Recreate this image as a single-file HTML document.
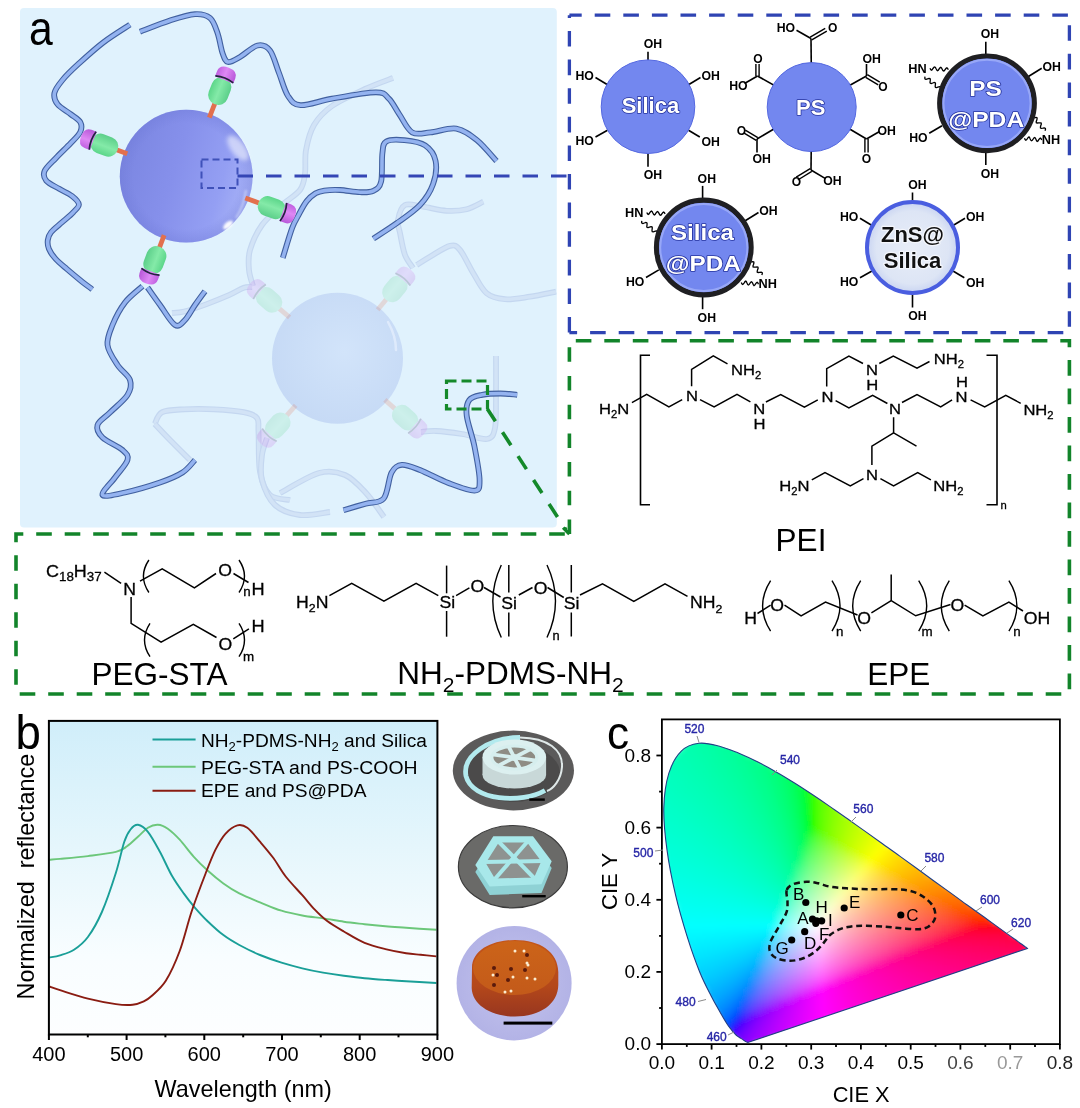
<!DOCTYPE html>
<html><head><meta charset="utf-8"><title>Figure</title>
<style>
html,body{margin:0;padding:0;background:#fff;}
body{width:1080px;height:1108px;overflow:hidden;}
svg{display:block;font-family:"Liberation Sans",sans-serif;filter:blur(0.5px);}
</style></head><body>
<svg width="1080" height="1108" viewBox="0 0 1080 1108">
<defs>
<linearGradient id="sph1" x1="0" y1="0.2" x2="1" y2="0.5">
 <stop offset="0" stop-color="#7a85e0"/>
 <stop offset="0.45" stop-color="#8690eb"/>
 <stop offset="0.8" stop-color="#949ff3"/>
 <stop offset="1" stop-color="#a6b1f6"/>
</linearGradient>
<radialGradient id="sph1r" cx="0.5" cy="0.5" r="0.5">
 <stop offset="0.8" stop-color="#6d78d6" stop-opacity="0"/>
 <stop offset="1" stop-color="#6d78d6" stop-opacity="0.35"/>
</radialGradient>
<filter id="hb" x="-50%" y="-50%" width="200%" height="200%"><feGaussianBlur stdDeviation="2.2"/></filter>
<filter id="hb1" x="-50%" y="-50%" width="200%" height="200%"><feGaussianBlur stdDeviation="0.8"/></filter>
<radialGradient id="sph2" cx="0.55" cy="0.45" r="0.6">
 <stop offset="0" stop-color="#d2e4fa"/>
 <stop offset="1" stop-color="#c5d9f5"/>
</radialGradient>
<linearGradient id="capG" x1="0" y1="0" x2="0" y2="1">
 <stop offset="0" stop-color="#5cd68a"/>
 <stop offset="0.45" stop-color="#84eaa8"/>
 <stop offset="1" stop-color="#5ccf8a"/>
</linearGradient>
<linearGradient id="capM" x1="0" y1="0" x2="0" y2="1">
 <stop offset="0" stop-color="#c060e0"/>
 <stop offset="0.45" stop-color="#de88f4"/>
 <stop offset="1" stop-color="#b858d8"/>
</linearGradient>
<linearGradient id="plotbg" x1="0" y1="0" x2="0" y2="1">
 <stop offset="0" stop-color="#d0eefa"/>
 <stop offset="0.4" stop-color="#e5f6fc"/>
 <stop offset="0.75" stop-color="#f8fdff"/>
 <stop offset="1" stop-color="#fdfeff"/>
</linearGradient>
</defs>
<rect x="20" y="8" width="536.8" height="519.6" rx="4" fill="#e0f2fd"/>
<path d="M393,78C388.3,79.8 375.2,84.3 365,89C354.8,93.7 340.5,100 332,106C323.5,112 318.3,117.7 314,125C309.7,132.3 307.5,141.8 306,150C304.5,158.2 306,167.3 305,174C304,180.7 303.8,184.8 300,190C296.2,195.2 288.3,199.2 282,205C275.7,210.8 267.3,217.5 262,225C256.7,232.5 252.2,242.5 250,250C247.8,257.5 248.5,264 249,270C249.5,276 252.3,283.3 253,286" fill="none" stroke="#c4d7f0" stroke-width="5.8" stroke-linejoin="round"/>
<path d="M393,78C388.3,79.8 375.2,84.3 365,89C354.8,93.7 340.5,100 332,106C323.5,112 318.3,117.7 314,125C309.7,132.3 307.5,141.8 306,150C304.5,158.2 306,167.3 305,174C304,180.7 303.8,184.8 300,190C296.2,195.2 288.3,199.2 282,205C275.7,210.8 267.3,217.5 262,225C256.7,232.5 252.2,242.5 250,250C247.8,257.5 248.5,264 249,270C249.5,276 252.3,283.3 253,286" fill="none" stroke="#d2e3f6" stroke-width="3.5" stroke-linejoin="round"/>
<path d="M252,287C250.6,287.1 247.5,286.4 243.7,287.8C239.8,289.2 235.1,292.5 228.9,295.2C222.7,297.9 214.1,301.4 206.7,304.1C199.3,306.8 190.2,310 184.4,311.5C178.6,313 174.1,312.8 172,313" fill="none" stroke="#c4d7f0" stroke-width="5.8" stroke-linejoin="round"/>
<path d="M252,287C250.6,287.1 247.5,286.4 243.7,287.8C239.8,289.2 235.1,292.5 228.9,295.2C222.7,297.9 214.1,301.4 206.7,304.1C199.3,306.8 190.2,310 184.4,311.5C178.6,313 174.1,312.8 172,313" fill="none" stroke="#d2e3f6" stroke-width="3.5" stroke-linejoin="round"/>
<path d="M413,268C411.7,265.8 407.2,260.8 405,255C402.8,249.2 401.2,238.8 400,233C398.8,227.2 397.2,224.7 398,220C398.8,215.3 400.8,207.2 405,205C409.2,202.8 416.1,205.7 423,206.7C429.9,207.7 439.4,210.4 446.7,210.8C454,211.2 460.6,210.7 466.7,209.2C472.8,207.7 480.5,202.9 483.3,201.7" fill="none" stroke="#c4d7f0" stroke-width="5.8" stroke-linejoin="round"/>
<path d="M413,268C411.7,265.8 407.2,260.8 405,255C402.8,249.2 401.2,238.8 400,233C398.8,227.2 397.2,224.7 398,220C398.8,215.3 400.8,207.2 405,205C409.2,202.8 416.1,205.7 423,206.7C429.9,207.7 439.4,210.4 446.7,210.8C454,211.2 460.6,210.7 466.7,209.2C472.8,207.7 480.5,202.9 483.3,201.7" fill="none" stroke="#d2e3f6" stroke-width="3.5" stroke-linejoin="round"/>
<path d="M416.7,265C418.9,263.6 424.4,259.9 430,256.7C435.6,253.5 445,246.9 450,245.8C455,244.7 456.1,245.4 460,250C463.9,254.6 468.9,266.1 473.3,273.3C477.8,280.5 481.4,289 486.7,293.3C492,297.6 497.8,298.6 505,299.2C512.2,299.8 521.5,297.9 530,296.7C538.5,295.4 551.7,292.5 556,291.7" fill="none" stroke="#c4d7f0" stroke-width="5.8" stroke-linejoin="round"/>
<path d="M416.7,265C418.9,263.6 424.4,259.9 430,256.7C435.6,253.5 445,246.9 450,245.8C455,244.7 456.1,245.4 460,250C463.9,254.6 468.9,266.1 473.3,273.3C477.8,280.5 481.4,289 486.7,293.3C492,297.6 497.8,298.6 505,299.2C512.2,299.8 521.5,297.9 530,296.7C538.5,295.4 551.7,292.5 556,291.7" fill="none" stroke="#d2e3f6" stroke-width="3.5" stroke-linejoin="round"/>
<path d="M154.8,424C156,422 157.3,414.6 162.2,412.2C167.1,409.8 175.8,409.8 184.4,409.3C193,408.8 204.1,408.8 214,409.3C223.9,409.8 236.5,410.8 243.7,412.2C250.9,413.6 254.5,414.7 257,418C259.5,421.3 258,423 258.5,432C259,441 258.1,461.5 260,472C261.9,482.5 265,490.3 270,495C275,499.7 286.7,499.2 290,500" fill="none" stroke="#c4d7f0" stroke-width="5.8" stroke-linejoin="round"/>
<path d="M154.8,424C156,422 157.3,414.6 162.2,412.2C167.1,409.8 175.8,409.8 184.4,409.3C193,408.8 204.1,408.8 214,409.3C223.9,409.8 236.5,410.8 243.7,412.2C250.9,413.6 254.5,414.7 257,418C259.5,421.3 258,423 258.5,432C259,441 258.1,461.5 260,472C261.9,482.5 265,490.3 270,495C275,499.7 286.7,499.2 290,500" fill="none" stroke="#d2e3f6" stroke-width="3.5" stroke-linejoin="round"/>
<path d="M154.8,424C157.3,426.7 164.1,434 170,440C175.9,446 186.7,456.7 190,460" fill="none" stroke="#c4d7f0" stroke-width="5.8" stroke-linejoin="round"/>
<path d="M154.8,424C157.3,426.7 164.1,434 170,440C175.9,446 186.7,456.7 190,460" fill="none" stroke="#d2e3f6" stroke-width="3.5" stroke-linejoin="round"/>
<path d="M280,493C286.5,489.7 308.2,476 319,473C329.8,470 337.2,471.7 345,475C352.8,478.3 359.5,486 366,493C372.5,500 381,513 384,517" fill="none" stroke="#c4d7f0" stroke-width="5.8" stroke-linejoin="round"/>
<path d="M280,493C286.5,489.7 308.2,476 319,473C329.8,470 337.2,471.7 345,475C352.8,478.3 359.5,486 366,493C372.5,500 381,513 384,517" fill="none" stroke="#d2e3f6" stroke-width="3.5" stroke-linejoin="round"/>
<path d="M421,432C423.5,431.8 429.2,430.7 436,431C442.8,431.3 453.5,432.7 462,434C470.5,435.3 481.5,440 487,439C492.5,438 493.5,435.3 495,428C496.5,420.7 495.8,407 496,395C496.2,383 496,362.5 496,356" fill="none" stroke="#c4d7f0" stroke-width="5.8" stroke-linejoin="round"/>
<path d="M421,432C423.5,431.8 429.2,430.7 436,431C442.8,431.3 453.5,432.7 462,434C470.5,435.3 481.5,440 487,439C492.5,438 493.5,435.3 495,428C496.5,420.7 495.8,407 496,395C496.2,383 496,362.5 496,356" fill="none" stroke="#d2e3f6" stroke-width="3.5" stroke-linejoin="round"/>
<path d="M267,438C266.2,440.8 262.8,448 262,455C261.2,462 259.8,471.7 262,480C264.2,488.3 268.7,499.2 275,505C281.3,510.8 290.8,513.8 300,515C309.2,516.2 325,512.5 330,512" fill="none" stroke="#c4d7f0" stroke-width="5.8" stroke-linejoin="round"/>
<path d="M267,438C266.2,440.8 262.8,448 262,455C261.2,462 259.8,471.7 262,480C264.2,488.3 268.7,499.2 275,505C281.3,510.8 290.8,513.8 300,515C309.2,516.2 325,512.5 330,512" fill="none" stroke="#d2e3f6" stroke-width="3.5" stroke-linejoin="round"/>
<circle cx="337.5" cy="358.3" r="65.5" fill="url(#sph2)"/>
<path d="M388,322 Q396,336 396,350" fill="none" stroke="#e4eefc" stroke-width="2.5" stroke-linecap="round" opacity="0.8"/>
<g transform="translate(337.5,358.3) rotate(220.5)" opacity="0.2">
<rect x="63" y="-2.4" width="17" height="4.8" fill="#e2704e"/>
<g transform="translate(3,0)">
<rect x="73" y="-10" width="28" height="20" rx="9.5" fill="url(#capG)"/>
<path d="M99,-9.8 H104.5 Q112,-9.8 112,0 Q112,9.8 104.5,9.8 H99 Z" fill="url(#capM)"/>
<path d="M99.5,-9.6 Q102.5,0 99.5,9.6" fill="none" stroke="#23233f" stroke-width="1.7"/>
</g></g>
<g transform="translate(337.5,358.3) rotate(-50.4)" opacity="0.2">
<rect x="63" y="-2.4" width="17" height="4.8" fill="#e2704e"/>
<g transform="translate(3,0)">
<rect x="73" y="-10" width="28" height="20" rx="9.5" fill="url(#capG)"/>
<path d="M99,-9.8 H104.5 Q112,-9.8 112,0 Q112,9.8 104.5,9.8 H99 Z" fill="url(#capM)"/>
<path d="M99.5,-9.6 Q102.5,0 99.5,9.6" fill="none" stroke="#23233f" stroke-width="1.7"/>
</g></g>
<g transform="translate(337.5,358.3) rotate(131.6)" opacity="0.2">
<rect x="63" y="-2.4" width="17" height="4.8" fill="#e2704e"/>
<g transform="translate(3,0)">
<rect x="73" y="-10" width="28" height="20" rx="9.5" fill="url(#capG)"/>
<path d="M99,-9.8 H104.5 Q112,-9.8 112,0 Q112,9.8 104.5,9.8 H99 Z" fill="url(#capM)"/>
<path d="M99.5,-9.6 Q102.5,0 99.5,9.6" fill="none" stroke="#23233f" stroke-width="1.7"/>
</g></g>
<g transform="translate(337.5,358.3) rotate(41.3)" opacity="0.2">
<rect x="63" y="-2.4" width="17" height="4.8" fill="#e2704e"/>
<g transform="translate(3,0)">
<rect x="73" y="-10" width="28" height="20" rx="9.5" fill="url(#capG)"/>
<path d="M99,-9.8 H104.5 Q112,-9.8 112,0 Q112,9.8 104.5,9.8 H99 Z" fill="url(#capM)"/>
<path d="M99.5,-9.6 Q102.5,0 99.5,9.6" fill="none" stroke="#23233f" stroke-width="1.7"/>
</g></g>
<path d="M129.9,24.7C125.4,27.7 111.6,36.1 103.1,42.6C94.6,49.1 85.5,57.5 78.7,63.7C71.9,69.9 66.5,75.1 62.5,80C58.5,84.9 55.2,89 54.4,93C53.6,97 54.9,100.8 57.6,104.3C60.3,107.8 66.8,111.1 70.6,114.1C74.4,117.1 78.7,119.2 80.3,122.2C81.9,125.2 81.9,128.4 80.3,131.9C78.7,135.4 74.6,139 70.6,143.3C66.5,147.6 60.3,153.3 56,157.9C51.7,162.5 46.2,167.1 44.6,170.9C43,174.7 43.8,177.6 46.2,180.6C48.6,183.6 54.9,186.2 59.2,188.8C63.5,191.4 68.7,193.4 72,196C75.3,198.6 78.7,201.7 78.9,204.4C79.1,207.1 76.1,209.2 73.3,212.2C70.5,215.2 65.9,218.9 62.2,222.2C58.5,225.5 53.5,229.2 51.1,232.2C48.7,235.2 48.2,237.2 47.8,240C47.4,242.8 47.6,245.8 48.9,248.9C50.2,252.1 52.6,255.6 55.6,258.9C58.6,262.2 62.6,265.4 66.7,268.9C70.8,272.4 75.8,276.6 80,280C84.2,283.4 90.2,287.8 92.2,289.4" fill="none" stroke="#41609f" stroke-width="5.8" stroke-linejoin="round"/>
<path d="M129.9,24.7C125.4,27.7 111.6,36.1 103.1,42.6C94.6,49.1 85.5,57.5 78.7,63.7C71.9,69.9 66.5,75.1 62.5,80C58.5,84.9 55.2,89 54.4,93C53.6,97 54.9,100.8 57.6,104.3C60.3,107.8 66.8,111.1 70.6,114.1C74.4,117.1 78.7,119.2 80.3,122.2C81.9,125.2 81.9,128.4 80.3,131.9C78.7,135.4 74.6,139 70.6,143.3C66.5,147.6 60.3,153.3 56,157.9C51.7,162.5 46.2,167.1 44.6,170.9C43,174.7 43.8,177.6 46.2,180.6C48.6,183.6 54.9,186.2 59.2,188.8C63.5,191.4 68.7,193.4 72,196C75.3,198.6 78.7,201.7 78.9,204.4C79.1,207.1 76.1,209.2 73.3,212.2C70.5,215.2 65.9,218.9 62.2,222.2C58.5,225.5 53.5,229.2 51.1,232.2C48.7,235.2 48.2,237.2 47.8,240C47.4,242.8 47.6,245.8 48.9,248.9C50.2,252.1 52.6,255.6 55.6,258.9C58.6,262.2 62.6,265.4 66.7,268.9C70.8,272.4 75.8,276.6 80,280C84.2,283.4 90.2,287.8 92.2,289.4" fill="none" stroke="#94b3f0" stroke-width="3.6" stroke-linejoin="round"/>
<path d="M140,31.8C145,29.9 160.8,23.4 170,20.5C179.2,17.6 188.3,14.7 195,14.2C201.7,13.8 206.2,14.9 210,18C213.8,21.1 215.4,27.2 217.5,33C219.6,38.8 220.8,48.2 222.5,53C224.2,57.8 225.1,61.3 228,62C230.9,62.7 235.1,59.8 240,57C244.9,54.2 252.5,46.6 257.5,45.5C262.5,44.4 266.4,45.9 270,50.5C273.6,55.1 276,65.4 279,73C282,80.6 284.4,90.6 288,96C291.6,101.4 293.4,104.8 300.7,105.2C308,105.7 319.4,100.9 331.9,98.7C344.4,96.5 366.4,92.3 375.9,92.3C385.4,92.3 385,95 388.9,98.7C392.8,102.4 395.4,108.7 399.3,114.3C403.2,119.9 407,129.4 412.2,132.4C417.4,135.4 423,133 430.4,132.4C437.8,131.8 448.5,127.3 456.3,128.6C464.1,129.9 470.3,134.8 477,140.2C483.7,145.6 493.2,157.5 496.5,161" fill="none" stroke="#41609f" stroke-width="5.8" stroke-linejoin="round"/>
<path d="M140,31.8C145,29.9 160.8,23.4 170,20.5C179.2,17.6 188.3,14.7 195,14.2C201.7,13.8 206.2,14.9 210,18C213.8,21.1 215.4,27.2 217.5,33C219.6,38.8 220.8,48.2 222.5,53C224.2,57.8 225.1,61.3 228,62C230.9,62.7 235.1,59.8 240,57C244.9,54.2 252.5,46.6 257.5,45.5C262.5,44.4 266.4,45.9 270,50.5C273.6,55.1 276,65.4 279,73C282,80.6 284.4,90.6 288,96C291.6,101.4 293.4,104.8 300.7,105.2C308,105.7 319.4,100.9 331.9,98.7C344.4,96.5 366.4,92.3 375.9,92.3C385.4,92.3 385,95 388.9,98.7C392.8,102.4 395.4,108.7 399.3,114.3C403.2,119.9 407,129.4 412.2,132.4C417.4,135.4 423,133 430.4,132.4C437.8,131.8 448.5,127.3 456.3,128.6C464.1,129.9 470.3,134.8 477,140.2C483.7,145.6 493.2,157.5 496.5,161" fill="none" stroke="#94b3f0" stroke-width="3.6" stroke-linejoin="round"/>
<path d="M282.8,257.8C284.4,252.8 289.5,235 292.2,227.8C294.9,220.6 296.5,218.9 298.9,214.4C301.3,209.9 303.9,204.6 306.7,201.1C309.5,197.6 312.7,195.1 315.6,193.3C318.6,191.6 320.3,191.2 324.4,190.6C328.5,190 334.1,189.7 340,190C345.9,190.3 354.4,192.1 360,192.2C365.6,192.3 369.8,192.6 373.3,190.8C376.8,189.1 379.6,188 381.1,181.7C382.6,175.4 381.5,159.9 382.4,153.2C383.3,146.5 382.6,143.7 386.3,141.5C390,139.3 397.9,139.5 404.4,140.2C410.9,140.8 420,141.9 425.2,145.4C430.4,148.9 434.3,154.5 435.6,161C436.9,167.5 435.6,177 433,184.3C430.4,191.6 426.1,198.5 420,205C413.9,211.5 404.5,217.6 396.7,223.2C388.9,228.8 377.2,236.1 373.3,238.7" fill="none" stroke="#41609f" stroke-width="5.8" stroke-linejoin="round"/>
<path d="M282.8,257.8C284.4,252.8 289.5,235 292.2,227.8C294.9,220.6 296.5,218.9 298.9,214.4C301.3,209.9 303.9,204.6 306.7,201.1C309.5,197.6 312.7,195.1 315.6,193.3C318.6,191.6 320.3,191.2 324.4,190.6C328.5,190 334.1,189.7 340,190C345.9,190.3 354.4,192.1 360,192.2C365.6,192.3 369.8,192.6 373.3,190.8C376.8,189.1 379.6,188 381.1,181.7C382.6,175.4 381.5,159.9 382.4,153.2C383.3,146.5 382.6,143.7 386.3,141.5C390,139.3 397.9,139.5 404.4,140.2C410.9,140.8 420,141.9 425.2,145.4C430.4,148.9 434.3,154.5 435.6,161C436.9,167.5 435.6,177 433,184.3C430.4,191.6 426.1,198.5 420,205C413.9,211.5 404.5,217.6 396.7,223.2C388.9,228.8 377.2,236.1 373.3,238.7" fill="none" stroke="#94b3f0" stroke-width="3.6" stroke-linejoin="round"/>
<path d="M142.5,286.2C139.6,289 130,296 125,302.5C120,309 115.4,317.9 112.5,325C109.6,332.1 106.7,338.3 107.5,345C108.3,351.7 113.8,359.2 117.5,365C121.2,370.8 128.3,375 130,380C131.7,385 130.8,389.6 127.5,395C124.2,400.4 115,407.5 110,412.5C105,417.5 98.8,420.8 97.5,425C96.2,429.2 98.3,433.3 102.5,437.5C106.7,441.7 118.3,446.2 122.5,450C126.7,453.8 128.8,455.4 127.5,460C126.2,464.6 119.2,471.7 115,477.5C110.8,483.3 100.8,492.5 102.5,495C104.2,497.5 115.4,494.6 125,492.5C134.6,490.4 150.4,485.8 160,482.5C169.6,479.2 176.7,476.2 182.5,472.5C188.3,468.8 192.9,462.1 195,460" fill="none" stroke="#41609f" stroke-width="5.8" stroke-linejoin="round"/>
<path d="M142.5,286.2C139.6,289 130,296 125,302.5C120,309 115.4,317.9 112.5,325C109.6,332.1 106.7,338.3 107.5,345C108.3,351.7 113.8,359.2 117.5,365C121.2,370.8 128.3,375 130,380C131.7,385 130.8,389.6 127.5,395C124.2,400.4 115,407.5 110,412.5C105,417.5 98.8,420.8 97.5,425C96.2,429.2 98.3,433.3 102.5,437.5C106.7,441.7 118.3,446.2 122.5,450C126.7,453.8 128.8,455.4 127.5,460C126.2,464.6 119.2,471.7 115,477.5C110.8,483.3 100.8,492.5 102.5,495C104.2,497.5 115.4,494.6 125,492.5C134.6,490.4 150.4,485.8 160,482.5C169.6,479.2 176.7,476.2 182.5,472.5C188.3,468.8 192.9,462.1 195,460" fill="none" stroke="#94b3f0" stroke-width="3.6" stroke-linejoin="round"/>
<path d="M147.5,287.5C149.6,290.4 155.4,298.8 160,305C164.6,311.2 170.8,322.5 175,325C179.2,327.5 181.7,323.3 185,320C188.3,316.7 191.7,309.8 195,305C198.3,300.2 203.3,293.5 205,291.2" fill="none" stroke="#41609f" stroke-width="5.8" stroke-linejoin="round"/>
<path d="M147.5,287.5C149.6,290.4 155.4,298.8 160,305C164.6,311.2 170.8,322.5 175,325C179.2,327.5 181.7,323.3 185,320C188.3,316.7 191.7,309.8 195,305C198.3,300.2 203.3,293.5 205,291.2" fill="none" stroke="#94b3f0" stroke-width="3.6" stroke-linejoin="round"/>
<path d="M343.5,510.2C347.2,509.1 358.9,505.6 365.6,503.7C372.3,501.8 379.4,503.7 383.7,498.5C388,493.3 388.5,478.2 391.5,472.6C394.5,467 397.1,465.2 401.9,464.8C406.6,464.4 412.2,467 420,470C427.8,473 439.4,479.6 448.5,483C457.6,486.4 469.3,491.1 474.5,490.7C479.7,490.3 479.6,487.7 479.6,480.4C479.6,473.1 476.6,457.5 474.5,446.7C472.4,435.9 467.6,423.4 466.7,415.6C465.8,407.8 466.7,403.5 469.3,400C471.9,396.5 477,395.9 482.2,394.8C487.4,393.7 494.6,393.5 500.4,393.5C506.2,393.5 514.4,394.6 517.2,394.8" fill="none" stroke="#41609f" stroke-width="5.8" stroke-linejoin="round"/>
<path d="M343.5,510.2C347.2,509.1 358.9,505.6 365.6,503.7C372.3,501.8 379.4,503.7 383.7,498.5C388,493.3 388.5,478.2 391.5,472.6C394.5,467 397.1,465.2 401.9,464.8C406.6,464.4 412.2,467 420,470C427.8,473 439.4,479.6 448.5,483C457.6,486.4 469.3,491.1 474.5,490.7C479.7,490.3 479.6,487.7 479.6,480.4C479.6,473.1 476.6,457.5 474.5,446.7C472.4,435.9 467.6,423.4 466.7,415.6C465.8,407.8 466.7,403.5 469.3,400C471.9,396.5 477,395.9 482.2,394.8C487.4,393.7 494.6,393.5 500.4,393.5C506.2,393.5 514.4,394.6 517.2,394.8" fill="none" stroke="#94b3f0" stroke-width="3.6" stroke-linejoin="round"/>
<circle cx="186.2" cy="176.2" r="66.4" fill="url(#sph1)"/>
<circle cx="186.2" cy="176.2" r="66.4" fill="url(#sph1r)"/>
<ellipse cx="238" cy="148" rx="7" ry="15" transform="rotate(-38 238 148)" fill="#f4f7ff" opacity="0.6" filter="url(#hb)"/>
<ellipse cx="228" cy="225" rx="6" ry="3" transform="rotate(-40 228 225)" fill="#ffffff" opacity="0.95" filter="url(#hb1)"/>
<path d="M246,190 Q244,206 236,218" fill="none" stroke="#d6ddfb" stroke-width="2" opacity="0.7" filter="url(#hb1)"/>
<g transform="translate(186.2,176.2) rotate(-68.5)">
<rect x="63" y="-2.4" width="18.5" height="4.8" fill="#e2704e"/>
<g transform="translate(4.5,0)">
<rect x="73" y="-10" width="28" height="20" rx="9.5" fill="url(#capG)"/>
<path d="M99,-9.8 H104.5 Q112,-9.8 112,0 Q112,9.8 104.5,9.8 H99 Z" fill="url(#capM)"/>
<path d="M99.5,-9.6 Q102.5,0 99.5,9.6" fill="none" stroke="#23233f" stroke-width="1.7"/>
</g></g>
<g transform="translate(186.2,176.2) rotate(200.8)">
<rect x="63" y="-2.4" width="14.5" height="4.8" fill="#e2704e"/>
<g transform="translate(0.5,0)">
<rect x="73" y="-10" width="28" height="20" rx="9.5" fill="url(#capG)"/>
<path d="M99,-9.8 H104.5 Q112,-9.8 112,0 Q112,9.8 104.5,9.8 H99 Z" fill="url(#capM)"/>
<path d="M99.5,-9.6 Q102.5,0 99.5,9.6" fill="none" stroke="#23233f" stroke-width="1.7"/>
</g></g>
<g transform="translate(186.2,176.2) rotate(20.2)">
<rect x="63" y="-2.4" width="18" height="4.8" fill="#e2704e"/>
<g transform="translate(4,0)">
<rect x="73" y="-10" width="28" height="20" rx="9.5" fill="url(#capG)"/>
<path d="M99,-9.8 H104.5 Q112,-9.8 112,0 Q112,9.8 104.5,9.8 H99 Z" fill="url(#capM)"/>
<path d="M99.5,-9.6 Q102.5,0 99.5,9.6" fill="none" stroke="#23233f" stroke-width="1.7"/>
</g></g>
<g transform="translate(186.2,176.2) rotate(110.5)">
<rect x="63" y="-2.4" width="16.5" height="4.8" fill="#e2704e"/>
<g transform="translate(2.5,0)">
<rect x="73" y="-10" width="28" height="20" rx="9.5" fill="url(#capG)"/>
<path d="M99,-9.8 H104.5 Q112,-9.8 112,0 Q112,9.8 104.5,9.8 H99 Z" fill="url(#capM)"/>
<path d="M99.5,-9.6 Q102.5,0 99.5,9.6" fill="none" stroke="#23233f" stroke-width="1.7"/>
</g></g>
<rect x="201.5" y="159.5" width="36" height="28.5" fill="none" stroke="#3f51b9" stroke-width="2" stroke-dasharray="7 4"/>
<line x1="237.5" y1="176" x2="569" y2="176" stroke="#3446b5" stroke-width="3.2" stroke-dasharray="15.5 13"/>
<rect x="446.5" y="381" width="41" height="28" fill="none" stroke="#14892a" stroke-width="3.2" stroke-dasharray="10 5"/>
<line x1="487.4" y1="409" x2="566" y2="530" stroke="#14892a" stroke-width="3.6" stroke-dasharray="15.5 13" stroke-dashoffset="0.8"/>
<text transform="translate(29.1,44.8) scale(0.88,1)" font-size="48.5">a</text>
<path d="M569.4,15.2 H1069.4" fill="none" stroke="#2f44b3" stroke-width="3.3" stroke-dasharray="15.6 13" stroke-dashoffset="3.3"/>
<path d="M1069.4,15.2 V332.6" fill="none" stroke="#2f44b3" stroke-width="3.3" stroke-dasharray="15.6 13" stroke-dashoffset="18.6"/>
<path d="M1069.4,332.6 H569.4" fill="none" stroke="#2f44b3" stroke-width="3.3" stroke-dasharray="15.6 13" stroke-dashoffset="22.5"/>
<path d="M569.4,332.6 V15.2" fill="none" stroke="#2f44b3" stroke-width="3.3" stroke-dasharray="15.6 13" stroke-dashoffset="0"/>
<path d="M569.7,340.7 H1069.4 V694 H16 V534 H569.7" fill="none" stroke="#12842a" stroke-width="3.6" stroke-dasharray="15.6 12.9" stroke-dashoffset="22.4"/>
<path d="M569.4,534 V340.7" fill="none" stroke="#12842a" stroke-width="3.6" stroke-dasharray="14.5 14.2"/>
<path d="M563.2,527.6 L569.4,534.2" fill="none" stroke="#12842a" stroke-width="3.4"/>
<defs>
<radialGradient id="znsG" cx="0.5" cy="0.5" r="0.5">
 <stop offset="0" stop-color="#e8edf8"/>
 <stop offset="0.8" stop-color="#dde5f5"/>
 <stop offset="1" stop-color="#c9d4f2"/>
</radialGradient>
</defs>
<line x1="648" y1="51.7" x2="648" y2="61.7" stroke="#000" stroke-width="1.6"/>
<text x="643.8" y="47.9" font-size="12" font-weight="bold" textLength="18.4" lengthAdjust="spacingAndGlyphs">OH</text>
<line x1="688.5" y1="84.7" x2="700.5" y2="77.5" stroke="#000" stroke-width="1.6"/>
<text x="701.5" y="79.7" font-size="12" font-weight="bold" textLength="18.4" lengthAdjust="spacingAndGlyphs">OH</text>
<line x1="688.5" y1="130.2" x2="699.8" y2="137" stroke="#000" stroke-width="1.6"/>
<text x="701.5" y="145.7" font-size="12" font-weight="bold" textLength="18.4" lengthAdjust="spacingAndGlyphs">OH</text>
<line x1="648" y1="151.7" x2="648" y2="166.7" stroke="#000" stroke-width="1.6"/>
<text x="643.8" y="178.7" font-size="12" font-weight="bold" textLength="18.4" lengthAdjust="spacingAndGlyphs">OH</text>
<line x1="607.5" y1="84.7" x2="595.5" y2="77.5" stroke="#000" stroke-width="1.6"/>
<text x="575.5" y="79.7" font-size="12" font-weight="bold" textLength="18.4" lengthAdjust="spacingAndGlyphs">HO</text>
<line x1="607.5" y1="130.2" x2="595.5" y2="137" stroke="#000" stroke-width="1.6"/>
<text x="575.5" y="145.2" font-size="12" font-weight="bold" textLength="18.4" lengthAdjust="spacingAndGlyphs">HO</text>
<circle cx="648" cy="106.7" r="46.8" fill="#7387ef" stroke="#5468e0" stroke-width="1"/>
<text x="650.4" y="113.3" font-size="22" font-weight="bold" text-anchor="middle" fill="#fff" stroke="#25339e" stroke-width="1.6" paint-order="stroke" stroke-linejoin="round">Silica</text>
<line x1="912.5" y1="192.5" x2="912.5" y2="202.5" stroke="#000" stroke-width="1.6"/>
<text x="908.3" y="188.7" font-size="12" font-weight="bold" textLength="18.4" lengthAdjust="spacingAndGlyphs">OH</text>
<line x1="953" y1="225.5" x2="965" y2="218.3" stroke="#000" stroke-width="1.6"/>
<text x="966" y="220.5" font-size="12" font-weight="bold" textLength="18.4" lengthAdjust="spacingAndGlyphs">OH</text>
<line x1="953" y1="271" x2="964.3" y2="277.8" stroke="#000" stroke-width="1.6"/>
<text x="966" y="286.5" font-size="12" font-weight="bold" textLength="18.4" lengthAdjust="spacingAndGlyphs">OH</text>
<line x1="912.5" y1="292.5" x2="912.5" y2="307.5" stroke="#000" stroke-width="1.6"/>
<text x="908.3" y="319.5" font-size="12" font-weight="bold" textLength="18.4" lengthAdjust="spacingAndGlyphs">OH</text>
<line x1="872" y1="225.5" x2="860" y2="218.3" stroke="#000" stroke-width="1.6"/>
<text x="840" y="220.5" font-size="12" font-weight="bold" textLength="18.4" lengthAdjust="spacingAndGlyphs">HO</text>
<line x1="872" y1="271" x2="860" y2="277.8" stroke="#000" stroke-width="1.6"/>
<text x="840" y="286" font-size="12" font-weight="bold" textLength="18.4" lengthAdjust="spacingAndGlyphs">HO</text>
<circle cx="912.5" cy="247.5" r="45.5" fill="url(#znsG)" stroke="#4a5ee0" stroke-width="4"/>
<text x="912.5" y="241.7" font-size="22" font-weight="bold" text-anchor="middle" fill="#111" stroke="#f4f6fc" stroke-width="2.5" paint-order="stroke" stroke-linejoin="round">ZnS@</text>
<text x="912.5" y="268.3" font-size="22" font-weight="bold" text-anchor="middle" fill="#111" stroke="#f4f6fc" stroke-width="2.5" paint-order="stroke" stroke-linejoin="round">Silica</text>
<line x1="985.8" y1="41.7" x2="985.8" y2="55.3" stroke="#000" stroke-width="1.6"/>
<text x="980.8" y="38.3" font-size="12" font-weight="bold" textLength="18.4" lengthAdjust="spacingAndGlyphs">OH</text>
<line x1="1028" y1="76.8" x2="1041.7" y2="68.3" stroke="#000" stroke-width="1.6"/>
<text x="1042.5" y="70.8" font-size="12" font-weight="bold" textLength="18.4" lengthAdjust="spacingAndGlyphs">OH</text>
<line x1="942" y1="125.7" x2="929.2" y2="133.3" stroke="#000" stroke-width="1.6"/>
<text x="909.2" y="141.7" font-size="12" font-weight="bold" textLength="18.4" lengthAdjust="spacingAndGlyphs">HO</text>
<line x1="985.8" y1="151.3" x2="985.8" y2="165" stroke="#000" stroke-width="1.6"/>
<text x="980.8" y="177.5" font-size="12" font-weight="bold" textLength="18.4" lengthAdjust="spacingAndGlyphs">OH</text>
<text x="908.3" y="72.5" font-size="12" font-weight="bold" textLength="18.4" lengthAdjust="spacingAndGlyphs">HN</text>
<path d="M930,68.3 L930.7,69.6 L931.4,70.2 L932.2,69.7 L933,68.5 L933.9,67.3 L934.7,66.9 L935.4,67.4 L936.1,68.8 L936.8,70.1 L937.5,70.7 L938.3,70.2 L939.1,69 L940,67.8 L940.8,67.3 L941.5,67.9 L942.2,69.2 L942.9,70.6 L943.6,71.1 L944.4,70.7 L945.2,69.5 L946.1,68.3 L946.9,67.8 L947.6,68.4 L948.3,69.7" fill="none" stroke="#000" stroke-width="1.3"/>
<path d="M925,76.7 L924.8,78.2 L925.2,79.1 L926.1,79.3 L927.6,78.8 L929,78.3 L930,78.5 L930.3,79.4 L930.2,80.9 L930,82.4 L930.3,83.3 L931.3,83.5 L932.8,83 L934.2,82.5 L935.2,82.7 L935.5,83.6 L935.3,85.1 L935.2,86.6 L935.5,87.5 L936.5,87.7 L937.9,87.2 L939.4,86.7 L940.3,86.9 L940.7,87.8 L940.5,89.3" fill="none" stroke="#000" stroke-width="1.3"/>
<text x="1041.7" y="144.2" font-size="12" font-weight="bold" textLength="18.4" lengthAdjust="spacingAndGlyphs">NH</text>
<path d="M1024.5,138.3 L1025.1,139.6 L1025.8,140.2 L1026.5,139.8 L1027.4,138.6 L1028.2,137.4 L1029,136.9 L1029.6,137.5 L1030.2,138.9 L1030.8,140.2 L1031.5,140.8 L1032.3,140.3 L1033.1,139.2 L1033.9,138 L1034.7,137.5 L1035.4,138.1 L1036,139.4 L1036.6,140.8 L1037.2,141.4 L1038,140.9 L1038.8,139.7 L1039.7,138.5 L1040.4,138.1 L1041.1,138.7 L1041.7,140" fill="none" stroke="#000" stroke-width="1.3"/>
<path d="M1032.5,115 L1032,116.4 L1032.1,117.4 L1033.1,117.8 L1034.6,117.6 L1036.1,117.5 L1037,117.8 L1037.1,118.8 L1036.7,120.3 L1036.2,121.7 L1036.3,122.7 L1037.2,123 L1038.8,122.9 L1040.3,122.8 L1041.2,123.1 L1041.3,124.1 L1040.8,125.5 L1040.4,127 L1040.5,128 L1041.4,128.3 L1042.9,128.2 L1044.4,128 L1045.4,128.4 L1045.5,129.4 L1045,130.8" fill="none" stroke="#000" stroke-width="1.3"/>
<circle cx="987" cy="103.3" r="47.3" fill="#7387ef" stroke="#1f1f22" stroke-width="5.2"/>
<circle cx="987" cy="103.3" r="43.6" fill="none" stroke="#97a7f7" stroke-width="2"/>
<text x="985.4" y="95.8" font-size="22" font-weight="bold" text-anchor="middle" fill="#fff" stroke="#25339e" stroke-width="1.6" paint-order="stroke" stroke-linejoin="round" textLength="32.5" lengthAdjust="spacingAndGlyphs">PS</text>
<text x="986.2" y="126.7" font-size="22" font-weight="bold" text-anchor="middle" fill="#fff" stroke="#25339e" stroke-width="1.6" paint-order="stroke" stroke-linejoin="round" textLength="76" lengthAdjust="spacingAndGlyphs">@PDA</text>
<line x1="702.6" y1="185.9" x2="702.6" y2="199.5" stroke="#000" stroke-width="1.6"/>
<text x="697.6" y="182.5" font-size="12" font-weight="bold" textLength="18.4" lengthAdjust="spacingAndGlyphs">OH</text>
<line x1="744.8" y1="221" x2="758.5" y2="212.5" stroke="#000" stroke-width="1.6"/>
<text x="759.3" y="215" font-size="12" font-weight="bold" textLength="18.4" lengthAdjust="spacingAndGlyphs">OH</text>
<line x1="658.8" y1="269.9" x2="646" y2="277.5" stroke="#000" stroke-width="1.6"/>
<text x="626" y="285.9" font-size="12" font-weight="bold" textLength="18.4" lengthAdjust="spacingAndGlyphs">HO</text>
<line x1="702.6" y1="295.5" x2="702.6" y2="309.2" stroke="#000" stroke-width="1.6"/>
<text x="697.6" y="321.7" font-size="12" font-weight="bold" textLength="18.4" lengthAdjust="spacingAndGlyphs">OH</text>
<text x="625.1" y="216.7" font-size="12" font-weight="bold" textLength="18.4" lengthAdjust="spacingAndGlyphs">HN</text>
<path d="M646.8,212.5 L647.5,213.8 L648.2,214.4 L649,213.9 L649.8,212.7 L650.7,211.5 L651.5,211.1 L652.2,211.6 L652.9,213 L653.6,214.3 L654.3,214.9 L655.1,214.4 L655.9,213.2 L656.8,212 L657.6,211.5 L658.3,212.1 L659,213.4 L659.7,214.8 L660.4,215.3 L661.2,214.9 L662,213.7 L662.9,212.5 L663.7,212 L664.4,212.6 L665.1,213.9" fill="none" stroke="#000" stroke-width="1.3"/>
<path d="M641.8,220.9 L641.6,222.4 L642,223.3 L642.9,223.5 L644.4,223 L645.8,222.5 L646.8,222.7 L647.1,223.6 L647,225.1 L646.8,226.6 L647.1,227.5 L648.1,227.7 L649.5,227.2 L651,226.7 L652,226.9 L652.3,227.8 L652.1,229.3 L652,230.8 L652.3,231.7 L653.3,231.9 L654.7,231.4 L656.2,230.9 L657.1,231.1 L657.5,232 L657.3,233.5" fill="none" stroke="#000" stroke-width="1.3"/>
<text x="758.5" y="288.4" font-size="12" font-weight="bold" textLength="18.4" lengthAdjust="spacingAndGlyphs">NH</text>
<path d="M741.3,282.5 L741.9,283.8 L742.6,284.4 L743.3,284 L744.2,282.8 L745,281.6 L745.8,281.1 L746.4,281.7 L747,283.1 L747.6,284.4 L748.3,285 L749.1,284.5 L749.9,283.4 L750.7,282.2 L751.5,281.7 L752.2,282.3 L752.8,283.6 L753.4,285 L754,285.6 L754.8,285.1 L755.6,283.9 L756.5,282.7 L757.2,282.3 L757.9,282.9 L758.5,284.2" fill="none" stroke="#000" stroke-width="1.3"/>
<path d="M749.3,259.2 L748.8,260.6 L748.9,261.6 L749.9,262 L751.4,261.8 L752.9,261.7 L753.8,262 L753.9,263 L753.5,264.5 L753,265.9 L753.1,266.9 L754,267.2 L755.5,267.1 L757.1,267 L758,267.3 L758.1,268.3 L757.6,269.7 L757.2,271.2 L757.3,272.2 L758.2,272.5 L759.7,272.4 L761.2,272.2 L762.2,272.6 L762.3,273.6 L761.8,275" fill="none" stroke="#000" stroke-width="1.3"/>
<circle cx="703.8" cy="247.5" r="47.3" fill="#7387ef" stroke="#1f1f22" stroke-width="5.2"/>
<circle cx="703.8" cy="247.5" r="43.6" fill="none" stroke="#97a7f7" stroke-width="2"/>
<text x="702.5" y="240" font-size="22" font-weight="bold" text-anchor="middle" fill="#fff" stroke="#25339e" stroke-width="1.6" paint-order="stroke" stroke-linejoin="round" textLength="63" lengthAdjust="spacingAndGlyphs">Silica</text>
<text x="703.3" y="270.8" font-size="22" font-weight="bold" text-anchor="middle" fill="#fff" stroke="#25339e" stroke-width="1.6" paint-order="stroke" stroke-linejoin="round" textLength="75" lengthAdjust="spacingAndGlyphs">@PDA</text>
<line x1="811" y1="38.5" x2="811.7" y2="106.5" stroke="#000" stroke-width="1.6"/>
<line x1="811.8" y1="39.9" x2="826.8" y2="31.2" stroke="#000" stroke-width="1.4"/>
<line x1="810.2" y1="37.1" x2="825.2" y2="28.4" stroke="#000" stroke-width="1.4"/>
<line x1="811" y1="38.5" x2="796.5" y2="30.2" stroke="#000" stroke-width="1.6"/>
<text x="828" y="32" font-size="12" font-weight="bold" textLength="9.4" lengthAdjust="spacingAndGlyphs">O</text>
<text x="776.7" y="31.7" font-size="12" font-weight="bold" textLength="18.4" lengthAdjust="spacingAndGlyphs">HO</text>
<line x1="866.5" y1="76" x2="811.7" y2="106.5" stroke="#000" stroke-width="1.6"/>
<line x1="865.7" y1="77.4" x2="878.2" y2="84.9" stroke="#000" stroke-width="1.4"/>
<line x1="867.3" y1="74.6" x2="879.8" y2="82.1" stroke="#000" stroke-width="1.4"/>
<line x1="866.5" y1="76" x2="866.5" y2="64" stroke="#000" stroke-width="1.6"/>
<text x="878.3" y="90.8" font-size="12" font-weight="bold" textLength="9.4" lengthAdjust="spacingAndGlyphs">O</text>
<text x="862.5" y="62.5" font-size="12" font-weight="bold" textLength="18.4" lengthAdjust="spacingAndGlyphs">OH</text>
<line x1="866.5" y1="139" x2="811.7" y2="106.5" stroke="#000" stroke-width="1.6"/>
<line x1="864.9" y1="139" x2="864.9" y2="152.5" stroke="#000" stroke-width="1.4"/>
<line x1="868.1" y1="139" x2="868.1" y2="152.5" stroke="#000" stroke-width="1.4"/>
<line x1="866.5" y1="139" x2="879.5" y2="131.5" stroke="#000" stroke-width="1.6"/>
<text x="861.7" y="162.5" font-size="12" font-weight="bold" textLength="9.4" lengthAdjust="spacingAndGlyphs">O</text>
<text x="877.5" y="135" font-size="12" font-weight="bold" textLength="18.4" lengthAdjust="spacingAndGlyphs">OH</text>
<line x1="811" y1="170" x2="811.7" y2="106.5" stroke="#000" stroke-width="1.6"/>
<line x1="810.2" y1="168.6" x2="796.2" y2="177.2" stroke="#000" stroke-width="1.4"/>
<line x1="811.8" y1="171.4" x2="797.8" y2="180" stroke="#000" stroke-width="1.4"/>
<line x1="811" y1="170" x2="825.5" y2="178.6" stroke="#000" stroke-width="1.6"/>
<text x="791.7" y="185.8" font-size="12" font-weight="bold" textLength="9.4" lengthAdjust="spacingAndGlyphs">O</text>
<text x="823.3" y="185" font-size="12" font-weight="bold" textLength="18.4" lengthAdjust="spacingAndGlyphs">OH</text>
<line x1="757" y1="139" x2="811.7" y2="106.5" stroke="#000" stroke-width="1.6"/>
<line x1="757.8" y1="137.6" x2="745.3" y2="130.1" stroke="#000" stroke-width="1.4"/>
<line x1="756.2" y1="140.4" x2="743.7" y2="132.9" stroke="#000" stroke-width="1.4"/>
<line x1="757" y1="139" x2="757" y2="152.5" stroke="#000" stroke-width="1.6"/>
<text x="736.7" y="135" font-size="12" font-weight="bold" textLength="9.4" lengthAdjust="spacingAndGlyphs">O</text>
<text x="752.5" y="162.5" font-size="12" font-weight="bold" textLength="18.4" lengthAdjust="spacingAndGlyphs">OH</text>
<line x1="757.5" y1="76" x2="811.7" y2="106.5" stroke="#000" stroke-width="1.6"/>
<line x1="759.1" y1="76" x2="759.1" y2="64" stroke="#000" stroke-width="1.4"/>
<line x1="755.9" y1="76" x2="755.9" y2="64" stroke="#000" stroke-width="1.4"/>
<line x1="757.5" y1="76" x2="744.5" y2="83.5" stroke="#000" stroke-width="1.6"/>
<text x="753.3" y="63.3" font-size="12" font-weight="bold" textLength="9.4" lengthAdjust="spacingAndGlyphs">O</text>
<text x="729.2" y="90" font-size="12" font-weight="bold" textLength="18.4" lengthAdjust="spacingAndGlyphs">HO</text>
<circle cx="811.7" cy="107.1" r="44.5" fill="#7387ef" stroke="#5468e0" stroke-width="1"/>
<text x="810.8" y="115" font-size="22" font-weight="bold" text-anchor="middle" fill="#fff" stroke="#25339e" stroke-width="1.6" paint-order="stroke" stroke-linejoin="round">PS</text>
<path d="M650,355.2 H640.5 V504.8 H650" fill="none" stroke="#000" stroke-width="1.6"/>
<path d="M986.5,355.2 H997 V504.8 H986.5" fill="none" stroke="#000" stroke-width="1.6"/>
<text transform="translate(1000.5,509) scale(1.07,1)" font-size="10.5" stroke="#000" stroke-width="0.3">n</text>
<text transform="translate(598.9,414.2) scale(1.07,1)" font-size="15.5" stroke="#000" stroke-width="0.3">H<tspan font-size="10.5" dy="4">2</tspan><tspan dy="-4">N</tspan></text>
<path d="M631.9,402.6 L646.7,394.4 L668.9,407 L682.2,399.6" fill="none" stroke="#000" stroke-width="1.5" stroke-linejoin="miter"/>
<text transform="translate(685.9,401.3) scale(1.07,1)" font-size="15.5" stroke="#000" stroke-width="0.3">N</text>
<path d="M691.6,386.3 L691.6,369.3 L713.3,355.9 L727.5,363.8" fill="none" stroke="#000" stroke-width="1.5" stroke-linejoin="miter"/>
<text transform="translate(731.1,375.2) scale(1.07,1)" font-size="15.5" stroke="#000" stroke-width="0.3">NH<tspan font-size="10.5" dy="4">2</tspan></text>
<path d="M700,399.6 L714.1,407 L737,394.4 L750.4,401.9" fill="none" stroke="#000" stroke-width="1.5" stroke-linejoin="miter"/>
<text transform="translate(753.3,413.9) scale(1.07,1)" font-size="15.5" stroke="#000" stroke-width="0.3">N</text>
<text transform="translate(753.6,428.6) scale(1.07,1)" font-size="15.5" stroke="#000" stroke-width="0.3">H</text>
<path d="M765.9,402 L780.7,394.6 L804.4,407.2 L817.8,399.8" fill="none" stroke="#000" stroke-width="1.5" stroke-linejoin="miter"/>
<text transform="translate(821.5,401.5) scale(1.07,1)" font-size="15.5" stroke="#000" stroke-width="0.3">N</text>
<path d="M826.7,386.5 L826.7,368.7 L848.9,356.1 L863,363.5" fill="none" stroke="#000" stroke-width="1.5" stroke-linejoin="miter"/>
<text transform="translate(865.9,374.8) scale(1.07,1)" font-size="15.5" stroke="#000" stroke-width="0.3">N</text>
<text transform="translate(866.2,389.6) scale(1.07,1)" font-size="15.5" stroke="#000" stroke-width="0.3">H</text>
<path d="M879.3,363.5 L893.3,356.1 L917,368.1 L929.5,361.5" fill="none" stroke="#000" stroke-width="1.5" stroke-linejoin="miter"/>
<text transform="translate(933.7,363.6) scale(1.07,1)" font-size="15.5" stroke="#000" stroke-width="0.3">NH<tspan font-size="10.5" dy="4">2</tspan></text>
<path d="M835.6,400.6 L848.9,408 L872.6,395.4 L887.4,403.5" fill="none" stroke="#000" stroke-width="1.5" stroke-linejoin="miter"/>
<text transform="translate(888.9,414) scale(1.07,1)" font-size="15.5" stroke="#000" stroke-width="0.3">N</text>
<path d="M902,402.5 L917,394.5 L940.7,406.9 L952.1,399.8" fill="none" stroke="#000" stroke-width="1.5" stroke-linejoin="miter"/>
<text transform="translate(955.9,386.8) scale(1.07,1)" font-size="15.5" stroke="#000" stroke-width="0.3">H</text>
<text transform="translate(955.6,401.8) scale(1.07,1)" font-size="15.5" stroke="#000" stroke-width="0.3">N</text>
<path d="M970.6,399.8 L984.7,406.9 L1005.8,395.4 L1020.7,403.3" fill="none" stroke="#000" stroke-width="1.5" stroke-linejoin="miter"/>
<text transform="translate(1023.4,414.6) scale(1.07,1)" font-size="15.5" stroke="#000" stroke-width="0.3">NH<tspan font-size="10.5" dy="4">2</tspan></text>
<path d="M893.6,417.2 L893.6,432.9 L916.5,446.1" fill="none" stroke="#000" stroke-width="1.5" stroke-linejoin="miter"/>
<path d="M893.6,432.9 L871.9,446.1 L871.9,465" fill="none" stroke="#000" stroke-width="1.5" stroke-linejoin="miter"/>
<text transform="translate(866,480) scale(1.07,1)" font-size="15.5" stroke="#000" stroke-width="0.3">N</text>
<path d="M863.5,478.6 L850.3,485.8 L825,472.6 L811.8,479.8" fill="none" stroke="#000" stroke-width="1.5" stroke-linejoin="miter"/>
<text transform="translate(779.3,490.8) scale(1.07,1)" font-size="15.5" stroke="#000" stroke-width="0.3">H<tspan font-size="10.5" dy="4">2</tspan><tspan dy="-4">N</tspan></text>
<path d="M880.4,478.6 L893.6,485.8 L917.7,472.6 L930.9,479.8" fill="none" stroke="#000" stroke-width="1.5" stroke-linejoin="miter"/>
<text transform="translate(933.3,491.2) scale(1.07,1)" font-size="15.5" stroke="#000" stroke-width="0.3">NH<tspan font-size="10.5" dy="4">2</tspan></text>
<text x="801" y="550.6" font-size="31.5" text-anchor="middle">PEI</text>
<text transform="translate(46,576.5) scale(1.07,1)" font-size="16.8" stroke="#000" stroke-width="0.3">C<tspan font-size="12.5" dy="4.4">18</tspan><tspan dy="-4.4">H</tspan><tspan font-size="12.5" dy="4.4">37</tspan></text>
<path d="M104.4,572.2 L121.1,583.3" fill="none" stroke="#000" stroke-width="1.5" stroke-linejoin="miter"/>
<text transform="translate(123.3,594.6) scale(1.07,1)" font-size="16.5" stroke="#000" stroke-width="0.3">N</text>
<path d="M140,581.1 L162.2,568.9 L194.4,587.8 L216,573.5" fill="none" stroke="#000" stroke-width="1.5" stroke-linejoin="miter"/>
<text transform="translate(218.3,576.3) scale(1.07,1)" font-size="16.5" stroke="#000" stroke-width="0.3">O</text>
<path d="M148.9,560 Q137.9,576.2 148.9,592.5" fill="none" stroke="#000" stroke-width="1.4"/>
<path d="M239,560 Q250,576.2 239,592.5" fill="none" stroke="#000" stroke-width="1.4"/>
<path d="M233.5,573.5 L248.5,582.5" fill="none" stroke="#000" stroke-width="1.5" stroke-linejoin="miter"/>
<text transform="translate(243.3,596) scale(1.07,1)" font-size="12.5" stroke="#000" stroke-width="0.3">n</text>
<text transform="translate(251.5,594.6) scale(1.07,1)" font-size="17" stroke="#000" stroke-width="0.3">H</text>
<path d="M131.1,597 L131.1,623.3 L161.1,642.2 L193.3,624.4 L216.5,637.5" fill="none" stroke="#000" stroke-width="1.5" stroke-linejoin="miter"/>
<text transform="translate(218.6,650.2) scale(1.07,1)" font-size="16.5" stroke="#000" stroke-width="0.3">O</text>
<path d="M150,623.3 Q139,640 150,656.7" fill="none" stroke="#000" stroke-width="1.4"/>
<path d="M239,623.3 Q250,640 239,656.7" fill="none" stroke="#000" stroke-width="1.4"/>
<path d="M233.3,638.9 L248.9,628.9" fill="none" stroke="#000" stroke-width="1.5" stroke-linejoin="miter"/>
<text transform="translate(243,660.5) scale(1.07,1)" font-size="12.5" stroke="#000" stroke-width="0.3">m</text>
<text transform="translate(251.5,631.8) scale(1.07,1)" font-size="17" stroke="#000" stroke-width="0.3">H</text>
<text x="159.5" y="684.6" font-size="31.5" text-anchor="middle">PEG-STA</text>
<text transform="translate(296.1,608) scale(1.07,1)" font-size="16.5" stroke="#000" stroke-width="0.3">H<tspan font-size="11.5" dy="4.3">2</tspan><tspan dy="-4.3">N</tspan></text>
<path d="M329.4,595.6 L351.7,583.3 L383.9,601.1 L416.1,583.3 L438.3,595.6" fill="none" stroke="#000" stroke-width="1.5" stroke-linejoin="miter"/>
<text transform="translate(439.4,608) scale(1.07,1)" font-size="16.5" stroke="#000" stroke-width="0.3">Si</text>
<path d="M446.6,565.6 L446.6,593.3" fill="none" stroke="#000" stroke-width="1.5" stroke-linejoin="miter"/>
<path d="M446.6,611 L446.6,636.7" fill="none" stroke="#000" stroke-width="1.5" stroke-linejoin="miter"/>
<path d="M456.1,595.6 L469.4,587.8" fill="none" stroke="#000" stroke-width="1.5" stroke-linejoin="miter"/>
<text transform="translate(470.6,592) scale(1.07,1)" font-size="16.5" stroke="#000" stroke-width="0.3">O</text>
<path d="M484,587.5 L500.5,597" fill="none" stroke="#000" stroke-width="1.5" stroke-linejoin="miter"/>
<path d="M501.3,565 Q484.3,601.2 501.3,637.5" fill="none" stroke="#000" stroke-width="1.4"/>
<text transform="translate(501.3,609) scale(1.07,1)" font-size="16.5" stroke="#000" stroke-width="0.3">Si</text>
<path d="M508.8,565 L508.8,592.5" fill="none" stroke="#000" stroke-width="1.5" stroke-linejoin="miter"/>
<path d="M508.8,612.5 L508.8,636.5" fill="none" stroke="#000" stroke-width="1.5" stroke-linejoin="miter"/>
<path d="M518.8,595 L532.5,587.5" fill="none" stroke="#000" stroke-width="1.5" stroke-linejoin="miter"/>
<text transform="translate(533.8,593.5) scale(1.07,1)" font-size="16.5" stroke="#000" stroke-width="0.3">O</text>
<path d="M547.5,587.5 L563.8,597.5" fill="none" stroke="#000" stroke-width="1.5" stroke-linejoin="miter"/>
<path d="M547,565 Q564,601.2 547,637.5" fill="none" stroke="#000" stroke-width="1.4"/>
<text transform="translate(552.5,640) scale(1.07,1)" font-size="12" stroke="#000" stroke-width="0.3">n</text>
<text transform="translate(563.8,609) scale(1.07,1)" font-size="16.5" stroke="#000" stroke-width="0.3">Si</text>
<path d="M571.3,565 L571.3,592.5" fill="none" stroke="#000" stroke-width="1.5" stroke-linejoin="miter"/>
<path d="M571.3,612.5 L571.3,636.5" fill="none" stroke="#000" stroke-width="1.5" stroke-linejoin="miter"/>
<path d="M580,595 L602.5,583.8 L633.8,601.3 L665,583.8 L687.5,596.3" fill="none" stroke="#000" stroke-width="1.5" stroke-linejoin="miter"/>
<text transform="translate(690,608.3) scale(1.07,1)" font-size="16.5" stroke="#000" stroke-width="0.3">NH<tspan font-size="11.5" dy="4.3">2</tspan></text>
<text x="510.5" y="684" font-size="31.5" text-anchor="middle">NH<tspan font-size="21" dy="8.2">2</tspan><tspan dy="-8.2">-PDMS-NH</tspan><tspan font-size="21" dy="8.2">2</tspan></text>
<text transform="translate(744.3,623.5) scale(1.07,1)" font-size="16.5" stroke="#000" stroke-width="0.3">H</text>
<path d="M757.5,613.5 L770.6,605.1" fill="none" stroke="#000" stroke-width="1.5" stroke-linejoin="miter"/>
<path d="M770.6,580.7 Q754.6,605.9 770.6,631.1" fill="none" stroke="#000" stroke-width="1.4"/>
<text transform="translate(770.3,611.4) scale(1.07,1)" font-size="16.5" stroke="#000" stroke-width="0.3">O</text>
<path d="M784.5,605.1 L801.1,615.8 L825.5,602.1 L857.5,615" fill="none" stroke="#000" stroke-width="1.5" stroke-linejoin="miter"/>
<path d="M832,580.7 Q848,605.9 832,631.1" fill="none" stroke="#000" stroke-width="1.4"/>
<text transform="translate(836,636) scale(1.07,1)" font-size="12.5" stroke="#000" stroke-width="0.3">n</text>
<path d="M860.7,580.7 Q844.7,605.9 860.7,631.1" fill="none" stroke="#000" stroke-width="1.4"/>
<text transform="translate(857.3,623.7) scale(1.07,1)" font-size="16.5" stroke="#000" stroke-width="0.3">O</text>
<path d="M871.4,612.8 L891.2,600.6 L915.7,615.8 L950.5,604.5" fill="none" stroke="#000" stroke-width="1.5" stroke-linejoin="miter"/>
<path d="M891.2,600.6 L891.2,574.6" fill="none" stroke="#000" stroke-width="1.5" stroke-linejoin="miter"/>
<path d="M918.7,580.7 Q934.7,605.9 918.7,631.1" fill="none" stroke="#000" stroke-width="1.4"/>
<text transform="translate(921.5,636) scale(1.07,1)" font-size="12.5" stroke="#000" stroke-width="0.3">m</text>
<path d="M949.3,580.7 Q933.3,605.9 949.3,631.1" fill="none" stroke="#000" stroke-width="1.4"/>
<text transform="translate(950.5,611.4) scale(1.07,1)" font-size="16.5" stroke="#000" stroke-width="0.3">O</text>
<path d="M964.6,605.1 L982.9,615.8 L1008.9,602.1 L1023,611" fill="none" stroke="#000" stroke-width="1.5" stroke-linejoin="miter"/>
<path d="M1008.9,580.7 Q1024.9,605.9 1008.9,631.1" fill="none" stroke="#000" stroke-width="1.4"/>
<text transform="translate(1013.3,636) scale(1.07,1)" font-size="12.5" stroke="#000" stroke-width="0.3">n</text>
<text transform="translate(1023.8,623.7) scale(1.07,1)" font-size="16.5" stroke="#000" stroke-width="0.3">OH</text>
<text x="898.8" y="684.8" font-size="31.5" text-anchor="middle">EPE</text>
<rect x="48.9" y="720.9" width="388.5" height="313.6" fill="url(#plotbg)"/>
<path d="M49.2,859.8C51,859.6 53.5,859.5 60,858.9C66.5,858.3 78.6,857.3 87.9,856.1C97.2,854.9 109.4,853.5 115.9,851.9C122.4,850.3 123.3,848.9 127,846.3C130.7,843.7 134.7,839.6 138.2,836.5C141.7,833.4 144.6,829.8 147.9,827.8C151.2,825.8 154.6,824.6 157.9,824.8C161.2,825 164.2,826.3 167.8,828.8C171.4,831.3 175.4,835.1 179.7,839.7C184,844.3 188.9,851.5 193.6,856.6C198.2,861.7 202.6,866 207.6,870.5C212.6,875 218.1,879.6 223.4,883.4C228.7,887.2 233.2,890.2 239.3,893.4C245.4,896.5 253,899.4 260,902.3C267,905.2 274.4,908.5 281.5,910.7C288.6,912.9 295.4,914.2 302.3,915.5C309.2,916.8 316.2,917.4 323.1,918.4C330,919.4 336.9,920.7 343.8,921.7C350.7,922.7 357.7,923.4 364.6,924.2C371.5,925 378.5,925.7 385.4,926.3C392.3,926.9 397.6,927.2 406.1,927.8C414.6,928.4 431.3,929.5 436.3,929.8" fill="none" stroke="#6cc77a" stroke-width="1.9" stroke-linejoin="round"/>
<path d="M49.2,957.5C51,957.1 55.9,956.6 60,955.3C64.1,954 69.3,952.8 74,949.7C78.7,946.7 83.2,943.3 87.9,937C92.6,930.7 97.2,922.7 101.9,912C106.6,901.3 112.2,884.5 115.9,872.8C119.6,861.1 121.8,849.2 124.2,842C126.6,834.8 128.2,832.4 130.5,829.5C132.8,826.6 135.1,824.4 138,824.8C140.9,825.2 144.2,827.3 147.9,831.8C151.6,836.3 155.9,844.4 159.9,851.7C163.9,859 167.8,868.5 171.8,875.5C175.8,882.5 179.9,888.1 183.7,893.4C187.5,898.7 190.6,902.7 194.6,907.3C198.6,911.9 202.8,916.6 207.6,921.2C212.4,925.8 218.1,931.1 223.4,935.1C228.7,939.1 233.2,941.7 239.3,945C245.4,948.3 253,952.1 260,955C267,957.9 274.4,960.4 281.5,962.6C288.6,964.8 295.4,966.6 302.3,968.3C309.2,970 316.2,971.4 323.1,972.6C330,973.8 336.9,974.8 343.8,975.7C350.7,976.6 357.7,977.5 364.6,978.2C371.5,978.9 378.5,979.4 385.4,979.9C392.3,980.4 397.6,980.8 406.1,981.3C414.6,981.8 431.3,982.7 436.3,983" fill="none" stroke="#1a9f98" stroke-width="1.9" stroke-linejoin="round"/>
<path d="M49.2,986.5C51,987.1 53.5,988.2 60,990.2C66.5,992.2 78.6,996.3 87.9,998.6C97.2,1000.9 108.5,1003.1 115.9,1004.1C123.4,1005.1 127.9,1005.2 132.6,1004.7C137.2,1004.2 140.6,1002.8 143.8,1001.3C147,999.8 148.2,999.1 151.9,995.7C155.6,992.3 161.2,988.2 165.8,980.8C170.4,973.3 175.4,962.6 179.7,951C184,939.4 187.4,924.2 191.7,911.3C196,898.4 201.6,883.8 205.6,873.5C209.6,863.2 212.2,856.3 215.5,849.7C218.8,843.1 221.8,837.8 225.4,833.8C229.1,829.8 233.8,826.4 237.4,825.4C241.1,824.4 243.5,825.1 247.3,827.8C251.1,830.5 255.7,836.7 260,841.7C264.3,846.7 268.9,852 273.2,857.8C277.5,863.6 280.8,870.3 285.7,876.5C290.6,882.7 297.4,889.7 302.3,895.2C307.2,900.7 310.7,905.4 314.8,909.7C318.9,914 322.4,917.5 327.2,921.1C332,924.7 337.6,927.9 343.8,931.5C350,935.1 357.7,940 364.6,942.9C371.5,945.8 378.5,947.4 385.4,949.1C392.3,950.8 400.2,952.3 406.1,953.3C412,954.2 415.7,954.3 420.7,954.8C425.7,955.3 433.7,956.1 436.3,956.4" fill="none" stroke="#8a1c12" stroke-width="1.9" stroke-linejoin="round"/>
<rect x="48.9" y="720.9" width="388.5" height="313.6" fill="none" stroke="#000" stroke-width="2"/>
<line x1="48.9" y1="1034.5" x2="48.9" y2="1040" stroke="#000" stroke-width="2"/>
<text x="48.9" y="1061.2" font-size="20" text-anchor="middle">400</text>
<line x1="87.8" y1="1034.5" x2="87.8" y2="1037.3" stroke="#000" stroke-width="2"/>
<line x1="126.6" y1="1034.5" x2="126.6" y2="1040" stroke="#000" stroke-width="2"/>
<text x="126.6" y="1061.2" font-size="20" text-anchor="middle">500</text>
<line x1="165.4" y1="1034.5" x2="165.4" y2="1037.3" stroke="#000" stroke-width="2"/>
<line x1="204.3" y1="1034.5" x2="204.3" y2="1040" stroke="#000" stroke-width="2"/>
<text x="204.3" y="1061.2" font-size="20" text-anchor="middle">600</text>
<line x1="243.2" y1="1034.5" x2="243.2" y2="1037.3" stroke="#000" stroke-width="2"/>
<line x1="282" y1="1034.5" x2="282" y2="1040" stroke="#000" stroke-width="2"/>
<text x="282" y="1061.2" font-size="20" text-anchor="middle">700</text>
<line x1="320.8" y1="1034.5" x2="320.8" y2="1037.3" stroke="#000" stroke-width="2"/>
<line x1="359.7" y1="1034.5" x2="359.7" y2="1040" stroke="#000" stroke-width="2"/>
<text x="359.7" y="1061.2" font-size="20" text-anchor="middle">800</text>
<line x1="398.5" y1="1034.5" x2="398.5" y2="1037.3" stroke="#000" stroke-width="2"/>
<line x1="437.4" y1="1034.5" x2="437.4" y2="1040" stroke="#000" stroke-width="2"/>
<text x="437.4" y="1061.2" font-size="20" text-anchor="middle">900</text>
<text x="243.2" y="1097.2" font-size="23.4" text-anchor="middle">Wavelength (nm)</text>
<text transform="translate(33.8,999.5) rotate(-90)" font-size="23.4">Normalized</text>
<text transform="translate(33.8,868.2) rotate(-90)" font-size="23.4">reflectance</text>
<text transform="translate(15.4,748.9) scale(0.95,1)" font-size="48">b</text>
<line x1="152.5" y1="739.4" x2="195.6" y2="739.4" stroke="#1a9f98" stroke-width="2"/>
<line x1="152.5" y1="766.7" x2="195.6" y2="766.7" stroke="#6cc77a" stroke-width="2"/>
<line x1="152.5" y1="790.8" x2="195.6" y2="790.8" stroke="#8a1c12" stroke-width="2"/>
<text x="201" y="746.5" font-size="18.8" textLength="226" lengthAdjust="spacingAndGlyphs">NH<tspan font-size="12.8" dy="4.9">2</tspan><tspan dy="-4.9">-PDMS-NH</tspan><tspan font-size="12.8" dy="4.9">2</tspan><tspan dy="-4.9"> and Silica</tspan></text>
<text x="201" y="773.6" font-size="18.8" textLength="216.5" lengthAdjust="spacingAndGlyphs">PEG-STA and PS-COOH</text>
<text x="201" y="797" font-size="18.8" textLength="165.5" lengthAdjust="spacingAndGlyphs">EPE and PS@PDA</text>
<defs>
<radialGradient id="ph3" cx="0.5" cy="0.5" r="0.5">
 <stop offset="0" stop-color="#c4c4ee"/>
 <stop offset="1" stop-color="#b3b3e6"/>
</radialGradient>
<linearGradient id="orTop" x1="0" y1="0" x2="0" y2="1">
 <stop offset="0" stop-color="#cc6419"/>
 <stop offset="1" stop-color="#c35a1a"/>
</linearGradient>
<linearGradient id="orSide" x1="0" y1="0" x2="0" y2="1">
 <stop offset="0" stop-color="#c4561a"/>
 <stop offset="0.6" stop-color="#b4481a"/>
 <stop offset="1" stop-color="#983620"/>
</linearGradient>
</defs>
<ellipse cx="513.4" cy="770.5" rx="60.6" ry="39.9" fill="#5b5a5a"/>
<ellipse cx="513" cy="773" rx="47" ry="29" fill="#4b4a4a"/>
<path d="M520,737.5 C548,738 563,750 562,767 C561,780 553,789 547,791" fill="none" stroke="#dfe8e8" stroke-width="2"/>
<path d="M545,790.5 C522,804 472,801 466,776 C462,755 490,737.5 520,737.5" fill="none" stroke="#b2eaee" stroke-width="4.8"/>
<ellipse cx="514.3" cy="775" rx="31.8" ry="13.5" fill="#c8d8d8"/>
<rect x="482.5" y="757" width="63.6" height="18" fill="#c8d8d8"/>
<ellipse cx="514.3" cy="757" rx="31.8" ry="17.5" fill="#dcf0f0"/>
<ellipse cx="514.3" cy="757.5" rx="22.5" ry="11.5" fill="#8e8c84"/>
<line x1="536.5" y1="760.6" x2="492.1" y2="754.4" stroke="#d6eeee" stroke-width="3.8"/>
<line x1="520.3" y1="769.1" x2="508.3" y2="745.9" stroke="#d6eeee" stroke-width="3.8"/>
<line x1="498" y1="766" x2="530.6" y2="749" stroke="#d6eeee" stroke-width="3.8"/>
<ellipse cx="514.3" cy="757.5" rx="22.5" ry="11.5" fill="none" stroke="#d6eeee" stroke-width="3.2"/>
<circle cx="514.3" cy="757.5" r="3.5" fill="#d6eeee"/>
<rect x="529.3" y="798.4" width="15.5" height="2.4" fill="#000"/>
<ellipse cx="512.9" cy="866.7" rx="54.5" ry="41.2" fill="#6a6a68" stroke="#3c3c3c" stroke-width="1.2"/>
<polygon points="475.3,872 493.3,843 533,843 551.7,868 541.5,893 489.7,895" fill="#8fd2d5"/>
<polygon points="475.3,865 493.3,836.2 533,836.2 551.7,861.3 541.5,884.2 489.7,886.6" fill="#a8e8ea"/>
<polygon points="484,863 498,841 528,841 543,861 535,879 494,880" fill="#8e9290"/>
<line x1="498" y1="841" x2="535" y2="879" stroke="#a8e8ea" stroke-width="4"/>
<line x1="528" y1="841" x2="494" y2="880" stroke="#a8e8ea" stroke-width="4"/>
<line x1="484" y1="862" x2="543" y2="861" stroke="#a8e8ea" stroke-width="4"/>
<polygon points="484,863 498,841 528,841 543,861 535,879 494,880" fill="none" stroke="#a8e8ea" stroke-width="3"/>
<rect x="522.2" y="895" width="23.5" height="2.4" fill="#000"/>
<ellipse cx="514.1" cy="983.2" rx="57.5" ry="57.2" fill="url(#ph3)"/>
<path d="M472,968 C472,950 492,940 515,940 C540,940 558,952 558.3,972 L558.3,985 C558,1004 540,1016.5 515,1016.5 C490,1016.5 472,1004 471.7,988 Z" fill="url(#orSide)"/>
<ellipse cx="514.5" cy="968" rx="41.5" ry="27" fill="url(#orTop)"/>
<circle cx="494" cy="968" r="2" fill="#5a1a0c"/>
<circle cx="497" cy="975" r="2" fill="#5a1a0c"/>
<circle cx="511" cy="969" r="2" fill="#5a1a0c"/>
<circle cx="508" cy="980" r="2" fill="#5a1a0c"/>
<circle cx="525" cy="970" r="2" fill="#5a1a0c"/>
<circle cx="494" cy="985" r="2" fill="#5a1a0c"/>
<circle cx="527" cy="955" r="2" fill="#5a1a0c"/>
<circle cx="515" cy="951" r="1.5" fill="#fbecd0"/>
<circle cx="524" cy="951" r="1.5" fill="#fbecd0"/>
<circle cx="527" cy="963" r="1.5" fill="#fbecd0"/>
<circle cx="528" cy="965" r="1.5" fill="#fbecd0"/>
<circle cx="513" cy="977" r="1.5" fill="#fbecd0"/>
<circle cx="505" cy="992" r="1.5" fill="#fbecd0"/>
<circle cx="511" cy="991" r="1.5" fill="#fbecd0"/>
<circle cx="527" cy="978" r="1.5" fill="#fbecd0"/>
<circle cx="535" cy="979" r="1.5" fill="#fbecd0"/>
<circle cx="493" cy="975" r="1.5" fill="#fbecd0"/>
<rect x="503.6" y="1021.6" width="48.7" height="3" fill="#000"/>
<defs><clipPath id="hs"><path d="M748.5,1042.3C748.4,1042.3 748.2,1042.4 748.1,1042.4C748,1042.4 747.9,1042.4 747.8,1042.4C747.6,1042.4 747.5,1042.4 747.2,1042.3C746.9,1042.1 746.5,1042 745.9,1041.6C745.3,1041.3 744.7,1040.8 743.7,1040.2C742.7,1039.5 740.9,1038.4 739.8,1037.7C738.7,1037 737.9,1036.6 737,1035.9C736.1,1035.2 735.5,1034.4 734.5,1033.4C733.6,1032.4 732.6,1031.4 731.3,1029.7C730,1028 728.4,1026.1 726.6,1023.2C724.8,1020.4 723,1017.3 720.4,1012.8C717.9,1008.3 714.8,1003.1 711.3,996.2C707.8,989.4 703.5,981.5 699.6,971.7C695.6,961.9 691.5,950.4 687.5,937.7C683.5,924.9 679,909.8 675.6,895.2C672.2,880.6 668.9,864.4 667,849.9C665,835.3 663.5,820.6 663.8,807.9C664.1,795.1 665.9,782.9 668.8,773.4C671.7,764 676.2,756.2 681.3,751.1C686.3,746.1 692.6,744.1 698.9,743.3C705.1,742.4 712,744.3 718.7,746C725.4,747.7 732.3,750.7 738.9,753.3C745.4,756 751.7,759 757.9,762.1C764.1,765.2 770.1,768.5 776.1,772C782.2,775.4 788.2,779.1 794.1,782.8C800.1,786.5 806,790.4 811.9,794.3C817.9,798.3 823.8,802.3 829.7,806.4C835.6,810.5 841.6,814.6 847.5,818.8C853.4,823 859.3,827.2 865.2,831.4C871.1,835.6 877,839.8 882.8,844C888.7,848.1 894.4,852.3 900.1,856.4C905.8,860.5 911.4,864.6 916.9,868.5C922.3,872.5 927.7,876.4 932.9,880.2C938.1,883.9 943.2,887.6 948.1,891.1C952.9,894.5 957.5,897.9 961.8,901.1C966.1,904.2 970.1,907 973.8,909.7C977.6,912.4 981.2,915 984.4,917.3C987.6,919.6 989.5,921 993.1,923.6C996.7,926.2 1002.4,930.3 1005.9,932.9C1009.4,935.4 1011.8,937.1 1014.1,938.8C1016.4,940.4 1018.1,941.7 1019.6,942.8C1021.1,943.8 1022.2,944.6 1023.1,945.2C1024,945.9 1024.5,946.2 1025.1,946.7C1025.7,947.1 1026.4,947.6 1026.8,947.9C1027.2,948.2 1027.3,948.3 1027.4,948.4 Z"/></clipPath><filter id="blr" x="-5%" y="-5%" width="110%" height="110%"><feGaussianBlur stdDeviation="3"/></filter></defs>
<g clip-path="url(#hs)"><g filter="url(#blr)"><rect x="687.8" y="737.1" width="6.5" height="6.5" fill="#00ffab"/><rect x="693.8" y="737.1" width="6.5" height="6.5" fill="#00ffa8"/><rect x="699.8" y="737.1" width="6.5" height="6.5" fill="#00ffa6"/><rect x="705.8" y="737.1" width="6.5" height="6.5" fill="#00ffa3"/><rect x="711.8" y="737.1" width="6.5" height="6.5" fill="#00ffa0"/><rect x="681.8" y="743.1" width="6.5" height="6.5" fill="#00ffaf"/><rect x="687.8" y="743.1" width="6.5" height="6.5" fill="#00ffad"/><rect x="693.8" y="743.1" width="6.5" height="6.5" fill="#00ffaa"/><rect x="699.8" y="743.1" width="6.5" height="6.5" fill="#00ffa8"/><rect x="705.8" y="743.1" width="6.5" height="6.5" fill="#00ffa5"/><rect x="711.8" y="743.1" width="6.5" height="6.5" fill="#00ffa2"/><rect x="717.8" y="743.1" width="6.5" height="6.5" fill="#00ff9f"/><rect x="723.8" y="743.1" width="6.5" height="6.5" fill="#00ff9b"/><rect x="729.8" y="743.1" width="6.5" height="6.5" fill="#00ff97"/><rect x="675.8" y="749.1" width="6.5" height="6.5" fill="#00ffb3"/><rect x="681.8" y="749.1" width="6.5" height="6.5" fill="#00ffb1"/><rect x="687.8" y="749.1" width="6.5" height="6.5" fill="#00ffae"/><rect x="693.8" y="749.1" width="6.5" height="6.5" fill="#00ffac"/><rect x="699.8" y="749.1" width="6.5" height="6.5" fill="#00ffa9"/><rect x="705.8" y="749.1" width="6.5" height="6.5" fill="#00ffa7"/><rect x="711.8" y="749.1" width="6.5" height="6.5" fill="#00ffa4"/><rect x="717.8" y="749.1" width="6.5" height="6.5" fill="#00ffa0"/><rect x="723.8" y="749.1" width="6.5" height="6.5" fill="#00ff9d"/><rect x="729.8" y="749.1" width="6.5" height="6.5" fill="#00ff99"/><rect x="735.8" y="749.1" width="6.5" height="6.5" fill="#00ff95"/><rect x="741.8" y="749.1" width="6.5" height="6.5" fill="#00ff91"/><rect x="669.8" y="755.1" width="6.5" height="6.5" fill="#00ffb6"/><rect x="675.8" y="755.1" width="6.5" height="6.5" fill="#00ffb4"/><rect x="681.8" y="755.1" width="6.5" height="6.5" fill="#00ffb2"/><rect x="687.8" y="755.1" width="6.5" height="6.5" fill="#00ffb0"/><rect x="693.8" y="755.1" width="6.5" height="6.5" fill="#00ffae"/><rect x="699.8" y="755.1" width="6.5" height="6.5" fill="#00ffab"/><rect x="705.8" y="755.1" width="6.5" height="6.5" fill="#00ffa8"/><rect x="711.8" y="755.1" width="6.5" height="6.5" fill="#00ffa5"/><rect x="717.8" y="755.1" width="6.5" height="6.5" fill="#00ffa2"/><rect x="723.8" y="755.1" width="6.5" height="6.5" fill="#00ff9f"/><rect x="729.8" y="755.1" width="6.5" height="6.5" fill="#00ff9b"/><rect x="735.8" y="755.1" width="6.5" height="6.5" fill="#00ff97"/><rect x="741.8" y="755.1" width="6.5" height="6.5" fill="#00ff93"/><rect x="747.8" y="755.1" width="6.5" height="6.5" fill="#00ff8e"/><rect x="753.8" y="755.1" width="6.5" height="6.5" fill="#00ff89"/><rect x="663.8" y="761.1" width="6.5" height="6.5" fill="#00ffba"/><rect x="669.8" y="761.1" width="6.5" height="6.5" fill="#00ffb8"/><rect x="675.8" y="761.1" width="6.5" height="6.5" fill="#00ffb6"/><rect x="681.8" y="761.1" width="6.5" height="6.5" fill="#00ffb4"/><rect x="687.8" y="761.1" width="6.5" height="6.5" fill="#00ffb2"/><rect x="693.8" y="761.1" width="6.5" height="6.5" fill="#00ffaf"/><rect x="699.8" y="761.1" width="6.5" height="6.5" fill="#00ffad"/><rect x="705.8" y="761.1" width="6.5" height="6.5" fill="#00ffaa"/><rect x="711.8" y="761.1" width="6.5" height="6.5" fill="#00ffa7"/><rect x="717.8" y="761.1" width="6.5" height="6.5" fill="#00ffa4"/><rect x="723.8" y="761.1" width="6.5" height="6.5" fill="#00ffa1"/><rect x="729.8" y="761.1" width="6.5" height="6.5" fill="#00ff9d"/><rect x="735.8" y="761.1" width="6.5" height="6.5" fill="#00ff99"/><rect x="741.8" y="761.1" width="6.5" height="6.5" fill="#00ff95"/><rect x="747.8" y="761.1" width="6.5" height="6.5" fill="#00ff90"/><rect x="753.8" y="761.1" width="6.5" height="6.5" fill="#00ff8b"/><rect x="759.8" y="761.1" width="6.5" height="6.5" fill="#00ff85"/><rect x="765.8" y="761.1" width="6.5" height="6.5" fill="#00ff7e"/><rect x="663.8" y="767.1" width="6.5" height="6.5" fill="#00ffbc"/><rect x="669.8" y="767.1" width="6.5" height="6.5" fill="#00ffba"/><rect x="675.8" y="767.1" width="6.5" height="6.5" fill="#00ffb8"/><rect x="681.8" y="767.1" width="6.5" height="6.5" fill="#00ffb6"/><rect x="687.8" y="767.1" width="6.5" height="6.5" fill="#00ffb4"/><rect x="693.8" y="767.1" width="6.5" height="6.5" fill="#00ffb1"/><rect x="699.8" y="767.1" width="6.5" height="6.5" fill="#00ffaf"/><rect x="705.8" y="767.1" width="6.5" height="6.5" fill="#00ffac"/><rect x="711.8" y="767.1" width="6.5" height="6.5" fill="#00ffa9"/><rect x="717.8" y="767.1" width="6.5" height="6.5" fill="#00ffa6"/><rect x="723.8" y="767.1" width="6.5" height="6.5" fill="#00ffa3"/><rect x="729.8" y="767.1" width="6.5" height="6.5" fill="#00ff9f"/><rect x="735.8" y="767.1" width="6.5" height="6.5" fill="#00ff9b"/><rect x="741.8" y="767.1" width="6.5" height="6.5" fill="#00ff97"/><rect x="747.8" y="767.1" width="6.5" height="6.5" fill="#00ff92"/><rect x="753.8" y="767.1" width="6.5" height="6.5" fill="#00ff8d"/><rect x="759.8" y="767.1" width="6.5" height="6.5" fill="#00ff87"/><rect x="765.8" y="767.1" width="6.5" height="6.5" fill="#00ff80"/><rect x="771.8" y="767.1" width="6.5" height="6.5" fill="#00ff78"/><rect x="777.8" y="767.1" width="6.5" height="6.5" fill="#00ff6f"/><rect x="663.8" y="773.1" width="6.5" height="6.5" fill="#00ffbd"/><rect x="669.8" y="773.1" width="6.5" height="6.5" fill="#00ffbc"/><rect x="675.8" y="773.1" width="6.5" height="6.5" fill="#00ffba"/><rect x="681.8" y="773.1" width="6.5" height="6.5" fill="#00ffb8"/><rect x="687.8" y="773.1" width="6.5" height="6.5" fill="#00ffb5"/><rect x="693.8" y="773.1" width="6.5" height="6.5" fill="#00ffb3"/><rect x="699.8" y="773.1" width="6.5" height="6.5" fill="#00ffb1"/><rect x="705.8" y="773.1" width="6.5" height="6.5" fill="#00ffae"/><rect x="711.8" y="773.1" width="6.5" height="6.5" fill="#00ffab"/><rect x="717.8" y="773.1" width="6.5" height="6.5" fill="#00ffa8"/><rect x="723.8" y="773.1" width="6.5" height="6.5" fill="#00ffa5"/><rect x="729.8" y="773.1" width="6.5" height="6.5" fill="#00ffa1"/><rect x="735.8" y="773.1" width="6.5" height="6.5" fill="#00ff9d"/><rect x="741.8" y="773.1" width="6.5" height="6.5" fill="#00ff99"/><rect x="747.8" y="773.1" width="6.5" height="6.5" fill="#00ff94"/><rect x="753.8" y="773.1" width="6.5" height="6.5" fill="#00ff8f"/><rect x="759.8" y="773.1" width="6.5" height="6.5" fill="#00ff89"/><rect x="765.8" y="773.1" width="6.5" height="6.5" fill="#00ff82"/><rect x="771.8" y="773.1" width="6.5" height="6.5" fill="#00ff7b"/><rect x="777.8" y="773.1" width="6.5" height="6.5" fill="#00ff72"/><rect x="783.8" y="773.1" width="6.5" height="6.5" fill="#00ff67"/><rect x="789.8" y="773.1" width="6.5" height="6.5" fill="#00ff59"/><rect x="657.8" y="779.1" width="6.5" height="6.5" fill="#00ffc1"/><rect x="663.8" y="779.1" width="6.5" height="6.5" fill="#00ffbf"/><rect x="669.8" y="779.1" width="6.5" height="6.5" fill="#00ffbd"/><rect x="675.8" y="779.1" width="6.5" height="6.5" fill="#00ffbc"/><rect x="681.8" y="779.1" width="6.5" height="6.5" fill="#00ffba"/><rect x="687.8" y="779.1" width="6.5" height="6.5" fill="#00ffb7"/><rect x="693.8" y="779.1" width="6.5" height="6.5" fill="#00ffb5"/><rect x="699.8" y="779.1" width="6.5" height="6.5" fill="#00ffb3"/><rect x="705.8" y="779.1" width="6.5" height="6.5" fill="#00ffb0"/><rect x="711.8" y="779.1" width="6.5" height="6.5" fill="#00ffad"/><rect x="717.8" y="779.1" width="6.5" height="6.5" fill="#00ffaa"/><rect x="723.8" y="779.1" width="6.5" height="6.5" fill="#00ffa7"/><rect x="729.8" y="779.1" width="6.5" height="6.5" fill="#00ffa3"/><rect x="735.8" y="779.1" width="6.5" height="6.5" fill="#00ffa0"/><rect x="741.8" y="779.1" width="6.5" height="6.5" fill="#00ff9b"/><rect x="747.8" y="779.1" width="6.5" height="6.5" fill="#00ff97"/><rect x="753.8" y="779.1" width="6.5" height="6.5" fill="#00ff91"/><rect x="759.8" y="779.1" width="6.5" height="6.5" fill="#00ff8b"/><rect x="765.8" y="779.1" width="6.5" height="6.5" fill="#00ff85"/><rect x="771.8" y="779.1" width="6.5" height="6.5" fill="#00ff7d"/><rect x="777.8" y="779.1" width="6.5" height="6.5" fill="#00ff74"/><rect x="783.8" y="779.1" width="6.5" height="6.5" fill="#00ff69"/><rect x="789.8" y="779.1" width="6.5" height="6.5" fill="#00ff5c"/><rect x="795.8" y="779.1" width="6.5" height="6.5" fill="#00ff4a"/><rect x="657.8" y="785.1" width="6.5" height="6.5" fill="#00ffc3"/><rect x="663.8" y="785.1" width="6.5" height="6.5" fill="#00ffc1"/><rect x="669.8" y="785.1" width="6.5" height="6.5" fill="#00ffbf"/><rect x="675.8" y="785.1" width="6.5" height="6.5" fill="#00ffbd"/><rect x="681.8" y="785.1" width="6.5" height="6.5" fill="#00ffbb"/><rect x="687.8" y="785.1" width="6.5" height="6.5" fill="#00ffb9"/><rect x="693.8" y="785.1" width="6.5" height="6.5" fill="#00ffb7"/><rect x="699.8" y="785.1" width="6.5" height="6.5" fill="#00ffb5"/><rect x="705.8" y="785.1" width="6.5" height="6.5" fill="#00ffb2"/><rect x="711.8" y="785.1" width="6.5" height="6.5" fill="#00ffaf"/><rect x="717.8" y="785.1" width="6.5" height="6.5" fill="#00ffac"/><rect x="723.8" y="785.1" width="6.5" height="6.5" fill="#00ffa9"/><rect x="729.8" y="785.1" width="6.5" height="6.5" fill="#00ffa6"/><rect x="735.8" y="785.1" width="6.5" height="6.5" fill="#00ffa2"/><rect x="741.8" y="785.1" width="6.5" height="6.5" fill="#00ff9e"/><rect x="747.8" y="785.1" width="6.5" height="6.5" fill="#00ff99"/><rect x="753.8" y="785.1" width="6.5" height="6.5" fill="#00ff94"/><rect x="759.8" y="785.1" width="6.5" height="6.5" fill="#00ff8e"/><rect x="765.8" y="785.1" width="6.5" height="6.5" fill="#00ff87"/><rect x="771.8" y="785.1" width="6.5" height="6.5" fill="#00ff80"/><rect x="777.8" y="785.1" width="6.5" height="6.5" fill="#00ff77"/><rect x="783.8" y="785.1" width="6.5" height="6.5" fill="#00ff6c"/><rect x="789.8" y="785.1" width="6.5" height="6.5" fill="#00ff5f"/><rect x="795.8" y="785.1" width="6.5" height="6.5" fill="#00ff4d"/><rect x="801.8" y="785.1" width="6.5" height="6.5" fill="#00ff30"/><rect x="807.8" y="785.1" width="6.5" height="6.5" fill="#24ff00"/><rect x="657.8" y="791.1" width="6.5" height="6.5" fill="#00ffc5"/><rect x="663.8" y="791.1" width="6.5" height="6.5" fill="#00ffc3"/><rect x="669.8" y="791.1" width="6.5" height="6.5" fill="#00ffc1"/><rect x="675.8" y="791.1" width="6.5" height="6.5" fill="#00ffbf"/><rect x="681.8" y="791.1" width="6.5" height="6.5" fill="#00ffbd"/><rect x="687.8" y="791.1" width="6.5" height="6.5" fill="#00ffbb"/><rect x="693.8" y="791.1" width="6.5" height="6.5" fill="#00ffb9"/><rect x="699.8" y="791.1" width="6.5" height="6.5" fill="#00ffb7"/><rect x="705.8" y="791.1" width="6.5" height="6.5" fill="#00ffb4"/><rect x="711.8" y="791.1" width="6.5" height="6.5" fill="#00ffb2"/><rect x="717.8" y="791.1" width="6.5" height="6.5" fill="#00ffaf"/><rect x="723.8" y="791.1" width="6.5" height="6.5" fill="#00ffab"/><rect x="729.8" y="791.1" width="6.5" height="6.5" fill="#00ffa8"/><rect x="735.8" y="791.1" width="6.5" height="6.5" fill="#00ffa4"/><rect x="741.8" y="791.1" width="6.5" height="6.5" fill="#00ffa0"/><rect x="747.8" y="791.1" width="6.5" height="6.5" fill="#00ff9b"/><rect x="753.8" y="791.1" width="6.5" height="6.5" fill="#00ff96"/><rect x="759.8" y="791.1" width="6.5" height="6.5" fill="#00ff90"/><rect x="765.8" y="791.1" width="6.5" height="6.5" fill="#00ff8a"/><rect x="771.8" y="791.1" width="6.5" height="6.5" fill="#00ff82"/><rect x="777.8" y="791.1" width="6.5" height="6.5" fill="#00ff79"/><rect x="783.8" y="791.1" width="6.5" height="6.5" fill="#00ff6f"/><rect x="789.8" y="791.1" width="6.5" height="6.5" fill="#00ff61"/><rect x="795.8" y="791.1" width="6.5" height="6.5" fill="#00ff50"/><rect x="801.8" y="791.1" width="6.5" height="6.5" fill="#00ff34"/><rect x="807.8" y="791.1" width="6.5" height="6.5" fill="#21ff00"/><rect x="813.8" y="791.1" width="6.5" height="6.5" fill="#49ff00"/><rect x="657.8" y="797.1" width="6.5" height="6.5" fill="#00ffc6"/><rect x="663.8" y="797.1" width="6.5" height="6.5" fill="#00ffc5"/><rect x="669.8" y="797.1" width="6.5" height="6.5" fill="#00ffc3"/><rect x="675.8" y="797.1" width="6.5" height="6.5" fill="#00ffc1"/><rect x="681.8" y="797.1" width="6.5" height="6.5" fill="#00ffc0"/><rect x="687.8" y="797.1" width="6.5" height="6.5" fill="#00ffbd"/><rect x="693.8" y="797.1" width="6.5" height="6.5" fill="#00ffbb"/><rect x="699.8" y="797.1" width="6.5" height="6.5" fill="#00ffb9"/><rect x="705.8" y="797.1" width="6.5" height="6.5" fill="#00ffb7"/><rect x="711.8" y="797.1" width="6.5" height="6.5" fill="#00ffb4"/><rect x="717.8" y="797.1" width="6.5" height="6.5" fill="#00ffb1"/><rect x="723.8" y="797.1" width="6.5" height="6.5" fill="#00ffae"/><rect x="729.8" y="797.1" width="6.5" height="6.5" fill="#00ffaa"/><rect x="735.8" y="797.1" width="6.5" height="6.5" fill="#00ffa7"/><rect x="741.8" y="797.1" width="6.5" height="6.5" fill="#00ffa2"/><rect x="747.8" y="797.1" width="6.5" height="6.5" fill="#00ff9e"/><rect x="753.8" y="797.1" width="6.5" height="6.5" fill="#00ff99"/><rect x="759.8" y="797.1" width="6.5" height="6.5" fill="#00ff93"/><rect x="765.8" y="797.1" width="6.5" height="6.5" fill="#00ff8c"/><rect x="771.8" y="797.1" width="6.5" height="6.5" fill="#00ff85"/><rect x="777.8" y="797.1" width="6.5" height="6.5" fill="#00ff7c"/><rect x="783.8" y="797.1" width="6.5" height="6.5" fill="#00ff71"/><rect x="789.8" y="797.1" width="6.5" height="6.5" fill="#00ff64"/><rect x="795.8" y="797.1" width="6.5" height="6.5" fill="#00ff53"/><rect x="801.8" y="797.1" width="6.5" height="6.5" fill="#00ff37"/><rect x="807.8" y="797.1" width="6.5" height="6.5" fill="#1eff00"/><rect x="813.8" y="797.1" width="6.5" height="6.5" fill="#49ff00"/><rect x="819.8" y="797.1" width="6.5" height="6.5" fill="#61ff00"/><rect x="825.8" y="797.1" width="6.5" height="6.5" fill="#73ff00"/><rect x="657.8" y="803.1" width="6.5" height="6.5" fill="#00ffc8"/><rect x="663.8" y="803.1" width="6.5" height="6.5" fill="#00ffc7"/><rect x="669.8" y="803.1" width="6.5" height="6.5" fill="#00ffc5"/><rect x="675.8" y="803.1" width="6.5" height="6.5" fill="#00ffc3"/><rect x="681.8" y="803.1" width="6.5" height="6.5" fill="#00ffc2"/><rect x="687.8" y="803.1" width="6.5" height="6.5" fill="#00ffc0"/><rect x="693.8" y="803.1" width="6.5" height="6.5" fill="#00ffbe"/><rect x="699.8" y="803.1" width="6.5" height="6.5" fill="#00ffbb"/><rect x="705.8" y="803.1" width="6.5" height="6.5" fill="#00ffb9"/><rect x="711.8" y="803.1" width="6.5" height="6.5" fill="#00ffb6"/><rect x="717.8" y="803.1" width="6.5" height="6.5" fill="#00ffb3"/><rect x="723.8" y="803.1" width="6.5" height="6.5" fill="#00ffb0"/><rect x="729.8" y="803.1" width="6.5" height="6.5" fill="#00ffad"/><rect x="735.8" y="803.1" width="6.5" height="6.5" fill="#00ffa9"/><rect x="741.8" y="803.1" width="6.5" height="6.5" fill="#00ffa5"/><rect x="747.8" y="803.1" width="6.5" height="6.5" fill="#00ffa1"/><rect x="753.8" y="803.1" width="6.5" height="6.5" fill="#00ff9b"/><rect x="759.8" y="803.1" width="6.5" height="6.5" fill="#00ff96"/><rect x="765.8" y="803.1" width="6.5" height="6.5" fill="#00ff8f"/><rect x="771.8" y="803.1" width="6.5" height="6.5" fill="#00ff88"/><rect x="777.8" y="803.1" width="6.5" height="6.5" fill="#00ff7f"/><rect x="783.8" y="803.1" width="6.5" height="6.5" fill="#00ff74"/><rect x="789.8" y="803.1" width="6.5" height="6.5" fill="#00ff67"/><rect x="795.8" y="803.1" width="6.5" height="6.5" fill="#00ff56"/><rect x="801.8" y="803.1" width="6.5" height="6.5" fill="#00ff3b"/><rect x="807.8" y="803.1" width="6.5" height="6.5" fill="#19ff00"/><rect x="813.8" y="803.1" width="6.5" height="6.5" fill="#48ff00"/><rect x="819.8" y="803.1" width="6.5" height="6.5" fill="#62ff00"/><rect x="825.8" y="803.1" width="6.5" height="6.5" fill="#75ff00"/><rect x="831.8" y="803.1" width="6.5" height="6.5" fill="#85ff00"/><rect x="657.8" y="809.1" width="6.5" height="6.5" fill="#00ffca"/><rect x="663.8" y="809.1" width="6.5" height="6.5" fill="#00ffc9"/><rect x="669.8" y="809.1" width="6.5" height="6.5" fill="#00ffc7"/><rect x="675.8" y="809.1" width="6.5" height="6.5" fill="#00ffc6"/><rect x="681.8" y="809.1" width="6.5" height="6.5" fill="#00ffc4"/><rect x="687.8" y="809.1" width="6.5" height="6.5" fill="#00ffc2"/><rect x="693.8" y="809.1" width="6.5" height="6.5" fill="#00ffc0"/><rect x="699.8" y="809.1" width="6.5" height="6.5" fill="#00ffbe"/><rect x="705.8" y="809.1" width="6.5" height="6.5" fill="#00ffbb"/><rect x="711.8" y="809.1" width="6.5" height="6.5" fill="#00ffb9"/><rect x="717.8" y="809.1" width="6.5" height="6.5" fill="#00ffb6"/><rect x="723.8" y="809.1" width="6.5" height="6.5" fill="#00ffb3"/><rect x="729.8" y="809.1" width="6.5" height="6.5" fill="#00ffaf"/><rect x="735.8" y="809.1" width="6.5" height="6.5" fill="#00ffac"/><rect x="741.8" y="809.1" width="6.5" height="6.5" fill="#00ffa8"/><rect x="747.8" y="809.1" width="6.5" height="6.5" fill="#00ffa3"/><rect x="753.8" y="809.1" width="6.5" height="6.5" fill="#00ff9e"/><rect x="759.8" y="809.1" width="6.5" height="6.5" fill="#00ff99"/><rect x="765.8" y="809.1" width="6.5" height="6.5" fill="#00ff92"/><rect x="771.8" y="809.1" width="6.5" height="6.5" fill="#00ff8b"/><rect x="777.8" y="809.1" width="6.5" height="6.5" fill="#00ff82"/><rect x="783.8" y="809.1" width="6.5" height="6.5" fill="#00ff77"/><rect x="789.8" y="809.1" width="6.5" height="6.5" fill="#00ff6a"/><rect x="795.8" y="809.1" width="6.5" height="6.5" fill="#00ff59"/><rect x="801.8" y="809.1" width="6.5" height="6.5" fill="#00ff3f"/><rect x="807.8" y="809.1" width="6.5" height="6.5" fill="#13ff00"/><rect x="813.8" y="809.1" width="6.5" height="6.5" fill="#48ff00"/><rect x="819.8" y="809.1" width="6.5" height="6.5" fill="#63ff00"/><rect x="825.8" y="809.1" width="6.5" height="6.5" fill="#77ff00"/><rect x="831.8" y="809.1" width="6.5" height="6.5" fill="#87ff00"/><rect x="837.8" y="809.1" width="6.5" height="6.5" fill="#95ff00"/><rect x="657.8" y="815.1" width="6.5" height="6.5" fill="#00ffcc"/><rect x="663.8" y="815.1" width="6.5" height="6.5" fill="#00ffcb"/><rect x="669.8" y="815.1" width="6.5" height="6.5" fill="#00ffc9"/><rect x="675.8" y="815.1" width="6.5" height="6.5" fill="#00ffc8"/><rect x="681.8" y="815.1" width="6.5" height="6.5" fill="#00ffc6"/><rect x="687.8" y="815.1" width="6.5" height="6.5" fill="#00ffc4"/><rect x="693.8" y="815.1" width="6.5" height="6.5" fill="#00ffc2"/><rect x="699.8" y="815.1" width="6.5" height="6.5" fill="#00ffc0"/><rect x="705.8" y="815.1" width="6.5" height="6.5" fill="#00ffbe"/><rect x="711.8" y="815.1" width="6.5" height="6.5" fill="#00ffbb"/><rect x="717.8" y="815.1" width="6.5" height="6.5" fill="#00ffb8"/><rect x="723.8" y="815.1" width="6.5" height="6.5" fill="#00ffb5"/><rect x="729.8" y="815.1" width="6.5" height="6.5" fill="#00ffb2"/><rect x="735.8" y="815.1" width="6.5" height="6.5" fill="#00ffae"/><rect x="741.8" y="815.1" width="6.5" height="6.5" fill="#00ffaa"/><rect x="747.8" y="815.1" width="6.5" height="6.5" fill="#00ffa6"/><rect x="753.8" y="815.1" width="6.5" height="6.5" fill="#00ffa1"/><rect x="759.8" y="815.1" width="6.5" height="6.5" fill="#00ff9c"/><rect x="765.8" y="815.1" width="6.5" height="6.5" fill="#00ff95"/><rect x="771.8" y="815.1" width="6.5" height="6.5" fill="#00ff8e"/><rect x="777.8" y="815.1" width="6.5" height="6.5" fill="#00ff85"/><rect x="783.8" y="815.1" width="6.5" height="6.5" fill="#00ff7b"/><rect x="789.8" y="815.1" width="6.5" height="6.5" fill="#00ff6e"/><rect x="795.8" y="815.1" width="6.5" height="6.5" fill="#00ff5c"/><rect x="801.8" y="815.1" width="6.5" height="6.5" fill="#00ff43"/><rect x="807.8" y="815.1" width="6.5" height="6.5" fill="#09ff00"/><rect x="813.8" y="815.1" width="6.5" height="6.5" fill="#48ff00"/><rect x="819.8" y="815.1" width="6.5" height="6.5" fill="#64ff00"/><rect x="825.8" y="815.1" width="6.5" height="6.5" fill="#78ff00"/><rect x="831.8" y="815.1" width="6.5" height="6.5" fill="#89ff00"/><rect x="837.8" y="815.1" width="6.5" height="6.5" fill="#98ff00"/><rect x="843.8" y="815.1" width="6.5" height="6.5" fill="#a5ff00"/><rect x="849.8" y="815.1" width="6.5" height="6.5" fill="#b1ff00"/><rect x="657.8" y="821.1" width="6.5" height="6.5" fill="#00ffcf"/><rect x="663.8" y="821.1" width="6.5" height="6.5" fill="#00ffcd"/><rect x="669.8" y="821.1" width="6.5" height="6.5" fill="#00ffcc"/><rect x="675.8" y="821.1" width="6.5" height="6.5" fill="#00ffca"/><rect x="681.8" y="821.1" width="6.5" height="6.5" fill="#00ffc8"/><rect x="687.8" y="821.1" width="6.5" height="6.5" fill="#00ffc6"/><rect x="693.8" y="821.1" width="6.5" height="6.5" fill="#00ffc4"/><rect x="699.8" y="821.1" width="6.5" height="6.5" fill="#00ffc2"/><rect x="705.8" y="821.1" width="6.5" height="6.5" fill="#00ffc0"/><rect x="711.8" y="821.1" width="6.5" height="6.5" fill="#00ffbe"/><rect x="717.8" y="821.1" width="6.5" height="6.5" fill="#00ffbb"/><rect x="723.8" y="821.1" width="6.5" height="6.5" fill="#00ffb8"/><rect x="729.8" y="821.1" width="6.5" height="6.5" fill="#00ffb5"/><rect x="735.8" y="821.1" width="6.5" height="6.5" fill="#00ffb1"/><rect x="741.8" y="821.1" width="6.5" height="6.5" fill="#00ffad"/><rect x="747.8" y="821.1" width="6.5" height="6.5" fill="#00ffa9"/><rect x="753.8" y="821.1" width="6.5" height="6.5" fill="#00ffa4"/><rect x="759.8" y="821.1" width="6.5" height="6.5" fill="#00ff9f"/><rect x="765.8" y="821.1" width="6.5" height="6.5" fill="#00ff98"/><rect x="771.8" y="821.1" width="6.5" height="6.5" fill="#00ff91"/><rect x="777.8" y="821.1" width="6.5" height="6.5" fill="#00ff88"/><rect x="783.8" y="821.1" width="6.5" height="6.5" fill="#00ff7e"/><rect x="789.8" y="821.1" width="6.5" height="6.5" fill="#00ff71"/><rect x="795.8" y="821.1" width="6.5" height="6.5" fill="#00ff60"/><rect x="801.8" y="821.1" width="6.5" height="6.5" fill="#00ff47"/><rect x="807.8" y="821.1" width="6.5" height="6.5" fill="#00ff04"/><rect x="813.8" y="821.1" width="6.5" height="6.5" fill="#48ff00"/><rect x="819.8" y="821.1" width="6.5" height="6.5" fill="#65ff00"/><rect x="825.8" y="821.1" width="6.5" height="6.5" fill="#7aff00"/><rect x="831.8" y="821.1" width="6.5" height="6.5" fill="#8cff00"/><rect x="837.8" y="821.1" width="6.5" height="6.5" fill="#9bff00"/><rect x="843.8" y="821.1" width="6.5" height="6.5" fill="#a8ff00"/><rect x="849.8" y="821.1" width="6.5" height="6.5" fill="#b5ff00"/><rect x="855.8" y="821.1" width="6.5" height="6.5" fill="#c0ff00"/><rect x="657.8" y="827.1" width="6.5" height="6.5" fill="#00ffd1"/><rect x="663.8" y="827.1" width="6.5" height="6.5" fill="#00ffcf"/><rect x="669.8" y="827.1" width="6.5" height="6.5" fill="#00ffce"/><rect x="675.8" y="827.1" width="6.5" height="6.5" fill="#00ffcc"/><rect x="681.8" y="827.1" width="6.5" height="6.5" fill="#00ffcb"/><rect x="687.8" y="827.1" width="6.5" height="6.5" fill="#00ffc9"/><rect x="693.8" y="827.1" width="6.5" height="6.5" fill="#00ffc7"/><rect x="699.8" y="827.1" width="6.5" height="6.5" fill="#00ffc5"/><rect x="705.8" y="827.1" width="6.5" height="6.5" fill="#00ffc3"/><rect x="711.8" y="827.1" width="6.5" height="6.5" fill="#00ffc0"/><rect x="717.8" y="827.1" width="6.5" height="6.5" fill="#00ffbe"/><rect x="723.8" y="827.1" width="6.5" height="6.5" fill="#00ffbb"/><rect x="729.8" y="827.1" width="6.5" height="6.5" fill="#00ffb8"/><rect x="735.8" y="827.1" width="6.5" height="6.5" fill="#00ffb4"/><rect x="741.8" y="827.1" width="6.5" height="6.5" fill="#00ffb0"/><rect x="747.8" y="827.1" width="6.5" height="6.5" fill="#00ffac"/><rect x="753.8" y="827.1" width="6.5" height="6.5" fill="#00ffa7"/><rect x="759.8" y="827.1" width="6.5" height="6.5" fill="#00ffa2"/><rect x="765.8" y="827.1" width="6.5" height="6.5" fill="#00ff9c"/><rect x="771.8" y="827.1" width="6.5" height="6.5" fill="#00ff94"/><rect x="777.8" y="827.1" width="6.5" height="6.5" fill="#00ff8c"/><rect x="783.8" y="827.1" width="6.5" height="6.5" fill="#00ff82"/><rect x="789.8" y="827.1" width="6.5" height="6.5" fill="#00ff75"/><rect x="795.8" y="827.1" width="6.5" height="6.5" fill="#00ff64"/><rect x="801.8" y="827.1" width="6.5" height="6.5" fill="#00ff4b"/><rect x="807.8" y="827.1" width="6.5" height="6.5" fill="#11ff1b"/><rect x="813.8" y="827.1" width="6.5" height="6.5" fill="#48ff00"/><rect x="819.8" y="827.1" width="6.5" height="6.5" fill="#66ff00"/><rect x="825.8" y="827.1" width="6.5" height="6.5" fill="#7dff00"/><rect x="831.8" y="827.1" width="6.5" height="6.5" fill="#8fff00"/><rect x="837.8" y="827.1" width="6.5" height="6.5" fill="#9eff00"/><rect x="843.8" y="827.1" width="6.5" height="6.5" fill="#acff00"/><rect x="849.8" y="827.1" width="6.5" height="6.5" fill="#b9ff00"/><rect x="855.8" y="827.1" width="6.5" height="6.5" fill="#c4ff00"/><rect x="861.8" y="827.1" width="6.5" height="6.5" fill="#cfff00"/><rect x="867.8" y="827.1" width="6.5" height="6.5" fill="#d9ff00"/><rect x="657.8" y="833.1" width="6.5" height="6.5" fill="#00ffd3"/><rect x="663.8" y="833.1" width="6.5" height="6.5" fill="#00ffd2"/><rect x="669.8" y="833.1" width="6.5" height="6.5" fill="#00ffd0"/><rect x="675.8" y="833.1" width="6.5" height="6.5" fill="#00ffcf"/><rect x="681.8" y="833.1" width="6.5" height="6.5" fill="#00ffcd"/><rect x="687.8" y="833.1" width="6.5" height="6.5" fill="#00ffcb"/><rect x="693.8" y="833.1" width="6.5" height="6.5" fill="#00ffca"/><rect x="699.8" y="833.1" width="6.5" height="6.5" fill="#00ffc8"/><rect x="705.8" y="833.1" width="6.5" height="6.5" fill="#00ffc5"/><rect x="711.8" y="833.1" width="6.5" height="6.5" fill="#00ffc3"/><rect x="717.8" y="833.1" width="6.5" height="6.5" fill="#00ffc0"/><rect x="723.8" y="833.1" width="6.5" height="6.5" fill="#00ffbe"/><rect x="729.8" y="833.1" width="6.5" height="6.5" fill="#00ffbb"/><rect x="735.8" y="833.1" width="6.5" height="6.5" fill="#00ffb7"/><rect x="741.8" y="833.1" width="6.5" height="6.5" fill="#00ffb4"/><rect x="747.8" y="833.1" width="6.5" height="6.5" fill="#00ffaf"/><rect x="753.8" y="833.1" width="6.5" height="6.5" fill="#00ffab"/><rect x="759.8" y="833.1" width="6.5" height="6.5" fill="#00ffa5"/><rect x="765.8" y="833.1" width="6.5" height="6.5" fill="#00ff9f"/><rect x="771.8" y="833.1" width="6.5" height="6.5" fill="#00ff98"/><rect x="777.8" y="833.1" width="6.5" height="6.5" fill="#00ff90"/><rect x="783.8" y="833.1" width="6.5" height="6.5" fill="#00ff85"/><rect x="789.8" y="833.1" width="6.5" height="6.5" fill="#00ff79"/><rect x="795.8" y="833.1" width="6.5" height="6.5" fill="#00ff68"/><rect x="801.8" y="833.1" width="6.5" height="6.5" fill="#00ff4f"/><rect x="807.8" y="833.1" width="6.5" height="6.5" fill="#2eff37"/><rect x="813.8" y="833.1" width="6.5" height="6.5" fill="#52ff2a"/><rect x="819.8" y="833.1" width="6.5" height="6.5" fill="#6aff16"/><rect x="825.8" y="833.1" width="6.5" height="6.5" fill="#7fff00"/><rect x="831.8" y="833.1" width="6.5" height="6.5" fill="#92ff00"/><rect x="837.8" y="833.1" width="6.5" height="6.5" fill="#a2ff00"/><rect x="843.8" y="833.1" width="6.5" height="6.5" fill="#b0ff00"/><rect x="849.8" y="833.1" width="6.5" height="6.5" fill="#bdff00"/><rect x="855.8" y="833.1" width="6.5" height="6.5" fill="#c9ff00"/><rect x="861.8" y="833.1" width="6.5" height="6.5" fill="#d4ff00"/><rect x="867.8" y="833.1" width="6.5" height="6.5" fill="#dfff00"/><rect x="873.8" y="833.1" width="6.5" height="6.5" fill="#e8ff00"/><rect x="657.8" y="839.1" width="6.5" height="6.5" fill="#00ffd5"/><rect x="663.8" y="839.1" width="6.5" height="6.5" fill="#00ffd4"/><rect x="669.8" y="839.1" width="6.5" height="6.5" fill="#00ffd3"/><rect x="675.8" y="839.1" width="6.5" height="6.5" fill="#00ffd1"/><rect x="681.8" y="839.1" width="6.5" height="6.5" fill="#00ffd0"/><rect x="687.8" y="839.1" width="6.5" height="6.5" fill="#00ffce"/><rect x="693.8" y="839.1" width="6.5" height="6.5" fill="#00ffcc"/><rect x="699.8" y="839.1" width="6.5" height="6.5" fill="#00ffca"/><rect x="705.8" y="839.1" width="6.5" height="6.5" fill="#00ffc8"/><rect x="711.8" y="839.1" width="6.5" height="6.5" fill="#00ffc6"/><rect x="717.8" y="839.1" width="6.5" height="6.5" fill="#00ffc3"/><rect x="723.8" y="839.1" width="6.5" height="6.5" fill="#00ffc1"/><rect x="729.8" y="839.1" width="6.5" height="6.5" fill="#00ffbe"/><rect x="735.8" y="839.1" width="6.5" height="6.5" fill="#00ffba"/><rect x="741.8" y="839.1" width="6.5" height="6.5" fill="#00ffb7"/><rect x="747.8" y="839.1" width="6.5" height="6.5" fill="#00ffb3"/><rect x="753.8" y="839.1" width="6.5" height="6.5" fill="#00ffae"/><rect x="759.8" y="839.1" width="6.5" height="6.5" fill="#00ffa9"/><rect x="765.8" y="839.1" width="6.5" height="6.5" fill="#00ffa3"/><rect x="771.8" y="839.1" width="6.5" height="6.5" fill="#00ff9c"/><rect x="777.8" y="839.1" width="6.5" height="6.5" fill="#00ff94"/><rect x="783.8" y="839.1" width="6.5" height="6.5" fill="#00ff89"/><rect x="789.8" y="839.1" width="6.5" height="6.5" fill="#00ff7d"/><rect x="795.8" y="839.1" width="6.5" height="6.5" fill="#00ff6c"/><rect x="801.8" y="839.1" width="6.5" height="6.5" fill="#00ff54"/><rect x="807.8" y="839.1" width="6.5" height="6.5" fill="#40ff49"/><rect x="813.8" y="839.1" width="6.5" height="6.5" fill="#5eff40"/><rect x="819.8" y="839.1" width="6.5" height="6.5" fill="#74ff36"/><rect x="825.8" y="839.1" width="6.5" height="6.5" fill="#86ff27"/><rect x="831.8" y="839.1" width="6.5" height="6.5" fill="#96ff0d"/><rect x="837.8" y="839.1" width="6.5" height="6.5" fill="#a6ff00"/><rect x="843.8" y="839.1" width="6.5" height="6.5" fill="#b5ff00"/><rect x="849.8" y="839.1" width="6.5" height="6.5" fill="#c3ff00"/><rect x="855.8" y="839.1" width="6.5" height="6.5" fill="#cfff00"/><rect x="861.8" y="839.1" width="6.5" height="6.5" fill="#daff00"/><rect x="867.8" y="839.1" width="6.5" height="6.5" fill="#e5ff00"/><rect x="873.8" y="839.1" width="6.5" height="6.5" fill="#efff00"/><rect x="879.8" y="839.1" width="6.5" height="6.5" fill="#f9ff00"/><rect x="657.8" y="845.1" width="6.5" height="6.5" fill="#00ffd8"/><rect x="663.8" y="845.1" width="6.5" height="6.5" fill="#00ffd6"/><rect x="669.8" y="845.1" width="6.5" height="6.5" fill="#00ffd5"/><rect x="675.8" y="845.1" width="6.5" height="6.5" fill="#00ffd4"/><rect x="681.8" y="845.1" width="6.5" height="6.5" fill="#00ffd2"/><rect x="687.8" y="845.1" width="6.5" height="6.5" fill="#00ffd1"/><rect x="693.8" y="845.1" width="6.5" height="6.5" fill="#00ffcf"/><rect x="699.8" y="845.1" width="6.5" height="6.5" fill="#00ffcd"/><rect x="705.8" y="845.1" width="6.5" height="6.5" fill="#00ffcb"/><rect x="711.8" y="845.1" width="6.5" height="6.5" fill="#00ffc9"/><rect x="717.8" y="845.1" width="6.5" height="6.5" fill="#00ffc6"/><rect x="723.8" y="845.1" width="6.5" height="6.5" fill="#00ffc4"/><rect x="729.8" y="845.1" width="6.5" height="6.5" fill="#00ffc1"/><rect x="735.8" y="845.1" width="6.5" height="6.5" fill="#00ffbe"/><rect x="741.8" y="845.1" width="6.5" height="6.5" fill="#00ffba"/><rect x="747.8" y="845.1" width="6.5" height="6.5" fill="#00ffb6"/><rect x="753.8" y="845.1" width="6.5" height="6.5" fill="#00ffb2"/><rect x="759.8" y="845.1" width="6.5" height="6.5" fill="#00ffad"/><rect x="765.8" y="845.1" width="6.5" height="6.5" fill="#00ffa7"/><rect x="771.8" y="845.1" width="6.5" height="6.5" fill="#00ffa0"/><rect x="777.8" y="845.1" width="6.5" height="6.5" fill="#00ff98"/><rect x="783.8" y="845.1" width="6.5" height="6.5" fill="#00ff8e"/><rect x="789.8" y="845.1" width="6.5" height="6.5" fill="#00ff81"/><rect x="795.8" y="845.1" width="6.5" height="6.5" fill="#00ff71"/><rect x="801.8" y="845.1" width="6.5" height="6.5" fill="#21ff5e"/><rect x="807.8" y="845.1" width="6.5" height="6.5" fill="#4eff58"/><rect x="813.8" y="845.1" width="6.5" height="6.5" fill="#69ff51"/><rect x="819.8" y="845.1" width="6.5" height="6.5" fill="#7dff49"/><rect x="825.8" y="845.1" width="6.5" height="6.5" fill="#8fff40"/><rect x="831.8" y="845.1" width="6.5" height="6.5" fill="#9fff34"/><rect x="837.8" y="845.1" width="6.5" height="6.5" fill="#adff24"/><rect x="843.8" y="845.1" width="6.5" height="6.5" fill="#baff00"/><rect x="849.8" y="845.1" width="6.5" height="6.5" fill="#c8ff00"/><rect x="855.8" y="845.1" width="6.5" height="6.5" fill="#d5ff00"/><rect x="861.8" y="845.1" width="6.5" height="6.5" fill="#e1ff00"/><rect x="867.8" y="845.1" width="6.5" height="6.5" fill="#ecff00"/><rect x="873.8" y="845.1" width="6.5" height="6.5" fill="#f6ff00"/><rect x="879.8" y="845.1" width="6.5" height="6.5" fill="#fffe00"/><rect x="885.8" y="845.1" width="6.5" height="6.5" fill="#fff500"/><rect x="891.8" y="845.1" width="6.5" height="6.5" fill="#ffed00"/><rect x="663.8" y="851.1" width="6.5" height="6.5" fill="#00ffd9"/><rect x="669.8" y="851.1" width="6.5" height="6.5" fill="#00ffd8"/><rect x="675.8" y="851.1" width="6.5" height="6.5" fill="#00ffd6"/><rect x="681.8" y="851.1" width="6.5" height="6.5" fill="#00ffd5"/><rect x="687.8" y="851.1" width="6.5" height="6.5" fill="#00ffd3"/><rect x="693.8" y="851.1" width="6.5" height="6.5" fill="#00ffd2"/><rect x="699.8" y="851.1" width="6.5" height="6.5" fill="#00ffd0"/><rect x="705.8" y="851.1" width="6.5" height="6.5" fill="#00ffce"/><rect x="711.8" y="851.1" width="6.5" height="6.5" fill="#00ffcc"/><rect x="717.8" y="851.1" width="6.5" height="6.5" fill="#00ffca"/><rect x="723.8" y="851.1" width="6.5" height="6.5" fill="#00ffc7"/><rect x="729.8" y="851.1" width="6.5" height="6.5" fill="#00ffc4"/><rect x="735.8" y="851.1" width="6.5" height="6.5" fill="#00ffc1"/><rect x="741.8" y="851.1" width="6.5" height="6.5" fill="#00ffbe"/><rect x="747.8" y="851.1" width="6.5" height="6.5" fill="#00ffba"/><rect x="753.8" y="851.1" width="6.5" height="6.5" fill="#00ffb6"/><rect x="759.8" y="851.1" width="6.5" height="6.5" fill="#00ffb1"/><rect x="765.8" y="851.1" width="6.5" height="6.5" fill="#00ffab"/><rect x="771.8" y="851.1" width="6.5" height="6.5" fill="#00ffa4"/><rect x="777.8" y="851.1" width="6.5" height="6.5" fill="#00ff9c"/><rect x="783.8" y="851.1" width="6.5" height="6.5" fill="#00ff92"/><rect x="789.8" y="851.1" width="6.5" height="6.5" fill="#00ff86"/><rect x="795.8" y="851.1" width="6.5" height="6.5" fill="#00ff75"/><rect x="801.8" y="851.1" width="6.5" height="6.5" fill="#38ff6b"/><rect x="807.8" y="851.1" width="6.5" height="6.5" fill="#5bff66"/><rect x="813.8" y="851.1" width="6.5" height="6.5" fill="#73ff60"/><rect x="819.8" y="851.1" width="6.5" height="6.5" fill="#87ff5a"/><rect x="825.8" y="851.1" width="6.5" height="6.5" fill="#98ff52"/><rect x="831.8" y="851.1" width="6.5" height="6.5" fill="#a7ff4a"/><rect x="837.8" y="851.1" width="6.5" height="6.5" fill="#b5ff40"/><rect x="843.8" y="851.1" width="6.5" height="6.5" fill="#c3ff33"/><rect x="849.8" y="851.1" width="6.5" height="6.5" fill="#d0ff1f"/><rect x="855.8" y="851.1" width="6.5" height="6.5" fill="#dcff00"/><rect x="861.8" y="851.1" width="6.5" height="6.5" fill="#e8ff00"/><rect x="867.8" y="851.1" width="6.5" height="6.5" fill="#f4ff00"/><rect x="873.8" y="851.1" width="6.5" height="6.5" fill="#ffff00"/><rect x="879.8" y="851.1" width="6.5" height="6.5" fill="#fff500"/><rect x="885.8" y="851.1" width="6.5" height="6.5" fill="#ffed00"/><rect x="891.8" y="851.1" width="6.5" height="6.5" fill="#ffe500"/><rect x="897.8" y="851.1" width="6.5" height="6.5" fill="#ffde00"/><rect x="663.8" y="857.1" width="6.5" height="6.5" fill="#00ffdc"/><rect x="669.8" y="857.1" width="6.5" height="6.5" fill="#00ffda"/><rect x="675.8" y="857.1" width="6.5" height="6.5" fill="#00ffd9"/><rect x="681.8" y="857.1" width="6.5" height="6.5" fill="#00ffd8"/><rect x="687.8" y="857.1" width="6.5" height="6.5" fill="#00ffd6"/><rect x="693.8" y="857.1" width="6.5" height="6.5" fill="#00ffd5"/><rect x="699.8" y="857.1" width="6.5" height="6.5" fill="#00ffd3"/><rect x="705.8" y="857.1" width="6.5" height="6.5" fill="#00ffd1"/><rect x="711.8" y="857.1" width="6.5" height="6.5" fill="#00ffcf"/><rect x="717.8" y="857.1" width="6.5" height="6.5" fill="#00ffcd"/><rect x="723.8" y="857.1" width="6.5" height="6.5" fill="#00ffcb"/><rect x="729.8" y="857.1" width="6.5" height="6.5" fill="#00ffc8"/><rect x="735.8" y="857.1" width="6.5" height="6.5" fill="#00ffc5"/><rect x="741.8" y="857.1" width="6.5" height="6.5" fill="#00ffc2"/><rect x="747.8" y="857.1" width="6.5" height="6.5" fill="#00ffbe"/><rect x="753.8" y="857.1" width="6.5" height="6.5" fill="#00ffba"/><rect x="759.8" y="857.1" width="6.5" height="6.5" fill="#00ffb5"/><rect x="765.8" y="857.1" width="6.5" height="6.5" fill="#00ffaf"/><rect x="771.8" y="857.1" width="6.5" height="6.5" fill="#00ffa9"/><rect x="777.8" y="857.1" width="6.5" height="6.5" fill="#00ffa1"/><rect x="783.8" y="857.1" width="6.5" height="6.5" fill="#00ff97"/><rect x="789.8" y="857.1" width="6.5" height="6.5" fill="#00ff8b"/><rect x="795.8" y="857.1" width="6.5" height="6.5" fill="#03ff7b"/><rect x="801.8" y="857.1" width="6.5" height="6.5" fill="#49ff77"/><rect x="807.8" y="857.1" width="6.5" height="6.5" fill="#67ff72"/><rect x="813.8" y="857.1" width="6.5" height="6.5" fill="#7dff6d"/><rect x="819.8" y="857.1" width="6.5" height="6.5" fill="#90ff68"/><rect x="825.8" y="857.1" width="6.5" height="6.5" fill="#a1ff62"/><rect x="831.8" y="857.1" width="6.5" height="6.5" fill="#b0ff5b"/><rect x="837.8" y="857.1" width="6.5" height="6.5" fill="#beff54"/><rect x="843.8" y="857.1" width="6.5" height="6.5" fill="#ccff4a"/><rect x="849.8" y="857.1" width="6.5" height="6.5" fill="#d8ff3f"/><rect x="855.8" y="857.1" width="6.5" height="6.5" fill="#e5ff31"/><rect x="861.8" y="857.1" width="6.5" height="6.5" fill="#f1ff19"/><rect x="867.8" y="857.1" width="6.5" height="6.5" fill="#fdff00"/><rect x="873.8" y="857.1" width="6.5" height="6.5" fill="#fff600"/><rect x="879.8" y="857.1" width="6.5" height="6.5" fill="#ffed00"/><rect x="885.8" y="857.1" width="6.5" height="6.5" fill="#ffe400"/><rect x="891.8" y="857.1" width="6.5" height="6.5" fill="#ffdc00"/><rect x="897.8" y="857.1" width="6.5" height="6.5" fill="#ffd600"/><rect x="903.8" y="857.1" width="6.5" height="6.5" fill="#ffcf00"/><rect x="909.8" y="857.1" width="6.5" height="6.5" fill="#ffca00"/><rect x="663.8" y="863.1" width="6.5" height="6.5" fill="#00ffde"/><rect x="669.8" y="863.1" width="6.5" height="6.5" fill="#00ffdd"/><rect x="675.8" y="863.1" width="6.5" height="6.5" fill="#00ffdc"/><rect x="681.8" y="863.1" width="6.5" height="6.5" fill="#00ffdb"/><rect x="687.8" y="863.1" width="6.5" height="6.5" fill="#00ffd9"/><rect x="693.8" y="863.1" width="6.5" height="6.5" fill="#00ffd8"/><rect x="699.8" y="863.1" width="6.5" height="6.5" fill="#00ffd6"/><rect x="705.8" y="863.1" width="6.5" height="6.5" fill="#00ffd4"/><rect x="711.8" y="863.1" width="6.5" height="6.5" fill="#00ffd3"/><rect x="717.8" y="863.1" width="6.5" height="6.5" fill="#00ffd0"/><rect x="723.8" y="863.1" width="6.5" height="6.5" fill="#00ffce"/><rect x="729.8" y="863.1" width="6.5" height="6.5" fill="#00ffcc"/><rect x="735.8" y="863.1" width="6.5" height="6.5" fill="#00ffc9"/><rect x="741.8" y="863.1" width="6.5" height="6.5" fill="#00ffc6"/><rect x="747.8" y="863.1" width="6.5" height="6.5" fill="#00ffc2"/><rect x="753.8" y="863.1" width="6.5" height="6.5" fill="#00ffbe"/><rect x="759.8" y="863.1" width="6.5" height="6.5" fill="#00ffb9"/><rect x="765.8" y="863.1" width="6.5" height="6.5" fill="#00ffb4"/><rect x="771.8" y="863.1" width="6.5" height="6.5" fill="#00ffae"/><rect x="777.8" y="863.1" width="6.5" height="6.5" fill="#00ffa6"/><rect x="783.8" y="863.1" width="6.5" height="6.5" fill="#00ff9c"/><rect x="789.8" y="863.1" width="6.5" height="6.5" fill="#00ff90"/><rect x="795.8" y="863.1" width="6.5" height="6.5" fill="#2eff86"/><rect x="801.8" y="863.1" width="6.5" height="6.5" fill="#57ff82"/><rect x="807.8" y="863.1" width="6.5" height="6.5" fill="#72ff7e"/><rect x="813.8" y="863.1" width="6.5" height="6.5" fill="#87ff7a"/><rect x="819.8" y="863.1" width="6.5" height="6.5" fill="#99ff75"/><rect x="825.8" y="863.1" width="6.5" height="6.5" fill="#aaff70"/><rect x="831.8" y="863.1" width="6.5" height="6.5" fill="#b9ff6b"/><rect x="837.8" y="863.1" width="6.5" height="6.5" fill="#c7ff64"/><rect x="843.8" y="863.1" width="6.5" height="6.5" fill="#d5ff5d"/><rect x="849.8" y="863.1" width="6.5" height="6.5" fill="#e2ff55"/><rect x="855.8" y="863.1" width="6.5" height="6.5" fill="#eeff4b"/><rect x="861.8" y="863.1" width="6.5" height="6.5" fill="#fbff3f"/><rect x="867.8" y="863.1" width="6.5" height="6.5" fill="#fff72c"/><rect x="873.8" y="863.1" width="6.5" height="6.5" fill="#ffed0c"/><rect x="879.8" y="863.1" width="6.5" height="6.5" fill="#ffe300"/><rect x="885.8" y="863.1" width="6.5" height="6.5" fill="#ffdb00"/><rect x="891.8" y="863.1" width="6.5" height="6.5" fill="#ffd400"/><rect x="897.8" y="863.1" width="6.5" height="6.5" fill="#ffcd00"/><rect x="903.8" y="863.1" width="6.5" height="6.5" fill="#ffc700"/><rect x="909.8" y="863.1" width="6.5" height="6.5" fill="#ffc200"/><rect x="915.8" y="863.1" width="6.5" height="6.5" fill="#ffbd00"/><rect x="663.8" y="869.1" width="6.5" height="6.5" fill="#00ffe1"/><rect x="669.8" y="869.1" width="6.5" height="6.5" fill="#00ffe0"/><rect x="675.8" y="869.1" width="6.5" height="6.5" fill="#00ffdf"/><rect x="681.8" y="869.1" width="6.5" height="6.5" fill="#00ffde"/><rect x="687.8" y="869.1" width="6.5" height="6.5" fill="#00ffdc"/><rect x="693.8" y="869.1" width="6.5" height="6.5" fill="#00ffdb"/><rect x="699.8" y="869.1" width="6.5" height="6.5" fill="#00ffda"/><rect x="705.8" y="869.1" width="6.5" height="6.5" fill="#00ffd8"/><rect x="711.8" y="869.1" width="6.5" height="6.5" fill="#00ffd6"/><rect x="717.8" y="869.1" width="6.5" height="6.5" fill="#00ffd4"/><rect x="723.8" y="869.1" width="6.5" height="6.5" fill="#00ffd2"/><rect x="729.8" y="869.1" width="6.5" height="6.5" fill="#00ffd0"/><rect x="735.8" y="869.1" width="6.5" height="6.5" fill="#00ffcd"/><rect x="741.8" y="869.1" width="6.5" height="6.5" fill="#00ffca"/><rect x="747.8" y="869.1" width="6.5" height="6.5" fill="#00ffc6"/><rect x="753.8" y="869.1" width="6.5" height="6.5" fill="#00ffc3"/><rect x="759.8" y="869.1" width="6.5" height="6.5" fill="#00ffbe"/><rect x="765.8" y="869.1" width="6.5" height="6.5" fill="#00ffb9"/><rect x="771.8" y="869.1" width="6.5" height="6.5" fill="#00ffb3"/><rect x="777.8" y="869.1" width="6.5" height="6.5" fill="#00ffab"/><rect x="783.8" y="869.1" width="6.5" height="6.5" fill="#00ffa2"/><rect x="789.8" y="869.1" width="6.5" height="6.5" fill="#00ff96"/><rect x="795.8" y="869.1" width="6.5" height="6.5" fill="#42ff91"/><rect x="801.8" y="869.1" width="6.5" height="6.5" fill="#64ff8e"/><rect x="807.8" y="869.1" width="6.5" height="6.5" fill="#7dff8a"/><rect x="813.8" y="869.1" width="6.5" height="6.5" fill="#91ff86"/><rect x="819.8" y="869.1" width="6.5" height="6.5" fill="#a3ff82"/><rect x="825.8" y="869.1" width="6.5" height="6.5" fill="#b3ff7e"/><rect x="831.8" y="869.1" width="6.5" height="6.5" fill="#c2ff79"/><rect x="837.8" y="869.1" width="6.5" height="6.5" fill="#d1ff74"/><rect x="843.8" y="869.1" width="6.5" height="6.5" fill="#deff6e"/><rect x="849.8" y="869.1" width="6.5" height="6.5" fill="#ecff67"/><rect x="855.8" y="869.1" width="6.5" height="6.5" fill="#f8ff5f"/><rect x="861.8" y="869.1" width="6.5" height="6.5" fill="#fff954"/><rect x="867.8" y="869.1" width="6.5" height="6.5" fill="#ffee46"/><rect x="873.8" y="869.1" width="6.5" height="6.5" fill="#ffe336"/><rect x="879.8" y="869.1" width="6.5" height="6.5" fill="#ffda23"/><rect x="885.8" y="869.1" width="6.5" height="6.5" fill="#ffd100"/><rect x="891.8" y="869.1" width="6.5" height="6.5" fill="#ffca00"/><rect x="897.8" y="869.1" width="6.5" height="6.5" fill="#ffc400"/><rect x="903.8" y="869.1" width="6.5" height="6.5" fill="#ffbe00"/><rect x="909.8" y="869.1" width="6.5" height="6.5" fill="#ffb900"/><rect x="915.8" y="869.1" width="6.5" height="6.5" fill="#ffb400"/><rect x="921.8" y="869.1" width="6.5" height="6.5" fill="#ffb000"/><rect x="663.8" y="875.1" width="6.5" height="6.5" fill="#00ffe4"/><rect x="669.8" y="875.1" width="6.5" height="6.5" fill="#00ffe3"/><rect x="675.8" y="875.1" width="6.5" height="6.5" fill="#00ffe2"/><rect x="681.8" y="875.1" width="6.5" height="6.5" fill="#00ffe1"/><rect x="687.8" y="875.1" width="6.5" height="6.5" fill="#00ffe0"/><rect x="693.8" y="875.1" width="6.5" height="6.5" fill="#00ffde"/><rect x="699.8" y="875.1" width="6.5" height="6.5" fill="#00ffdd"/><rect x="705.8" y="875.1" width="6.5" height="6.5" fill="#00ffdb"/><rect x="711.8" y="875.1" width="6.5" height="6.5" fill="#00ffda"/><rect x="717.8" y="875.1" width="6.5" height="6.5" fill="#00ffd8"/><rect x="723.8" y="875.1" width="6.5" height="6.5" fill="#00ffd6"/><rect x="729.8" y="875.1" width="6.5" height="6.5" fill="#00ffd4"/><rect x="735.8" y="875.1" width="6.5" height="6.5" fill="#00ffd1"/><rect x="741.8" y="875.1" width="6.5" height="6.5" fill="#00ffce"/><rect x="747.8" y="875.1" width="6.5" height="6.5" fill="#00ffcb"/><rect x="753.8" y="875.1" width="6.5" height="6.5" fill="#00ffc7"/><rect x="759.8" y="875.1" width="6.5" height="6.5" fill="#00ffc3"/><rect x="765.8" y="875.1" width="6.5" height="6.5" fill="#00ffbe"/><rect x="771.8" y="875.1" width="6.5" height="6.5" fill="#00ffb8"/><rect x="777.8" y="875.1" width="6.5" height="6.5" fill="#00ffb1"/><rect x="783.8" y="875.1" width="6.5" height="6.5" fill="#00ffa8"/><rect x="789.8" y="875.1" width="6.5" height="6.5" fill="#1cff9e"/><rect x="795.8" y="875.1" width="6.5" height="6.5" fill="#53ff9c"/><rect x="801.8" y="875.1" width="6.5" height="6.5" fill="#71ff99"/><rect x="807.8" y="875.1" width="6.5" height="6.5" fill="#88ff96"/><rect x="813.8" y="875.1" width="6.5" height="6.5" fill="#9bff92"/><rect x="819.8" y="875.1" width="6.5" height="6.5" fill="#adff8f"/><rect x="825.8" y="875.1" width="6.5" height="6.5" fill="#bdff8b"/><rect x="831.8" y="875.1" width="6.5" height="6.5" fill="#ccff87"/><rect x="837.8" y="875.1" width="6.5" height="6.5" fill="#dbff82"/><rect x="843.8" y="875.1" width="6.5" height="6.5" fill="#e8ff7d"/><rect x="849.8" y="875.1" width="6.5" height="6.5" fill="#f6ff77"/><rect x="855.8" y="875.1" width="6.5" height="6.5" fill="#fffb6f"/><rect x="861.8" y="875.1" width="6.5" height="6.5" fill="#ffef63"/><rect x="867.8" y="875.1" width="6.5" height="6.5" fill="#ffe457"/><rect x="873.8" y="875.1" width="6.5" height="6.5" fill="#ffda4a"/><rect x="879.8" y="875.1" width="6.5" height="6.5" fill="#ffd13d"/><rect x="885.8" y="875.1" width="6.5" height="6.5" fill="#ffc92e"/><rect x="891.8" y="875.1" width="6.5" height="6.5" fill="#ffc11a"/><rect x="897.8" y="875.1" width="6.5" height="6.5" fill="#ffba00"/><rect x="903.8" y="875.1" width="6.5" height="6.5" fill="#ffb500"/><rect x="909.8" y="875.1" width="6.5" height="6.5" fill="#ffaf00"/><rect x="915.8" y="875.1" width="6.5" height="6.5" fill="#ffab00"/><rect x="921.8" y="875.1" width="6.5" height="6.5" fill="#ffa700"/><rect x="927.8" y="875.1" width="6.5" height="6.5" fill="#ffa300"/><rect x="933.8" y="875.1" width="6.5" height="6.5" fill="#ff9f00"/><rect x="669.8" y="881.1" width="6.5" height="6.5" fill="#00ffe6"/><rect x="675.8" y="881.1" width="6.5" height="6.5" fill="#00ffe5"/><rect x="681.8" y="881.1" width="6.5" height="6.5" fill="#00ffe4"/><rect x="687.8" y="881.1" width="6.5" height="6.5" fill="#00ffe3"/><rect x="693.8" y="881.1" width="6.5" height="6.5" fill="#00ffe2"/><rect x="699.8" y="881.1" width="6.5" height="6.5" fill="#00ffe1"/><rect x="705.8" y="881.1" width="6.5" height="6.5" fill="#00ffdf"/><rect x="711.8" y="881.1" width="6.5" height="6.5" fill="#00ffde"/><rect x="717.8" y="881.1" width="6.5" height="6.5" fill="#00ffdc"/><rect x="723.8" y="881.1" width="6.5" height="6.5" fill="#00ffda"/><rect x="729.8" y="881.1" width="6.5" height="6.5" fill="#00ffd8"/><rect x="735.8" y="881.1" width="6.5" height="6.5" fill="#00ffd6"/><rect x="741.8" y="881.1" width="6.5" height="6.5" fill="#00ffd3"/><rect x="747.8" y="881.1" width="6.5" height="6.5" fill="#00ffd0"/><rect x="753.8" y="881.1" width="6.5" height="6.5" fill="#00ffcd"/><rect x="759.8" y="881.1" width="6.5" height="6.5" fill="#00ffc9"/><rect x="765.8" y="881.1" width="6.5" height="6.5" fill="#00ffc4"/><rect x="771.8" y="881.1" width="6.5" height="6.5" fill="#00ffbe"/><rect x="777.8" y="881.1" width="6.5" height="6.5" fill="#00ffb8"/><rect x="783.8" y="881.1" width="6.5" height="6.5" fill="#00ffaf"/><rect x="789.8" y="881.1" width="6.5" height="6.5" fill="#3affa9"/><rect x="795.8" y="881.1" width="6.5" height="6.5" fill="#62ffa7"/><rect x="801.8" y="881.1" width="6.5" height="6.5" fill="#7dffa4"/><rect x="807.8" y="881.1" width="6.5" height="6.5" fill="#92ffa1"/><rect x="813.8" y="881.1" width="6.5" height="6.5" fill="#a6ff9e"/><rect x="819.8" y="881.1" width="6.5" height="6.5" fill="#b7ff9b"/><rect x="825.8" y="881.1" width="6.5" height="6.5" fill="#c7ff98"/><rect x="831.8" y="881.1" width="6.5" height="6.5" fill="#d6ff94"/><rect x="837.8" y="881.1" width="6.5" height="6.5" fill="#e5ff90"/><rect x="843.8" y="881.1" width="6.5" height="6.5" fill="#f3ff8c"/><rect x="849.8" y="881.1" width="6.5" height="6.5" fill="#fffd86"/><rect x="855.8" y="881.1" width="6.5" height="6.5" fill="#fff07a"/><rect x="861.8" y="881.1" width="6.5" height="6.5" fill="#ffe56f"/><rect x="867.8" y="881.1" width="6.5" height="6.5" fill="#ffdb64"/><rect x="873.8" y="881.1" width="6.5" height="6.5" fill="#ffd159"/><rect x="879.8" y="881.1" width="6.5" height="6.5" fill="#ffc84e"/><rect x="885.8" y="881.1" width="6.5" height="6.5" fill="#ffc042"/><rect x="891.8" y="881.1" width="6.5" height="6.5" fill="#ffb936"/><rect x="897.8" y="881.1" width="6.5" height="6.5" fill="#ffb127"/><rect x="903.8" y="881.1" width="6.5" height="6.5" fill="#ffab11"/><rect x="909.8" y="881.1" width="6.5" height="6.5" fill="#ffa500"/><rect x="915.8" y="881.1" width="6.5" height="6.5" fill="#ffa100"/><rect x="921.8" y="881.1" width="6.5" height="6.5" fill="#ff9d00"/><rect x="927.8" y="881.1" width="6.5" height="6.5" fill="#ff9900"/><rect x="933.8" y="881.1" width="6.5" height="6.5" fill="#ff9600"/><rect x="939.8" y="881.1" width="6.5" height="6.5" fill="#ff9200"/><rect x="669.8" y="887.1" width="6.5" height="6.5" fill="#00ffe9"/><rect x="675.8" y="887.1" width="6.5" height="6.5" fill="#00ffe8"/><rect x="681.8" y="887.1" width="6.5" height="6.5" fill="#00ffe7"/><rect x="687.8" y="887.1" width="6.5" height="6.5" fill="#00ffe6"/><rect x="693.8" y="887.1" width="6.5" height="6.5" fill="#00ffe5"/><rect x="699.8" y="887.1" width="6.5" height="6.5" fill="#00ffe4"/><rect x="705.8" y="887.1" width="6.5" height="6.5" fill="#00ffe3"/><rect x="711.8" y="887.1" width="6.5" height="6.5" fill="#00ffe2"/><rect x="717.8" y="887.1" width="6.5" height="6.5" fill="#00ffe0"/><rect x="723.8" y="887.1" width="6.5" height="6.5" fill="#00ffdf"/><rect x="729.8" y="887.1" width="6.5" height="6.5" fill="#00ffdd"/><rect x="735.8" y="887.1" width="6.5" height="6.5" fill="#00ffdb"/><rect x="741.8" y="887.1" width="6.5" height="6.5" fill="#00ffd8"/><rect x="747.8" y="887.1" width="6.5" height="6.5" fill="#00ffd5"/><rect x="753.8" y="887.1" width="6.5" height="6.5" fill="#00ffd2"/><rect x="759.8" y="887.1" width="6.5" height="6.5" fill="#00ffcf"/><rect x="765.8" y="887.1" width="6.5" height="6.5" fill="#00ffca"/><rect x="771.8" y="887.1" width="6.5" height="6.5" fill="#00ffc5"/><rect x="777.8" y="887.1" width="6.5" height="6.5" fill="#00ffbf"/><rect x="783.8" y="887.1" width="6.5" height="6.5" fill="#00ffb7"/><rect x="789.8" y="887.1" width="6.5" height="6.5" fill="#4dffb4"/><rect x="795.8" y="887.1" width="6.5" height="6.5" fill="#6fffb2"/><rect x="801.8" y="887.1" width="6.5" height="6.5" fill="#88ffb0"/><rect x="807.8" y="887.1" width="6.5" height="6.5" fill="#9dffad"/><rect x="813.8" y="887.1" width="6.5" height="6.5" fill="#b0ffab"/><rect x="819.8" y="887.1" width="6.5" height="6.5" fill="#c2ffa8"/><rect x="825.8" y="887.1" width="6.5" height="6.5" fill="#d2ffa5"/><rect x="831.8" y="887.1" width="6.5" height="6.5" fill="#e1ffa2"/><rect x="837.8" y="887.1" width="6.5" height="6.5" fill="#f0ff9e"/><rect x="843.8" y="887.1" width="6.5" height="6.5" fill="#ffff9b"/><rect x="849.8" y="887.1" width="6.5" height="6.5" fill="#fff28f"/><rect x="855.8" y="887.1" width="6.5" height="6.5" fill="#ffe683"/><rect x="861.8" y="887.1" width="6.5" height="6.5" fill="#ffdb78"/><rect x="867.8" y="887.1" width="6.5" height="6.5" fill="#ffd16e"/><rect x="873.8" y="887.1" width="6.5" height="6.5" fill="#ffc864"/><rect x="879.8" y="887.1" width="6.5" height="6.5" fill="#ffbf5a"/><rect x="885.8" y="887.1" width="6.5" height="6.5" fill="#ffb750"/><rect x="891.8" y="887.1" width="6.5" height="6.5" fill="#ffb046"/><rect x="897.8" y="887.1" width="6.5" height="6.5" fill="#ffa93b"/><rect x="903.8" y="887.1" width="6.5" height="6.5" fill="#ffa32f"/><rect x="909.8" y="887.1" width="6.5" height="6.5" fill="#ff9c20"/><rect x="915.8" y="887.1" width="6.5" height="6.5" fill="#ff9605"/><rect x="921.8" y="887.1" width="6.5" height="6.5" fill="#ff9200"/><rect x="927.8" y="887.1" width="6.5" height="6.5" fill="#ff8f00"/><rect x="933.8" y="887.1" width="6.5" height="6.5" fill="#ff8b00"/><rect x="939.8" y="887.1" width="6.5" height="6.5" fill="#ff8800"/><rect x="945.8" y="887.1" width="6.5" height="6.5" fill="#ff8500"/><rect x="951.8" y="887.1" width="6.5" height="6.5" fill="#ff8300"/><rect x="669.8" y="893.1" width="6.5" height="6.5" fill="#00ffec"/><rect x="675.8" y="893.1" width="6.5" height="6.5" fill="#00ffec"/><rect x="681.8" y="893.1" width="6.5" height="6.5" fill="#00ffeb"/><rect x="687.8" y="893.1" width="6.5" height="6.5" fill="#00ffea"/><rect x="693.8" y="893.1" width="6.5" height="6.5" fill="#00ffe9"/><rect x="699.8" y="893.1" width="6.5" height="6.5" fill="#00ffe8"/><rect x="705.8" y="893.1" width="6.5" height="6.5" fill="#00ffe7"/><rect x="711.8" y="893.1" width="6.5" height="6.5" fill="#00ffe6"/><rect x="717.8" y="893.1" width="6.5" height="6.5" fill="#00ffe5"/><rect x="723.8" y="893.1" width="6.5" height="6.5" fill="#00ffe3"/><rect x="729.8" y="893.1" width="6.5" height="6.5" fill="#00ffe2"/><rect x="735.8" y="893.1" width="6.5" height="6.5" fill="#00ffe0"/><rect x="741.8" y="893.1" width="6.5" height="6.5" fill="#00ffde"/><rect x="747.8" y="893.1" width="6.5" height="6.5" fill="#00ffdb"/><rect x="753.8" y="893.1" width="6.5" height="6.5" fill="#00ffd8"/><rect x="759.8" y="893.1" width="6.5" height="6.5" fill="#00ffd5"/><rect x="765.8" y="893.1" width="6.5" height="6.5" fill="#00ffd1"/><rect x="771.8" y="893.1" width="6.5" height="6.5" fill="#00ffcc"/><rect x="777.8" y="893.1" width="6.5" height="6.5" fill="#00ffc6"/><rect x="783.8" y="893.1" width="6.5" height="6.5" fill="#2dffc1"/><rect x="789.8" y="893.1" width="6.5" height="6.5" fill="#5effbf"/><rect x="795.8" y="893.1" width="6.5" height="6.5" fill="#7cffbd"/><rect x="801.8" y="893.1" width="6.5" height="6.5" fill="#94ffbc"/><rect x="807.8" y="893.1" width="6.5" height="6.5" fill="#a9ffba"/><rect x="813.8" y="893.1" width="6.5" height="6.5" fill="#bbffb7"/><rect x="819.8" y="893.1" width="6.5" height="6.5" fill="#cdffb5"/><rect x="825.8" y="893.1" width="6.5" height="6.5" fill="#ddffb2"/><rect x="831.8" y="893.1" width="6.5" height="6.5" fill="#edffb0"/><rect x="837.8" y="893.1" width="6.5" height="6.5" fill="#fcffad"/><rect x="843.8" y="893.1" width="6.5" height="6.5" fill="#fff3a2"/><rect x="849.8" y="893.1" width="6.5" height="6.5" fill="#ffe796"/><rect x="855.8" y="893.1" width="6.5" height="6.5" fill="#ffdb8b"/><rect x="861.8" y="893.1" width="6.5" height="6.5" fill="#ffd181"/><rect x="867.8" y="893.1" width="6.5" height="6.5" fill="#ffc777"/><rect x="873.8" y="893.1" width="6.5" height="6.5" fill="#ffbe6e"/><rect x="879.8" y="893.1" width="6.5" height="6.5" fill="#ffb665"/><rect x="885.8" y="893.1" width="6.5" height="6.5" fill="#ffaf5c"/><rect x="891.8" y="893.1" width="6.5" height="6.5" fill="#ffa753"/><rect x="897.8" y="893.1" width="6.5" height="6.5" fill="#ffa149"/><rect x="903.8" y="893.1" width="6.5" height="6.5" fill="#ff9a40"/><rect x="909.8" y="893.1" width="6.5" height="6.5" fill="#ff9435"/><rect x="915.8" y="893.1" width="6.5" height="6.5" fill="#ff8e29"/><rect x="921.8" y="893.1" width="6.5" height="6.5" fill="#ff8819"/><rect x="927.8" y="893.1" width="6.5" height="6.5" fill="#ff8300"/><rect x="933.8" y="893.1" width="6.5" height="6.5" fill="#ff8000"/><rect x="939.8" y="893.1" width="6.5" height="6.5" fill="#ff7d00"/><rect x="945.8" y="893.1" width="6.5" height="6.5" fill="#ff7a00"/><rect x="951.8" y="893.1" width="6.5" height="6.5" fill="#ff7800"/><rect x="957.8" y="893.1" width="6.5" height="6.5" fill="#ff7600"/><rect x="669.8" y="899.1" width="6.5" height="6.5" fill="#00fff0"/><rect x="675.8" y="899.1" width="6.5" height="6.5" fill="#00ffef"/><rect x="681.8" y="899.1" width="6.5" height="6.5" fill="#00ffef"/><rect x="687.8" y="899.1" width="6.5" height="6.5" fill="#00ffee"/><rect x="693.8" y="899.1" width="6.5" height="6.5" fill="#00ffed"/><rect x="699.8" y="899.1" width="6.5" height="6.5" fill="#00ffec"/><rect x="705.8" y="899.1" width="6.5" height="6.5" fill="#00ffec"/><rect x="711.8" y="899.1" width="6.5" height="6.5" fill="#00ffeb"/><rect x="717.8" y="899.1" width="6.5" height="6.5" fill="#00ffe9"/><rect x="723.8" y="899.1" width="6.5" height="6.5" fill="#00ffe8"/><rect x="729.8" y="899.1" width="6.5" height="6.5" fill="#00ffe7"/><rect x="735.8" y="899.1" width="6.5" height="6.5" fill="#00ffe5"/><rect x="741.8" y="899.1" width="6.5" height="6.5" fill="#00ffe3"/><rect x="747.8" y="899.1" width="6.5" height="6.5" fill="#00ffe1"/><rect x="753.8" y="899.1" width="6.5" height="6.5" fill="#00ffdf"/><rect x="759.8" y="899.1" width="6.5" height="6.5" fill="#00ffdc"/><rect x="765.8" y="899.1" width="6.5" height="6.5" fill="#00ffd9"/><rect x="771.8" y="899.1" width="6.5" height="6.5" fill="#00ffd4"/><rect x="777.8" y="899.1" width="6.5" height="6.5" fill="#00ffcf"/><rect x="783.8" y="899.1" width="6.5" height="6.5" fill="#46ffcc"/><rect x="789.8" y="899.1" width="6.5" height="6.5" fill="#6dffcb"/><rect x="795.8" y="899.1" width="6.5" height="6.5" fill="#89ffc9"/><rect x="801.8" y="899.1" width="6.5" height="6.5" fill="#a0ffc8"/><rect x="807.8" y="899.1" width="6.5" height="6.5" fill="#b4ffc6"/><rect x="813.8" y="899.1" width="6.5" height="6.5" fill="#c7ffc4"/><rect x="819.8" y="899.1" width="6.5" height="6.5" fill="#d9ffc2"/><rect x="825.8" y="899.1" width="6.5" height="6.5" fill="#e9ffc0"/><rect x="831.8" y="899.1" width="6.5" height="6.5" fill="#f9ffbe"/><rect x="837.8" y="899.1" width="6.5" height="6.5" fill="#fff5b4"/><rect x="843.8" y="899.1" width="6.5" height="6.5" fill="#ffe8a8"/><rect x="849.8" y="899.1" width="6.5" height="6.5" fill="#ffdc9c"/><rect x="855.8" y="899.1" width="6.5" height="6.5" fill="#ffd192"/><rect x="861.8" y="899.1" width="6.5" height="6.5" fill="#ffc788"/><rect x="867.8" y="899.1" width="6.5" height="6.5" fill="#ffbe7f"/><rect x="873.8" y="899.1" width="6.5" height="6.5" fill="#ffb576"/><rect x="879.8" y="899.1" width="6.5" height="6.5" fill="#ffad6d"/><rect x="885.8" y="899.1" width="6.5" height="6.5" fill="#ffa665"/><rect x="891.8" y="899.1" width="6.5" height="6.5" fill="#ff9f5d"/><rect x="897.8" y="899.1" width="6.5" height="6.5" fill="#ff9855"/><rect x="903.8" y="899.1" width="6.5" height="6.5" fill="#ff914c"/><rect x="909.8" y="899.1" width="6.5" height="6.5" fill="#ff8b43"/><rect x="915.8" y="899.1" width="6.5" height="6.5" fill="#ff853a"/><rect x="921.8" y="899.1" width="6.5" height="6.5" fill="#ff8030"/><rect x="927.8" y="899.1" width="6.5" height="6.5" fill="#ff7a24"/><rect x="933.8" y="899.1" width="6.5" height="6.5" fill="#ff7513"/><rect x="939.8" y="899.1" width="6.5" height="6.5" fill="#ff7100"/><rect x="945.8" y="899.1" width="6.5" height="6.5" fill="#ff6e00"/><rect x="951.8" y="899.1" width="6.5" height="6.5" fill="#ff6c00"/><rect x="957.8" y="899.1" width="6.5" height="6.5" fill="#ff6a00"/><rect x="963.8" y="899.1" width="6.5" height="6.5" fill="#ff6800"/><rect x="675.8" y="905.1" width="6.5" height="6.5" fill="#00fff3"/><rect x="681.8" y="905.1" width="6.5" height="6.5" fill="#00fff3"/><rect x="687.8" y="905.1" width="6.5" height="6.5" fill="#00fff2"/><rect x="693.8" y="905.1" width="6.5" height="6.5" fill="#00fff1"/><rect x="699.8" y="905.1" width="6.5" height="6.5" fill="#00fff1"/><rect x="705.8" y="905.1" width="6.5" height="6.5" fill="#00fff0"/><rect x="711.8" y="905.1" width="6.5" height="6.5" fill="#00ffef"/><rect x="717.8" y="905.1" width="6.5" height="6.5" fill="#00ffee"/><rect x="723.8" y="905.1" width="6.5" height="6.5" fill="#00ffed"/><rect x="729.8" y="905.1" width="6.5" height="6.5" fill="#00ffec"/><rect x="735.8" y="905.1" width="6.5" height="6.5" fill="#00ffeb"/><rect x="741.8" y="905.1" width="6.5" height="6.5" fill="#00ffea"/><rect x="747.8" y="905.1" width="6.5" height="6.5" fill="#00ffe8"/><rect x="753.8" y="905.1" width="6.5" height="6.5" fill="#00ffe6"/><rect x="759.8" y="905.1" width="6.5" height="6.5" fill="#00ffe4"/><rect x="765.8" y="905.1" width="6.5" height="6.5" fill="#00ffe1"/><rect x="771.8" y="905.1" width="6.5" height="6.5" fill="#00ffdd"/><rect x="777.8" y="905.1" width="6.5" height="6.5" fill="#14ffd9"/><rect x="783.8" y="905.1" width="6.5" height="6.5" fill="#5affd8"/><rect x="789.8" y="905.1" width="6.5" height="6.5" fill="#7cffd7"/><rect x="795.8" y="905.1" width="6.5" height="6.5" fill="#96ffd6"/><rect x="801.8" y="905.1" width="6.5" height="6.5" fill="#adffd5"/><rect x="807.8" y="905.1" width="6.5" height="6.5" fill="#c1ffd3"/><rect x="813.8" y="905.1" width="6.5" height="6.5" fill="#d4ffd2"/><rect x="819.8" y="905.1" width="6.5" height="6.5" fill="#e5ffd1"/><rect x="825.8" y="905.1" width="6.5" height="6.5" fill="#f6ffcf"/><rect x="831.8" y="905.1" width="6.5" height="6.5" fill="#fff7c7"/><rect x="837.8" y="905.1" width="6.5" height="6.5" fill="#ffe9b9"/><rect x="843.8" y="905.1" width="6.5" height="6.5" fill="#ffdcad"/><rect x="849.8" y="905.1" width="6.5" height="6.5" fill="#ffd0a2"/><rect x="855.8" y="905.1" width="6.5" height="6.5" fill="#ffc698"/><rect x="861.8" y="905.1" width="6.5" height="6.5" fill="#ffbc8f"/><rect x="867.8" y="905.1" width="6.5" height="6.5" fill="#ffb486"/><rect x="873.8" y="905.1" width="6.5" height="6.5" fill="#ffab7d"/><rect x="879.8" y="905.1" width="6.5" height="6.5" fill="#ffa475"/><rect x="885.8" y="905.1" width="6.5" height="6.5" fill="#ff9c6d"/><rect x="891.8" y="905.1" width="6.5" height="6.5" fill="#ff9565"/><rect x="897.8" y="905.1" width="6.5" height="6.5" fill="#ff8f5e"/><rect x="903.8" y="905.1" width="6.5" height="6.5" fill="#ff8856"/><rect x="909.8" y="905.1" width="6.5" height="6.5" fill="#ff824e"/><rect x="915.8" y="905.1" width="6.5" height="6.5" fill="#ff7c46"/><rect x="921.8" y="905.1" width="6.5" height="6.5" fill="#ff773e"/><rect x="927.8" y="905.1" width="6.5" height="6.5" fill="#ff7135"/><rect x="933.8" y="905.1" width="6.5" height="6.5" fill="#ff6c2b"/><rect x="939.8" y="905.1" width="6.5" height="6.5" fill="#ff661e"/><rect x="945.8" y="905.1" width="6.5" height="6.5" fill="#ff610b"/><rect x="951.8" y="905.1" width="6.5" height="6.5" fill="#ff5e00"/><rect x="957.8" y="905.1" width="6.5" height="6.5" fill="#ff5c00"/><rect x="963.8" y="905.1" width="6.5" height="6.5" fill="#ff5a00"/><rect x="969.8" y="905.1" width="6.5" height="6.5" fill="#ff5800"/><rect x="975.8" y="905.1" width="6.5" height="6.5" fill="#ff5600"/><rect x="675.8" y="911.1" width="6.5" height="6.5" fill="#00fff7"/><rect x="681.8" y="911.1" width="6.5" height="6.5" fill="#00fff7"/><rect x="687.8" y="911.1" width="6.5" height="6.5" fill="#00fff6"/><rect x="693.8" y="911.1" width="6.5" height="6.5" fill="#00fff6"/><rect x="699.8" y="911.1" width="6.5" height="6.5" fill="#00fff5"/><rect x="705.8" y="911.1" width="6.5" height="6.5" fill="#00fff5"/><rect x="711.8" y="911.1" width="6.5" height="6.5" fill="#00fff4"/><rect x="717.8" y="911.1" width="6.5" height="6.5" fill="#00fff4"/><rect x="723.8" y="911.1" width="6.5" height="6.5" fill="#00fff3"/><rect x="729.8" y="911.1" width="6.5" height="6.5" fill="#00fff2"/><rect x="735.8" y="911.1" width="6.5" height="6.5" fill="#00fff1"/><rect x="741.8" y="911.1" width="6.5" height="6.5" fill="#00fff0"/><rect x="747.8" y="911.1" width="6.5" height="6.5" fill="#00ffef"/><rect x="753.8" y="911.1" width="6.5" height="6.5" fill="#00ffee"/><rect x="759.8" y="911.1" width="6.5" height="6.5" fill="#00ffec"/><rect x="765.8" y="911.1" width="6.5" height="6.5" fill="#00ffea"/><rect x="771.8" y="911.1" width="6.5" height="6.5" fill="#00ffe8"/><rect x="777.8" y="911.1" width="6.5" height="6.5" fill="#3cffe6"/><rect x="783.8" y="911.1" width="6.5" height="6.5" fill="#6bffe5"/><rect x="789.8" y="911.1" width="6.5" height="6.5" fill="#8affe4"/><rect x="795.8" y="911.1" width="6.5" height="6.5" fill="#a3ffe3"/><rect x="801.8" y="911.1" width="6.5" height="6.5" fill="#b9ffe2"/><rect x="807.8" y="911.1" width="6.5" height="6.5" fill="#ceffe2"/><rect x="813.8" y="911.1" width="6.5" height="6.5" fill="#e1ffe1"/><rect x="819.8" y="911.1" width="6.5" height="6.5" fill="#f3ffe0"/><rect x="825.8" y="911.1" width="6.5" height="6.5" fill="#fffada"/><rect x="831.8" y="911.1" width="6.5" height="6.5" fill="#ffeacb"/><rect x="837.8" y="911.1" width="6.5" height="6.5" fill="#ffdcbe"/><rect x="843.8" y="911.1" width="6.5" height="6.5" fill="#ffd0b2"/><rect x="849.8" y="911.1" width="6.5" height="6.5" fill="#ffc5a7"/><rect x="855.8" y="911.1" width="6.5" height="6.5" fill="#ffbb9e"/><rect x="861.8" y="911.1" width="6.5" height="6.5" fill="#ffb294"/><rect x="867.8" y="911.1" width="6.5" height="6.5" fill="#ffa98c"/><rect x="873.8" y="911.1" width="6.5" height="6.5" fill="#ffa184"/><rect x="879.8" y="911.1" width="6.5" height="6.5" fill="#ff9a7c"/><rect x="885.8" y="911.1" width="6.5" height="6.5" fill="#ff9374"/><rect x="891.8" y="911.1" width="6.5" height="6.5" fill="#ff8c6d"/><rect x="897.8" y="911.1" width="6.5" height="6.5" fill="#ff8566"/><rect x="903.8" y="911.1" width="6.5" height="6.5" fill="#ff7f5f"/><rect x="909.8" y="911.1" width="6.5" height="6.5" fill="#ff7957"/><rect x="915.8" y="911.1" width="6.5" height="6.5" fill="#ff7350"/><rect x="921.8" y="911.1" width="6.5" height="6.5" fill="#ff6d49"/><rect x="927.8" y="911.1" width="6.5" height="6.5" fill="#ff6741"/><rect x="933.8" y="911.1" width="6.5" height="6.5" fill="#ff6239"/><rect x="939.8" y="911.1" width="6.5" height="6.5" fill="#ff5c30"/><rect x="945.8" y="911.1" width="6.5" height="6.5" fill="#ff5626"/><rect x="951.8" y="911.1" width="6.5" height="6.5" fill="#ff5019"/><rect x="957.8" y="911.1" width="6.5" height="6.5" fill="#ff4b02"/><rect x="963.8" y="911.1" width="6.5" height="6.5" fill="#ff4900"/><rect x="969.8" y="911.1" width="6.5" height="6.5" fill="#ff4700"/><rect x="975.8" y="911.1" width="6.5" height="6.5" fill="#ff4600"/><rect x="981.8" y="911.1" width="6.5" height="6.5" fill="#ff4500"/><rect x="675.8" y="917.1" width="6.5" height="6.5" fill="#00fffb"/><rect x="681.8" y="917.1" width="6.5" height="6.5" fill="#00fffb"/><rect x="687.8" y="917.1" width="6.5" height="6.5" fill="#00fffb"/><rect x="693.8" y="917.1" width="6.5" height="6.5" fill="#00fffa"/><rect x="699.8" y="917.1" width="6.5" height="6.5" fill="#00fffa"/><rect x="705.8" y="917.1" width="6.5" height="6.5" fill="#00fffa"/><rect x="711.8" y="917.1" width="6.5" height="6.5" fill="#00fffa"/><rect x="717.8" y="917.1" width="6.5" height="6.5" fill="#00fff9"/><rect x="723.8" y="917.1" width="6.5" height="6.5" fill="#00fff9"/><rect x="729.8" y="917.1" width="6.5" height="6.5" fill="#00fff9"/><rect x="735.8" y="917.1" width="6.5" height="6.5" fill="#00fff8"/><rect x="741.8" y="917.1" width="6.5" height="6.5" fill="#00fff8"/><rect x="747.8" y="917.1" width="6.5" height="6.5" fill="#00fff7"/><rect x="753.8" y="917.1" width="6.5" height="6.5" fill="#00fff6"/><rect x="759.8" y="917.1" width="6.5" height="6.5" fill="#00fff6"/><rect x="765.8" y="917.1" width="6.5" height="6.5" fill="#00fff4"/><rect x="771.8" y="917.1" width="6.5" height="6.5" fill="#00fff3"/><rect x="777.8" y="917.1" width="6.5" height="6.5" fill="#54fff3"/><rect x="783.8" y="917.1" width="6.5" height="6.5" fill="#7bfff2"/><rect x="789.8" y="917.1" width="6.5" height="6.5" fill="#98fff2"/><rect x="795.8" y="917.1" width="6.5" height="6.5" fill="#b1fff1"/><rect x="801.8" y="917.1" width="6.5" height="6.5" fill="#c7fff1"/><rect x="807.8" y="917.1" width="6.5" height="6.5" fill="#dcfff1"/><rect x="813.8" y="917.1" width="6.5" height="6.5" fill="#effff0"/><rect x="819.8" y="917.1" width="6.5" height="6.5" fill="#fffced"/><rect x="825.8" y="917.1" width="6.5" height="6.5" fill="#ffecdd"/><rect x="831.8" y="917.1" width="6.5" height="6.5" fill="#ffddcf"/><rect x="837.8" y="917.1" width="6.5" height="6.5" fill="#ffd0c2"/><rect x="843.8" y="917.1" width="6.5" height="6.5" fill="#ffc4b6"/><rect x="849.8" y="917.1" width="6.5" height="6.5" fill="#ffbaac"/><rect x="855.8" y="917.1" width="6.5" height="6.5" fill="#ffb0a3"/><rect x="861.8" y="917.1" width="6.5" height="6.5" fill="#ffa79a"/><rect x="867.8" y="917.1" width="6.5" height="6.5" fill="#ff9f91"/><rect x="873.8" y="917.1" width="6.5" height="6.5" fill="#ff9789"/><rect x="879.8" y="917.1" width="6.5" height="6.5" fill="#ff9082"/><rect x="885.8" y="917.1" width="6.5" height="6.5" fill="#ff897b"/><rect x="891.8" y="917.1" width="6.5" height="6.5" fill="#ff8273"/><rect x="897.8" y="917.1" width="6.5" height="6.5" fill="#ff7b6d"/><rect x="903.8" y="917.1" width="6.5" height="6.5" fill="#ff7566"/><rect x="909.8" y="917.1" width="6.5" height="6.5" fill="#ff6f5f"/><rect x="915.8" y="917.1" width="6.5" height="6.5" fill="#ff6859"/><rect x="921.8" y="917.1" width="6.5" height="6.5" fill="#ff6252"/><rect x="927.8" y="917.1" width="6.5" height="6.5" fill="#ff5c4b"/><rect x="933.8" y="917.1" width="6.5" height="6.5" fill="#ff5644"/><rect x="939.8" y="917.1" width="6.5" height="6.5" fill="#ff503d"/><rect x="945.8" y="917.1" width="6.5" height="6.5" fill="#ff4a35"/><rect x="951.8" y="917.1" width="6.5" height="6.5" fill="#ff442c"/><rect x="957.8" y="917.1" width="6.5" height="6.5" fill="#ff3d22"/><rect x="963.8" y="917.1" width="6.5" height="6.5" fill="#ff3614"/><rect x="969.8" y="917.1" width="6.5" height="6.5" fill="#ff2f00"/><rect x="975.8" y="917.1" width="6.5" height="6.5" fill="#ff2e00"/><rect x="981.8" y="917.1" width="6.5" height="6.5" fill="#ff2d00"/><rect x="987.8" y="917.1" width="6.5" height="6.5" fill="#ff2c00"/><rect x="675.8" y="923.1" width="6.5" height="6.5" fill="#00ffff"/><rect x="681.8" y="923.1" width="6.5" height="6.5" fill="#00ffff"/><rect x="687.8" y="923.1" width="6.5" height="6.5" fill="#00ffff"/><rect x="693.8" y="923.1" width="6.5" height="6.5" fill="#00ffff"/><rect x="699.8" y="923.1" width="6.5" height="6.5" fill="#00ffff"/><rect x="705.8" y="923.1" width="6.5" height="6.5" fill="#00ffff"/><rect x="711.8" y="923.1" width="6.5" height="6.5" fill="#00ffff"/><rect x="717.8" y="923.1" width="6.5" height="6.5" fill="#00ffff"/><rect x="723.8" y="923.1" width="6.5" height="6.5" fill="#00feff"/><rect x="729.8" y="923.1" width="6.5" height="6.5" fill="#00feff"/><rect x="735.8" y="923.1" width="6.5" height="6.5" fill="#00feff"/><rect x="741.8" y="923.1" width="6.5" height="6.5" fill="#00feff"/><rect x="747.8" y="923.1" width="6.5" height="6.5" fill="#00feff"/><rect x="753.8" y="923.1" width="6.5" height="6.5" fill="#00feff"/><rect x="759.8" y="923.1" width="6.5" height="6.5" fill="#00feff"/><rect x="765.8" y="923.1" width="6.5" height="6.5" fill="#00feff"/><rect x="771.8" y="923.1" width="6.5" height="6.5" fill="#2bfeff"/><rect x="777.8" y="923.1" width="6.5" height="6.5" fill="#67feff"/><rect x="783.8" y="923.1" width="6.5" height="6.5" fill="#8afdff"/><rect x="789.8" y="923.1" width="6.5" height="6.5" fill="#a6fdff"/><rect x="795.8" y="923.1" width="6.5" height="6.5" fill="#befdff"/><rect x="801.8" y="923.1" width="6.5" height="6.5" fill="#d4fdff"/><rect x="807.8" y="923.1" width="6.5" height="6.5" fill="#e9fdff"/><rect x="813.8" y="923.1" width="6.5" height="6.5" fill="#fdfdff"/><rect x="819.8" y="923.1" width="6.5" height="6.5" fill="#ffedef"/><rect x="825.8" y="923.1" width="6.5" height="6.5" fill="#ffdedf"/><rect x="831.8" y="923.1" width="6.5" height="6.5" fill="#ffd0d2"/><rect x="837.8" y="923.1" width="6.5" height="6.5" fill="#ffc4c6"/><rect x="843.8" y="923.1" width="6.5" height="6.5" fill="#ffb9ba"/><rect x="849.8" y="923.1" width="6.5" height="6.5" fill="#ffaeb0"/><rect x="855.8" y="923.1" width="6.5" height="6.5" fill="#ffa5a7"/><rect x="861.8" y="923.1" width="6.5" height="6.5" fill="#ff9c9e"/><rect x="867.8" y="923.1" width="6.5" height="6.5" fill="#ff9496"/><rect x="873.8" y="923.1" width="6.5" height="6.5" fill="#ff8c8f"/><rect x="879.8" y="923.1" width="6.5" height="6.5" fill="#ff8587"/><rect x="885.8" y="923.1" width="6.5" height="6.5" fill="#ff7e80"/><rect x="891.8" y="923.1" width="6.5" height="6.5" fill="#ff7779"/><rect x="897.8" y="923.1" width="6.5" height="6.5" fill="#ff7073"/><rect x="903.8" y="923.1" width="6.5" height="6.5" fill="#ff6a6c"/><rect x="909.8" y="923.1" width="6.5" height="6.5" fill="#ff6366"/><rect x="915.8" y="923.1" width="6.5" height="6.5" fill="#ff5d60"/><rect x="921.8" y="923.1" width="6.5" height="6.5" fill="#ff575a"/><rect x="927.8" y="923.1" width="6.5" height="6.5" fill="#ff5053"/><rect x="933.8" y="923.1" width="6.5" height="6.5" fill="#ff4a4d"/><rect x="939.8" y="923.1" width="6.5" height="6.5" fill="#ff4347"/><rect x="945.8" y="923.1" width="6.5" height="6.5" fill="#ff3c40"/><rect x="951.8" y="923.1" width="6.5" height="6.5" fill="#ff3439"/><rect x="957.8" y="923.1" width="6.5" height="6.5" fill="#ff2b31"/><rect x="963.8" y="923.1" width="6.5" height="6.5" fill="#ff2128"/><rect x="969.8" y="923.1" width="6.5" height="6.5" fill="#ff131d"/><rect x="975.8" y="923.1" width="6.5" height="6.5" fill="#ff0011"/><rect x="981.8" y="923.1" width="6.5" height="6.5" fill="#ff0011"/><rect x="987.8" y="923.1" width="6.5" height="6.5" fill="#ff0011"/><rect x="993.8" y="923.1" width="6.5" height="6.5" fill="#ff0010"/><rect x="999.8" y="923.1" width="6.5" height="6.5" fill="#ff0010"/><rect x="681.8" y="929.1" width="6.5" height="6.5" fill="#00faff"/><rect x="687.8" y="929.1" width="6.5" height="6.5" fill="#00faff"/><rect x="693.8" y="929.1" width="6.5" height="6.5" fill="#00faff"/><rect x="699.8" y="929.1" width="6.5" height="6.5" fill="#00f9ff"/><rect x="705.8" y="929.1" width="6.5" height="6.5" fill="#00f9ff"/><rect x="711.8" y="929.1" width="6.5" height="6.5" fill="#00f9ff"/><rect x="717.8" y="929.1" width="6.5" height="6.5" fill="#00f8ff"/><rect x="723.8" y="929.1" width="6.5" height="6.5" fill="#00f8ff"/><rect x="729.8" y="929.1" width="6.5" height="6.5" fill="#00f7ff"/><rect x="735.8" y="929.1" width="6.5" height="6.5" fill="#00f7ff"/><rect x="741.8" y="929.1" width="6.5" height="6.5" fill="#00f6ff"/><rect x="747.8" y="929.1" width="6.5" height="6.5" fill="#00f5ff"/><rect x="753.8" y="929.1" width="6.5" height="6.5" fill="#00f4ff"/><rect x="759.8" y="929.1" width="6.5" height="6.5" fill="#00f3ff"/><rect x="765.8" y="929.1" width="6.5" height="6.5" fill="#00f1ff"/><rect x="771.8" y="929.1" width="6.5" height="6.5" fill="#47f0ff"/><rect x="777.8" y="929.1" width="6.5" height="6.5" fill="#73efff"/><rect x="783.8" y="929.1" width="6.5" height="6.5" fill="#91efff"/><rect x="789.8" y="929.1" width="6.5" height="6.5" fill="#abeeff"/><rect x="795.8" y="929.1" width="6.5" height="6.5" fill="#c1eeff"/><rect x="801.8" y="929.1" width="6.5" height="6.5" fill="#d6edff"/><rect x="807.8" y="929.1" width="6.5" height="6.5" fill="#e9edff"/><rect x="813.8" y="929.1" width="6.5" height="6.5" fill="#fcecff"/><rect x="819.8" y="929.1" width="6.5" height="6.5" fill="#ffdef1"/><rect x="825.8" y="929.1" width="6.5" height="6.5" fill="#ffd0e2"/><rect x="831.8" y="929.1" width="6.5" height="6.5" fill="#ffc3d5"/><rect x="837.8" y="929.1" width="6.5" height="6.5" fill="#ffb7c9"/><rect x="843.8" y="929.1" width="6.5" height="6.5" fill="#ffacbe"/><rect x="849.8" y="929.1" width="6.5" height="6.5" fill="#ffa3b4"/><rect x="855.8" y="929.1" width="6.5" height="6.5" fill="#ff99ab"/><rect x="861.8" y="929.1" width="6.5" height="6.5" fill="#ff91a3"/><rect x="867.8" y="929.1" width="6.5" height="6.5" fill="#ff899b"/><rect x="873.8" y="929.1" width="6.5" height="6.5" fill="#ff8193"/><rect x="879.8" y="929.1" width="6.5" height="6.5" fill="#ff7a8c"/><rect x="885.8" y="929.1" width="6.5" height="6.5" fill="#ff7285"/><rect x="891.8" y="929.1" width="6.5" height="6.5" fill="#ff6b7f"/><rect x="897.8" y="929.1" width="6.5" height="6.5" fill="#ff6578"/><rect x="903.8" y="929.1" width="6.5" height="6.5" fill="#ff5e72"/><rect x="909.8" y="929.1" width="6.5" height="6.5" fill="#ff576c"/><rect x="915.8" y="929.1" width="6.5" height="6.5" fill="#ff5066"/><rect x="921.8" y="929.1" width="6.5" height="6.5" fill="#ff4960"/><rect x="927.8" y="929.1" width="6.5" height="6.5" fill="#ff425b"/><rect x="933.8" y="929.1" width="6.5" height="6.5" fill="#ff3a55"/><rect x="939.8" y="929.1" width="6.5" height="6.5" fill="#ff324f"/><rect x="945.8" y="929.1" width="6.5" height="6.5" fill="#ff2849"/><rect x="951.8" y="929.1" width="6.5" height="6.5" fill="#ff1c42"/><rect x="957.8" y="929.1" width="6.5" height="6.5" fill="#ff093c"/><rect x="963.8" y="929.1" width="6.5" height="6.5" fill="#ff0039"/><rect x="969.8" y="929.1" width="6.5" height="6.5" fill="#ff0038"/><rect x="975.8" y="929.1" width="6.5" height="6.5" fill="#ff0037"/><rect x="981.8" y="929.1" width="6.5" height="6.5" fill="#ff0036"/><rect x="987.8" y="929.1" width="6.5" height="6.5" fill="#ff0035"/><rect x="993.8" y="929.1" width="6.5" height="6.5" fill="#ff0034"/><rect x="999.8" y="929.1" width="6.5" height="6.5" fill="#ff0033"/><rect x="1005.8" y="929.1" width="6.5" height="6.5" fill="#ff0032"/><rect x="681.8" y="935.1" width="6.5" height="6.5" fill="#00f5ff"/><rect x="687.8" y="935.1" width="6.5" height="6.5" fill="#00f5ff"/><rect x="693.8" y="935.1" width="6.5" height="6.5" fill="#00f4ff"/><rect x="699.8" y="935.1" width="6.5" height="6.5" fill="#00f4ff"/><rect x="705.8" y="935.1" width="6.5" height="6.5" fill="#00f3ff"/><rect x="711.8" y="935.1" width="6.5" height="6.5" fill="#00f2ff"/><rect x="717.8" y="935.1" width="6.5" height="6.5" fill="#00f2ff"/><rect x="723.8" y="935.1" width="6.5" height="6.5" fill="#00f1ff"/><rect x="729.8" y="935.1" width="6.5" height="6.5" fill="#00f0ff"/><rect x="735.8" y="935.1" width="6.5" height="6.5" fill="#00eeff"/><rect x="741.8" y="935.1" width="6.5" height="6.5" fill="#00edff"/><rect x="747.8" y="935.1" width="6.5" height="6.5" fill="#00ebff"/><rect x="753.8" y="935.1" width="6.5" height="6.5" fill="#00e9ff"/><rect x="759.8" y="935.1" width="6.5" height="6.5" fill="#00e7ff"/><rect x="765.8" y="935.1" width="6.5" height="6.5" fill="#00e3ff"/><rect x="771.8" y="935.1" width="6.5" height="6.5" fill="#58e3ff"/><rect x="777.8" y="935.1" width="6.5" height="6.5" fill="#7ce2ff"/><rect x="783.8" y="935.1" width="6.5" height="6.5" fill="#97e1ff"/><rect x="789.8" y="935.1" width="6.5" height="6.5" fill="#aee0ff"/><rect x="795.8" y="935.1" width="6.5" height="6.5" fill="#c3dfff"/><rect x="801.8" y="935.1" width="6.5" height="6.5" fill="#d7deff"/><rect x="807.8" y="935.1" width="6.5" height="6.5" fill="#e9dcff"/><rect x="813.8" y="935.1" width="6.5" height="6.5" fill="#fbdbff"/><rect x="819.8" y="935.1" width="6.5" height="6.5" fill="#ffcff3"/><rect x="825.8" y="935.1" width="6.5" height="6.5" fill="#ffc1e4"/><rect x="831.8" y="935.1" width="6.5" height="6.5" fill="#ffb5d7"/><rect x="837.8" y="935.1" width="6.5" height="6.5" fill="#ffaacc"/><rect x="843.8" y="935.1" width="6.5" height="6.5" fill="#ffa0c2"/><rect x="849.8" y="935.1" width="6.5" height="6.5" fill="#ff96b8"/><rect x="855.8" y="935.1" width="6.5" height="6.5" fill="#ff8daf"/><rect x="861.8" y="935.1" width="6.5" height="6.5" fill="#ff85a7"/><rect x="867.8" y="935.1" width="6.5" height="6.5" fill="#ff7d9f"/><rect x="873.8" y="935.1" width="6.5" height="6.5" fill="#ff7598"/><rect x="879.8" y="935.1" width="6.5" height="6.5" fill="#ff6d91"/><rect x="885.8" y="935.1" width="6.5" height="6.5" fill="#ff668a"/><rect x="891.8" y="935.1" width="6.5" height="6.5" fill="#ff5f84"/><rect x="897.8" y="935.1" width="6.5" height="6.5" fill="#ff577e"/><rect x="903.8" y="935.1" width="6.5" height="6.5" fill="#ff5078"/><rect x="909.8" y="935.1" width="6.5" height="6.5" fill="#ff4872"/><rect x="915.8" y="935.1" width="6.5" height="6.5" fill="#ff416c"/><rect x="921.8" y="935.1" width="6.5" height="6.5" fill="#ff3866"/><rect x="927.8" y="935.1" width="6.5" height="6.5" fill="#ff2f61"/><rect x="933.8" y="935.1" width="6.5" height="6.5" fill="#ff245b"/><rect x="939.8" y="935.1" width="6.5" height="6.5" fill="#ff1556"/><rect x="945.8" y="935.1" width="6.5" height="6.5" fill="#ff0051"/><rect x="951.8" y="935.1" width="6.5" height="6.5" fill="#ff004f"/><rect x="957.8" y="935.1" width="6.5" height="6.5" fill="#ff004e"/><rect x="963.8" y="935.1" width="6.5" height="6.5" fill="#ff004c"/><rect x="969.8" y="935.1" width="6.5" height="6.5" fill="#ff004b"/><rect x="975.8" y="935.1" width="6.5" height="6.5" fill="#ff004a"/><rect x="981.8" y="935.1" width="6.5" height="6.5" fill="#ff0049"/><rect x="987.8" y="935.1" width="6.5" height="6.5" fill="#ff0047"/><rect x="993.8" y="935.1" width="6.5" height="6.5" fill="#ff0046"/><rect x="999.8" y="935.1" width="6.5" height="6.5" fill="#ff0045"/><rect x="1005.8" y="935.1" width="6.5" height="6.5" fill="#ff0044"/><rect x="1011.8" y="935.1" width="6.5" height="6.5" fill="#ff0043"/><rect x="1017.8" y="935.1" width="6.5" height="6.5" fill="#ff0042"/><rect x="681.8" y="941.1" width="6.5" height="6.5" fill="#00f1ff"/><rect x="687.8" y="941.1" width="6.5" height="6.5" fill="#00f0ff"/><rect x="693.8" y="941.1" width="6.5" height="6.5" fill="#00efff"/><rect x="699.8" y="941.1" width="6.5" height="6.5" fill="#00eeff"/><rect x="705.8" y="941.1" width="6.5" height="6.5" fill="#00edff"/><rect x="711.8" y="941.1" width="6.5" height="6.5" fill="#00ecff"/><rect x="717.8" y="941.1" width="6.5" height="6.5" fill="#00ebff"/><rect x="723.8" y="941.1" width="6.5" height="6.5" fill="#00eaff"/><rect x="729.8" y="941.1" width="6.5" height="6.5" fill="#00e8ff"/><rect x="735.8" y="941.1" width="6.5" height="6.5" fill="#00e6ff"/><rect x="741.8" y="941.1" width="6.5" height="6.5" fill="#00e4ff"/><rect x="747.8" y="941.1" width="6.5" height="6.5" fill="#00e1ff"/><rect x="753.8" y="941.1" width="6.5" height="6.5" fill="#00deff"/><rect x="759.8" y="941.1" width="6.5" height="6.5" fill="#00daff"/><rect x="765.8" y="941.1" width="6.5" height="6.5" fill="#34d7ff"/><rect x="771.8" y="941.1" width="6.5" height="6.5" fill="#65d5ff"/><rect x="777.8" y="941.1" width="6.5" height="6.5" fill="#84d4ff"/><rect x="783.8" y="941.1" width="6.5" height="6.5" fill="#9cd3ff"/><rect x="789.8" y="941.1" width="6.5" height="6.5" fill="#b2d1ff"/><rect x="795.8" y="941.1" width="6.5" height="6.5" fill="#c5d0ff"/><rect x="801.8" y="941.1" width="6.5" height="6.5" fill="#d8ceff"/><rect x="807.8" y="941.1" width="6.5" height="6.5" fill="#e9cdff"/><rect x="813.8" y="941.1" width="6.5" height="6.5" fill="#facbff"/><rect x="819.8" y="941.1" width="6.5" height="6.5" fill="#ffc0f4"/><rect x="825.8" y="941.1" width="6.5" height="6.5" fill="#ffb3e6"/><rect x="831.8" y="941.1" width="6.5" height="6.5" fill="#ffa7da"/><rect x="837.8" y="941.1" width="6.5" height="6.5" fill="#ff9ccf"/><rect x="843.8" y="941.1" width="6.5" height="6.5" fill="#ff92c5"/><rect x="849.8" y="941.1" width="6.5" height="6.5" fill="#ff89bb"/><rect x="855.8" y="941.1" width="6.5" height="6.5" fill="#ff80b3"/><rect x="861.8" y="941.1" width="6.5" height="6.5" fill="#ff78ab"/><rect x="867.8" y="941.1" width="6.5" height="6.5" fill="#ff6fa3"/><rect x="873.8" y="941.1" width="6.5" height="6.5" fill="#ff679c"/><rect x="879.8" y="941.1" width="6.5" height="6.5" fill="#ff6095"/><rect x="885.8" y="941.1" width="6.5" height="6.5" fill="#ff588f"/><rect x="891.8" y="941.1" width="6.5" height="6.5" fill="#ff5088"/><rect x="897.8" y="941.1" width="6.5" height="6.5" fill="#ff4882"/><rect x="903.8" y="941.1" width="6.5" height="6.5" fill="#ff3f7d"/><rect x="909.8" y="941.1" width="6.5" height="6.5" fill="#ff3677"/><rect x="915.8" y="941.1" width="6.5" height="6.5" fill="#ff2b71"/><rect x="921.8" y="941.1" width="6.5" height="6.5" fill="#ff1f6c"/><rect x="927.8" y="941.1" width="6.5" height="6.5" fill="#ff0a67"/><rect x="933.8" y="941.1" width="6.5" height="6.5" fill="#ff0064"/><rect x="939.8" y="941.1" width="6.5" height="6.5" fill="#ff0062"/><rect x="945.8" y="941.1" width="6.5" height="6.5" fill="#ff0060"/><rect x="951.8" y="941.1" width="6.5" height="6.5" fill="#ff005e"/><rect x="957.8" y="941.1" width="6.5" height="6.5" fill="#ff005c"/><rect x="963.8" y="941.1" width="6.5" height="6.5" fill="#ff005b"/><rect x="969.8" y="941.1" width="6.5" height="6.5" fill="#ff0059"/><rect x="975.8" y="941.1" width="6.5" height="6.5" fill="#ff0058"/><rect x="981.8" y="941.1" width="6.5" height="6.5" fill="#ff0056"/><rect x="987.8" y="941.1" width="6.5" height="6.5" fill="#ff0055"/><rect x="993.8" y="941.1" width="6.5" height="6.5" fill="#ff0054"/><rect x="999.8" y="941.1" width="6.5" height="6.5" fill="#ff0052"/><rect x="1005.8" y="941.1" width="6.5" height="6.5" fill="#ff0051"/><rect x="1011.8" y="941.1" width="6.5" height="6.5" fill="#ff0050"/><rect x="1017.8" y="941.1" width="6.5" height="6.5" fill="#ff004f"/><rect x="1023.8" y="941.1" width="6.5" height="6.5" fill="#ff004e"/><rect x="687.8" y="947.1" width="6.5" height="6.5" fill="#00ebff"/><rect x="693.8" y="947.1" width="6.5" height="6.5" fill="#00eaff"/><rect x="699.8" y="947.1" width="6.5" height="6.5" fill="#00e8ff"/><rect x="705.8" y="947.1" width="6.5" height="6.5" fill="#00e7ff"/><rect x="711.8" y="947.1" width="6.5" height="6.5" fill="#00e6ff"/><rect x="717.8" y="947.1" width="6.5" height="6.5" fill="#00e4ff"/><rect x="723.8" y="947.1" width="6.5" height="6.5" fill="#00e2ff"/><rect x="729.8" y="947.1" width="6.5" height="6.5" fill="#00e0ff"/><rect x="735.8" y="947.1" width="6.5" height="6.5" fill="#00ddff"/><rect x="741.8" y="947.1" width="6.5" height="6.5" fill="#00daff"/><rect x="747.8" y="947.1" width="6.5" height="6.5" fill="#00d7ff"/><rect x="753.8" y="947.1" width="6.5" height="6.5" fill="#00d2ff"/><rect x="759.8" y="947.1" width="6.5" height="6.5" fill="#00ccff"/><rect x="765.8" y="947.1" width="6.5" height="6.5" fill="#49caff"/><rect x="771.8" y="947.1" width="6.5" height="6.5" fill="#6fc8ff"/><rect x="777.8" y="947.1" width="6.5" height="6.5" fill="#8ac7ff"/><rect x="783.8" y="947.1" width="6.5" height="6.5" fill="#a1c5ff"/><rect x="789.8" y="947.1" width="6.5" height="6.5" fill="#b5c3ff"/><rect x="795.8" y="947.1" width="6.5" height="6.5" fill="#c7c1ff"/><rect x="801.8" y="947.1" width="6.5" height="6.5" fill="#d9bfff"/><rect x="807.8" y="947.1" width="6.5" height="6.5" fill="#e9bdff"/><rect x="813.8" y="947.1" width="6.5" height="6.5" fill="#f9baff"/><rect x="819.8" y="947.1" width="6.5" height="6.5" fill="#ffb1f6"/><rect x="825.8" y="947.1" width="6.5" height="6.5" fill="#ffa4e8"/><rect x="831.8" y="947.1" width="6.5" height="6.5" fill="#ff99dc"/><rect x="837.8" y="947.1" width="6.5" height="6.5" fill="#ff8ed1"/><rect x="843.8" y="947.1" width="6.5" height="6.5" fill="#ff84c7"/><rect x="849.8" y="947.1" width="6.5" height="6.5" fill="#ff7bbe"/><rect x="855.8" y="947.1" width="6.5" height="6.5" fill="#ff72b6"/><rect x="861.8" y="947.1" width="6.5" height="6.5" fill="#ff69ae"/><rect x="867.8" y="947.1" width="6.5" height="6.5" fill="#ff61a7"/><rect x="873.8" y="947.1" width="6.5" height="6.5" fill="#ff58a0"/><rect x="879.8" y="947.1" width="6.5" height="6.5" fill="#ff5099"/><rect x="885.8" y="947.1" width="6.5" height="6.5" fill="#ff4793"/><rect x="891.8" y="947.1" width="6.5" height="6.5" fill="#ff3d8d"/><rect x="897.8" y="947.1" width="6.5" height="6.5" fill="#ff3387"/><rect x="903.8" y="947.1" width="6.5" height="6.5" fill="#ff2781"/><rect x="909.8" y="947.1" width="6.5" height="6.5" fill="#ff187c"/><rect x="915.8" y="947.1" width="6.5" height="6.5" fill="#ff0077"/><rect x="921.8" y="947.1" width="6.5" height="6.5" fill="#ff0074"/><rect x="927.8" y="947.1" width="6.5" height="6.5" fill="#ff0072"/><rect x="933.8" y="947.1" width="6.5" height="6.5" fill="#ff006f"/><rect x="939.8" y="947.1" width="6.5" height="6.5" fill="#ff006d"/><rect x="945.8" y="947.1" width="6.5" height="6.5" fill="#ff006b"/><rect x="951.8" y="947.1" width="6.5" height="6.5" fill="#ff0069"/><rect x="957.8" y="947.1" width="6.5" height="6.5" fill="#ff0067"/><rect x="963.8" y="947.1" width="6.5" height="6.5" fill="#ff0066"/><rect x="969.8" y="947.1" width="6.5" height="6.5" fill="#ff0064"/><rect x="975.8" y="947.1" width="6.5" height="6.5" fill="#ff0063"/><rect x="981.8" y="947.1" width="6.5" height="6.5" fill="#ff0061"/><rect x="987.8" y="947.1" width="6.5" height="6.5" fill="#ff0060"/><rect x="993.8" y="947.1" width="6.5" height="6.5" fill="#ff005e"/><rect x="999.8" y="947.1" width="6.5" height="6.5" fill="#ff005d"/><rect x="1005.8" y="947.1" width="6.5" height="6.5" fill="#ff005c"/><rect x="1011.8" y="947.1" width="6.5" height="6.5" fill="#ff005b"/><rect x="1017.8" y="947.1" width="6.5" height="6.5" fill="#ff0059"/><rect x="1023.8" y="947.1" width="6.5" height="6.5" fill="#ff0058"/><rect x="687.8" y="953.1" width="6.5" height="6.5" fill="#00e5ff"/><rect x="693.8" y="953.1" width="6.5" height="6.5" fill="#00e4ff"/><rect x="699.8" y="953.1" width="6.5" height="6.5" fill="#00e3ff"/><rect x="705.8" y="953.1" width="6.5" height="6.5" fill="#00e1ff"/><rect x="711.8" y="953.1" width="6.5" height="6.5" fill="#00dfff"/><rect x="717.8" y="953.1" width="6.5" height="6.5" fill="#00ddff"/><rect x="723.8" y="953.1" width="6.5" height="6.5" fill="#00daff"/><rect x="729.8" y="953.1" width="6.5" height="6.5" fill="#00d7ff"/><rect x="735.8" y="953.1" width="6.5" height="6.5" fill="#00d4ff"/><rect x="741.8" y="953.1" width="6.5" height="6.5" fill="#00d0ff"/><rect x="747.8" y="953.1" width="6.5" height="6.5" fill="#00cbff"/><rect x="753.8" y="953.1" width="6.5" height="6.5" fill="#00c5ff"/><rect x="759.8" y="953.1" width="6.5" height="6.5" fill="#1cbfff"/><rect x="765.8" y="953.1" width="6.5" height="6.5" fill="#58bdff"/><rect x="771.8" y="953.1" width="6.5" height="6.5" fill="#77bbff"/><rect x="777.8" y="953.1" width="6.5" height="6.5" fill="#90b9ff"/><rect x="783.8" y="953.1" width="6.5" height="6.5" fill="#a5b7ff"/><rect x="789.8" y="953.1" width="6.5" height="6.5" fill="#b8b4ff"/><rect x="795.8" y="953.1" width="6.5" height="6.5" fill="#c9b2ff"/><rect x="801.8" y="953.1" width="6.5" height="6.5" fill="#daafff"/><rect x="807.8" y="953.1" width="6.5" height="6.5" fill="#e9acff"/><rect x="813.8" y="953.1" width="6.5" height="6.5" fill="#f8a9ff"/><rect x="819.8" y="953.1" width="6.5" height="6.5" fill="#ffa1f7"/><rect x="825.8" y="953.1" width="6.5" height="6.5" fill="#ff95ea"/><rect x="831.8" y="953.1" width="6.5" height="6.5" fill="#ff89de"/><rect x="837.8" y="953.1" width="6.5" height="6.5" fill="#ff7fd4"/><rect x="843.8" y="953.1" width="6.5" height="6.5" fill="#ff75ca"/><rect x="849.8" y="953.1" width="6.5" height="6.5" fill="#ff6bc1"/><rect x="855.8" y="953.1" width="6.5" height="6.5" fill="#ff62b9"/><rect x="861.8" y="953.1" width="6.5" height="6.5" fill="#ff59b1"/><rect x="867.8" y="953.1" width="6.5" height="6.5" fill="#ff4faa"/><rect x="873.8" y="953.1" width="6.5" height="6.5" fill="#ff46a3"/><rect x="879.8" y="953.1" width="6.5" height="6.5" fill="#ff3b9d"/><rect x="885.8" y="953.1" width="6.5" height="6.5" fill="#ff3096"/><rect x="891.8" y="953.1" width="6.5" height="6.5" fill="#ff2291"/><rect x="897.8" y="953.1" width="6.5" height="6.5" fill="#ff0c8b"/><rect x="903.8" y="953.1" width="6.5" height="6.5" fill="#ff0087"/><rect x="909.8" y="953.1" width="6.5" height="6.5" fill="#ff0084"/><rect x="915.8" y="953.1" width="6.5" height="6.5" fill="#ff0081"/><rect x="921.8" y="953.1" width="6.5" height="6.5" fill="#ff007e"/><rect x="927.8" y="953.1" width="6.5" height="6.5" fill="#ff007c"/><rect x="933.8" y="953.1" width="6.5" height="6.5" fill="#ff0079"/><rect x="939.8" y="953.1" width="6.5" height="6.5" fill="#ff0077"/><rect x="945.8" y="953.1" width="6.5" height="6.5" fill="#ff0075"/><rect x="951.8" y="953.1" width="6.5" height="6.5" fill="#ff0073"/><rect x="957.8" y="953.1" width="6.5" height="6.5" fill="#ff0071"/><rect x="963.8" y="953.1" width="6.5" height="6.5" fill="#ff006f"/><rect x="969.8" y="953.1" width="6.5" height="6.5" fill="#ff006d"/><rect x="975.8" y="953.1" width="6.5" height="6.5" fill="#ff006c"/><rect x="981.8" y="953.1" width="6.5" height="6.5" fill="#ff006a"/><rect x="987.8" y="953.1" width="6.5" height="6.5" fill="#ff0069"/><rect x="993.8" y="953.1" width="6.5" height="6.5" fill="#ff0067"/><rect x="999.8" y="953.1" width="6.5" height="6.5" fill="#ff0066"/><rect x="1005.8" y="953.1" width="6.5" height="6.5" fill="#ff0065"/><rect x="1011.8" y="953.1" width="6.5" height="6.5" fill="#ff0063"/><rect x="1017.8" y="953.1" width="6.5" height="6.5" fill="#ff0062"/><rect x="687.8" y="959.1" width="6.5" height="6.5" fill="#00e0ff"/><rect x="693.8" y="959.1" width="6.5" height="6.5" fill="#00deff"/><rect x="699.8" y="959.1" width="6.5" height="6.5" fill="#00ddff"/><rect x="705.8" y="959.1" width="6.5" height="6.5" fill="#00daff"/><rect x="711.8" y="959.1" width="6.5" height="6.5" fill="#00d8ff"/><rect x="717.8" y="959.1" width="6.5" height="6.5" fill="#00d5ff"/><rect x="723.8" y="959.1" width="6.5" height="6.5" fill="#00d2ff"/><rect x="729.8" y="959.1" width="6.5" height="6.5" fill="#00cfff"/><rect x="735.8" y="959.1" width="6.5" height="6.5" fill="#00cbff"/><rect x="741.8" y="959.1" width="6.5" height="6.5" fill="#00c6ff"/><rect x="747.8" y="959.1" width="6.5" height="6.5" fill="#00bfff"/><rect x="753.8" y="959.1" width="6.5" height="6.5" fill="#00b8ff"/><rect x="759.8" y="959.1" width="6.5" height="6.5" fill="#3ab2ff"/><rect x="765.8" y="959.1" width="6.5" height="6.5" fill="#63b0ff"/><rect x="771.8" y="959.1" width="6.5" height="6.5" fill="#7eaeff"/><rect x="777.8" y="959.1" width="6.5" height="6.5" fill="#95abff"/><rect x="783.8" y="959.1" width="6.5" height="6.5" fill="#a8a9ff"/><rect x="789.8" y="959.1" width="6.5" height="6.5" fill="#baa6ff"/><rect x="795.8" y="959.1" width="6.5" height="6.5" fill="#cba3ff"/><rect x="801.8" y="959.1" width="6.5" height="6.5" fill="#da9fff"/><rect x="807.8" y="959.1" width="6.5" height="6.5" fill="#e99cff"/><rect x="813.8" y="959.1" width="6.5" height="6.5" fill="#f898ff"/><rect x="819.8" y="959.1" width="6.5" height="6.5" fill="#ff90f8"/><rect x="825.8" y="959.1" width="6.5" height="6.5" fill="#ff84ec"/><rect x="831.8" y="959.1" width="6.5" height="6.5" fill="#ff79e0"/><rect x="837.8" y="959.1" width="6.5" height="6.5" fill="#ff6ed6"/><rect x="843.8" y="959.1" width="6.5" height="6.5" fill="#ff64cd"/><rect x="849.8" y="959.1" width="6.5" height="6.5" fill="#ff59c4"/><rect x="855.8" y="959.1" width="6.5" height="6.5" fill="#ff4fbc"/><rect x="861.8" y="959.1" width="6.5" height="6.5" fill="#ff45b4"/><rect x="867.8" y="959.1" width="6.5" height="6.5" fill="#ff39ad"/><rect x="873.8" y="959.1" width="6.5" height="6.5" fill="#ff2ca6"/><rect x="879.8" y="959.1" width="6.5" height="6.5" fill="#ff1aa0"/><rect x="885.8" y="959.1" width="6.5" height="6.5" fill="#ff009a"/><rect x="891.8" y="959.1" width="6.5" height="6.5" fill="#ff0096"/><rect x="897.8" y="959.1" width="6.5" height="6.5" fill="#ff0093"/><rect x="903.8" y="959.1" width="6.5" height="6.5" fill="#ff008f"/><rect x="909.8" y="959.1" width="6.5" height="6.5" fill="#ff008c"/><rect x="915.8" y="959.1" width="6.5" height="6.5" fill="#ff0089"/><rect x="921.8" y="959.1" width="6.5" height="6.5" fill="#ff0087"/><rect x="927.8" y="959.1" width="6.5" height="6.5" fill="#ff0084"/><rect x="933.8" y="959.1" width="6.5" height="6.5" fill="#ff0082"/><rect x="939.8" y="959.1" width="6.5" height="6.5" fill="#ff007f"/><rect x="945.8" y="959.1" width="6.5" height="6.5" fill="#ff007d"/><rect x="951.8" y="959.1" width="6.5" height="6.5" fill="#ff007b"/><rect x="957.8" y="959.1" width="6.5" height="6.5" fill="#ff0079"/><rect x="963.8" y="959.1" width="6.5" height="6.5" fill="#ff0077"/><rect x="969.8" y="959.1" width="6.5" height="6.5" fill="#ff0075"/><rect x="975.8" y="959.1" width="6.5" height="6.5" fill="#ff0074"/><rect x="981.8" y="959.1" width="6.5" height="6.5" fill="#ff0072"/><rect x="987.8" y="959.1" width="6.5" height="6.5" fill="#ff0070"/><rect x="993.8" y="959.1" width="6.5" height="6.5" fill="#ff006f"/><rect x="999.8" y="959.1" width="6.5" height="6.5" fill="#ff006d"/><rect x="693.8" y="965.1" width="6.5" height="6.5" fill="#00d9ff"/><rect x="699.8" y="965.1" width="6.5" height="6.5" fill="#00d6ff"/><rect x="705.8" y="965.1" width="6.5" height="6.5" fill="#00d4ff"/><rect x="711.8" y="965.1" width="6.5" height="6.5" fill="#00d1ff"/><rect x="717.8" y="965.1" width="6.5" height="6.5" fill="#00ceff"/><rect x="723.8" y="965.1" width="6.5" height="6.5" fill="#00caff"/><rect x="729.8" y="965.1" width="6.5" height="6.5" fill="#00c6ff"/><rect x="735.8" y="965.1" width="6.5" height="6.5" fill="#00c0ff"/><rect x="741.8" y="965.1" width="6.5" height="6.5" fill="#00baff"/><rect x="747.8" y="965.1" width="6.5" height="6.5" fill="#00b3ff"/><rect x="753.8" y="965.1" width="6.5" height="6.5" fill="#00a9ff"/><rect x="759.8" y="965.1" width="6.5" height="6.5" fill="#4ba6ff"/><rect x="765.8" y="965.1" width="6.5" height="6.5" fill="#6ca3ff"/><rect x="771.8" y="965.1" width="6.5" height="6.5" fill="#84a0ff"/><rect x="777.8" y="965.1" width="6.5" height="6.5" fill="#999dff"/><rect x="783.8" y="965.1" width="6.5" height="6.5" fill="#ac9aff"/><rect x="789.8" y="965.1" width="6.5" height="6.5" fill="#bc96ff"/><rect x="795.8" y="965.1" width="6.5" height="6.5" fill="#cc93ff"/><rect x="801.8" y="965.1" width="6.5" height="6.5" fill="#db8fff"/><rect x="807.8" y="965.1" width="6.5" height="6.5" fill="#e98aff"/><rect x="813.8" y="965.1" width="6.5" height="6.5" fill="#f785ff"/><rect x="819.8" y="965.1" width="6.5" height="6.5" fill="#ff7df9"/><rect x="825.8" y="965.1" width="6.5" height="6.5" fill="#ff71ed"/><rect x="831.8" y="965.1" width="6.5" height="6.5" fill="#ff66e2"/><rect x="837.8" y="965.1" width="6.5" height="6.5" fill="#ff5ad8"/><rect x="843.8" y="965.1" width="6.5" height="6.5" fill="#ff4fcf"/><rect x="849.8" y="965.1" width="6.5" height="6.5" fill="#ff43c6"/><rect x="855.8" y="965.1" width="6.5" height="6.5" fill="#ff36bf"/><rect x="861.8" y="965.1" width="6.5" height="6.5" fill="#ff26b7"/><rect x="867.8" y="965.1" width="6.5" height="6.5" fill="#ff0eb0"/><rect x="873.8" y="965.1" width="6.5" height="6.5" fill="#ff00ab"/><rect x="879.8" y="965.1" width="6.5" height="6.5" fill="#ff00a6"/><rect x="885.8" y="965.1" width="6.5" height="6.5" fill="#ff00a2"/><rect x="891.8" y="965.1" width="6.5" height="6.5" fill="#ff009e"/><rect x="897.8" y="965.1" width="6.5" height="6.5" fill="#ff009a"/><rect x="903.8" y="965.1" width="6.5" height="6.5" fill="#ff0097"/><rect x="909.8" y="965.1" width="6.5" height="6.5" fill="#ff0094"/><rect x="915.8" y="965.1" width="6.5" height="6.5" fill="#ff0091"/><rect x="921.8" y="965.1" width="6.5" height="6.5" fill="#ff008e"/><rect x="927.8" y="965.1" width="6.5" height="6.5" fill="#ff008b"/><rect x="933.8" y="965.1" width="6.5" height="6.5" fill="#ff0089"/><rect x="939.8" y="965.1" width="6.5" height="6.5" fill="#ff0086"/><rect x="945.8" y="965.1" width="6.5" height="6.5" fill="#ff0084"/><rect x="951.8" y="965.1" width="6.5" height="6.5" fill="#ff0082"/><rect x="957.8" y="965.1" width="6.5" height="6.5" fill="#ff0080"/><rect x="963.8" y="965.1" width="6.5" height="6.5" fill="#ff007e"/><rect x="969.8" y="965.1" width="6.5" height="6.5" fill="#ff007c"/><rect x="975.8" y="965.1" width="6.5" height="6.5" fill="#ff007b"/><rect x="981.8" y="965.1" width="6.5" height="6.5" fill="#ff0079"/><rect x="693.8" y="971.1" width="6.5" height="6.5" fill="#00d2ff"/><rect x="699.8" y="971.1" width="6.5" height="6.5" fill="#00d0ff"/><rect x="705.8" y="971.1" width="6.5" height="6.5" fill="#00cdff"/><rect x="711.8" y="971.1" width="6.5" height="6.5" fill="#00caff"/><rect x="717.8" y="971.1" width="6.5" height="6.5" fill="#00c6ff"/><rect x="723.8" y="971.1" width="6.5" height="6.5" fill="#00c1ff"/><rect x="729.8" y="971.1" width="6.5" height="6.5" fill="#00bcff"/><rect x="735.8" y="971.1" width="6.5" height="6.5" fill="#00b6ff"/><rect x="741.8" y="971.1" width="6.5" height="6.5" fill="#00aeff"/><rect x="747.8" y="971.1" width="6.5" height="6.5" fill="#00a5ff"/><rect x="753.8" y="971.1" width="6.5" height="6.5" fill="#289bff"/><rect x="759.8" y="971.1" width="6.5" height="6.5" fill="#5798ff"/><rect x="765.8" y="971.1" width="6.5" height="6.5" fill="#7495ff"/><rect x="771.8" y="971.1" width="6.5" height="6.5" fill="#8a92ff"/><rect x="777.8" y="971.1" width="6.5" height="6.5" fill="#9d8eff"/><rect x="783.8" y="971.1" width="6.5" height="6.5" fill="#ae8bff"/><rect x="789.8" y="971.1" width="6.5" height="6.5" fill="#be86ff"/><rect x="795.8" y="971.1" width="6.5" height="6.5" fill="#cd82ff"/><rect x="801.8" y="971.1" width="6.5" height="6.5" fill="#dc7dff"/><rect x="807.8" y="971.1" width="6.5" height="6.5" fill="#e977ff"/><rect x="813.8" y="971.1" width="6.5" height="6.5" fill="#f771ff"/><rect x="819.8" y="971.1" width="6.5" height="6.5" fill="#ff68fa"/><rect x="825.8" y="971.1" width="6.5" height="6.5" fill="#ff5bef"/><rect x="831.8" y="971.1" width="6.5" height="6.5" fill="#ff4fe4"/><rect x="837.8" y="971.1" width="6.5" height="6.5" fill="#ff41da"/><rect x="843.8" y="971.1" width="6.5" height="6.5" fill="#ff32d1"/><rect x="849.8" y="971.1" width="6.5" height="6.5" fill="#ff1ec9"/><rect x="855.8" y="971.1" width="6.5" height="6.5" fill="#ff00c1"/><rect x="861.8" y="971.1" width="6.5" height="6.5" fill="#ff00bb"/><rect x="867.8" y="971.1" width="6.5" height="6.5" fill="#ff00b6"/><rect x="873.8" y="971.1" width="6.5" height="6.5" fill="#ff00b1"/><rect x="879.8" y="971.1" width="6.5" height="6.5" fill="#ff00ac"/><rect x="885.8" y="971.1" width="6.5" height="6.5" fill="#ff00a8"/><rect x="891.8" y="971.1" width="6.5" height="6.5" fill="#ff00a4"/><rect x="897.8" y="971.1" width="6.5" height="6.5" fill="#ff00a1"/><rect x="903.8" y="971.1" width="6.5" height="6.5" fill="#ff009d"/><rect x="909.8" y="971.1" width="6.5" height="6.5" fill="#ff009a"/><rect x="915.8" y="971.1" width="6.5" height="6.5" fill="#ff0097"/><rect x="921.8" y="971.1" width="6.5" height="6.5" fill="#ff0094"/><rect x="927.8" y="971.1" width="6.5" height="6.5" fill="#ff0092"/><rect x="933.8" y="971.1" width="6.5" height="6.5" fill="#ff008f"/><rect x="939.8" y="971.1" width="6.5" height="6.5" fill="#ff008d"/><rect x="945.8" y="971.1" width="6.5" height="6.5" fill="#ff008a"/><rect x="951.8" y="971.1" width="6.5" height="6.5" fill="#ff0088"/><rect x="957.8" y="971.1" width="6.5" height="6.5" fill="#ff0086"/><rect x="963.8" y="971.1" width="6.5" height="6.5" fill="#ff0084"/><rect x="699.8" y="977.1" width="6.5" height="6.5" fill="#00c9ff"/><rect x="705.8" y="977.1" width="6.5" height="6.5" fill="#00c6ff"/><rect x="711.8" y="977.1" width="6.5" height="6.5" fill="#00c2ff"/><rect x="717.8" y="977.1" width="6.5" height="6.5" fill="#00bdff"/><rect x="723.8" y="977.1" width="6.5" height="6.5" fill="#00b8ff"/><rect x="729.8" y="977.1" width="6.5" height="6.5" fill="#00b2ff"/><rect x="735.8" y="977.1" width="6.5" height="6.5" fill="#00aaff"/><rect x="741.8" y="977.1" width="6.5" height="6.5" fill="#00a1ff"/><rect x="747.8" y="977.1" width="6.5" height="6.5" fill="#0095ff"/><rect x="753.8" y="977.1" width="6.5" height="6.5" fill="#3d8eff"/><rect x="759.8" y="977.1" width="6.5" height="6.5" fill="#618bff"/><rect x="765.8" y="977.1" width="6.5" height="6.5" fill="#7a87ff"/><rect x="771.8" y="977.1" width="6.5" height="6.5" fill="#8f83ff"/><rect x="777.8" y="977.1" width="6.5" height="6.5" fill="#a17fff"/><rect x="783.8" y="977.1" width="6.5" height="6.5" fill="#b17aff"/><rect x="789.8" y="977.1" width="6.5" height="6.5" fill="#c075ff"/><rect x="795.8" y="977.1" width="6.5" height="6.5" fill="#cf6fff"/><rect x="801.8" y="977.1" width="6.5" height="6.5" fill="#dc69ff"/><rect x="807.8" y="977.1" width="6.5" height="6.5" fill="#e962ff"/><rect x="813.8" y="977.1" width="6.5" height="6.5" fill="#f659ff"/><rect x="819.8" y="977.1" width="6.5" height="6.5" fill="#ff4efb"/><rect x="825.8" y="977.1" width="6.5" height="6.5" fill="#ff3ff0"/><rect x="831.8" y="977.1" width="6.5" height="6.5" fill="#ff2ce5"/><rect x="837.8" y="977.1" width="6.5" height="6.5" fill="#ff11dc"/><rect x="843.8" y="977.1" width="6.5" height="6.5" fill="#ff00d4"/><rect x="849.8" y="977.1" width="6.5" height="6.5" fill="#ff00cd"/><rect x="855.8" y="977.1" width="6.5" height="6.5" fill="#ff00c6"/><rect x="861.8" y="977.1" width="6.5" height="6.5" fill="#ff00c0"/><rect x="867.8" y="977.1" width="6.5" height="6.5" fill="#ff00bb"/><rect x="873.8" y="977.1" width="6.5" height="6.5" fill="#ff00b6"/><rect x="879.8" y="977.1" width="6.5" height="6.5" fill="#ff00b2"/><rect x="885.8" y="977.1" width="6.5" height="6.5" fill="#ff00ae"/><rect x="891.8" y="977.1" width="6.5" height="6.5" fill="#ff00aa"/><rect x="897.8" y="977.1" width="6.5" height="6.5" fill="#ff00a6"/><rect x="903.8" y="977.1" width="6.5" height="6.5" fill="#ff00a3"/><rect x="909.8" y="977.1" width="6.5" height="6.5" fill="#ff00a0"/><rect x="915.8" y="977.1" width="6.5" height="6.5" fill="#ff009d"/><rect x="921.8" y="977.1" width="6.5" height="6.5" fill="#ff009a"/><rect x="927.8" y="977.1" width="6.5" height="6.5" fill="#ff0097"/><rect x="933.8" y="977.1" width="6.5" height="6.5" fill="#ff0095"/><rect x="939.8" y="977.1" width="6.5" height="6.5" fill="#ff0092"/><rect x="945.8" y="977.1" width="6.5" height="6.5" fill="#ff0090"/><rect x="699.8" y="983.1" width="6.5" height="6.5" fill="#00c2ff"/><rect x="705.8" y="983.1" width="6.5" height="6.5" fill="#00beff"/><rect x="711.8" y="983.1" width="6.5" height="6.5" fill="#00baff"/><rect x="717.8" y="983.1" width="6.5" height="6.5" fill="#00b4ff"/><rect x="723.8" y="983.1" width="6.5" height="6.5" fill="#00aeff"/><rect x="729.8" y="983.1" width="6.5" height="6.5" fill="#00a7ff"/><rect x="735.8" y="983.1" width="6.5" height="6.5" fill="#009eff"/><rect x="741.8" y="983.1" width="6.5" height="6.5" fill="#0092ff"/><rect x="747.8" y="983.1" width="6.5" height="6.5" fill="#0d84ff"/><rect x="753.8" y="983.1" width="6.5" height="6.5" fill="#4c80ff"/><rect x="759.8" y="983.1" width="6.5" height="6.5" fill="#697cff"/><rect x="765.8" y="983.1" width="6.5" height="6.5" fill="#8078ff"/><rect x="771.8" y="983.1" width="6.5" height="6.5" fill="#9373ff"/><rect x="777.8" y="983.1" width="6.5" height="6.5" fill="#a46eff"/><rect x="783.8" y="983.1" width="6.5" height="6.5" fill="#b368ff"/><rect x="789.8" y="983.1" width="6.5" height="6.5" fill="#c261ff"/><rect x="795.8" y="983.1" width="6.5" height="6.5" fill="#d059ff"/><rect x="801.8" y="983.1" width="6.5" height="6.5" fill="#dd51ff"/><rect x="807.8" y="983.1" width="6.5" height="6.5" fill="#e946ff"/><rect x="813.8" y="983.1" width="6.5" height="6.5" fill="#f639ff"/><rect x="819.8" y="983.1" width="6.5" height="6.5" fill="#ff24fc"/><rect x="825.8" y="983.1" width="6.5" height="6.5" fill="#ff00f1"/><rect x="831.8" y="983.1" width="6.5" height="6.5" fill="#ff00e8"/><rect x="837.8" y="983.1" width="6.5" height="6.5" fill="#ff00df"/><rect x="843.8" y="983.1" width="6.5" height="6.5" fill="#ff00d7"/><rect x="849.8" y="983.1" width="6.5" height="6.5" fill="#ff00d1"/><rect x="855.8" y="983.1" width="6.5" height="6.5" fill="#ff00cb"/><rect x="861.8" y="983.1" width="6.5" height="6.5" fill="#ff00c5"/><rect x="867.8" y="983.1" width="6.5" height="6.5" fill="#ff00c0"/><rect x="873.8" y="983.1" width="6.5" height="6.5" fill="#ff00bb"/><rect x="879.8" y="983.1" width="6.5" height="6.5" fill="#ff00b7"/><rect x="885.8" y="983.1" width="6.5" height="6.5" fill="#ff00b3"/><rect x="891.8" y="983.1" width="6.5" height="6.5" fill="#ff00af"/><rect x="897.8" y="983.1" width="6.5" height="6.5" fill="#ff00ab"/><rect x="903.8" y="983.1" width="6.5" height="6.5" fill="#ff00a8"/><rect x="909.8" y="983.1" width="6.5" height="6.5" fill="#ff00a5"/><rect x="915.8" y="983.1" width="6.5" height="6.5" fill="#ff00a2"/><rect x="921.8" y="983.1" width="6.5" height="6.5" fill="#ff009f"/><rect x="927.8" y="983.1" width="6.5" height="6.5" fill="#ff009c"/><rect x="705.8" y="989.1" width="6.5" height="6.5" fill="#00b6ff"/><rect x="711.8" y="989.1" width="6.5" height="6.5" fill="#00b1ff"/><rect x="717.8" y="989.1" width="6.5" height="6.5" fill="#00abff"/><rect x="723.8" y="989.1" width="6.5" height="6.5" fill="#00a4ff"/><rect x="729.8" y="989.1" width="6.5" height="6.5" fill="#009bff"/><rect x="735.8" y="989.1" width="6.5" height="6.5" fill="#0090ff"/><rect x="741.8" y="989.1" width="6.5" height="6.5" fill="#0082ff"/><rect x="747.8" y="989.1" width="6.5" height="6.5" fill="#2f76ff"/><rect x="753.8" y="989.1" width="6.5" height="6.5" fill="#5771ff"/><rect x="759.8" y="989.1" width="6.5" height="6.5" fill="#716cff"/><rect x="765.8" y="989.1" width="6.5" height="6.5" fill="#8567ff"/><rect x="771.8" y="989.1" width="6.5" height="6.5" fill="#9761ff"/><rect x="777.8" y="989.1" width="6.5" height="6.5" fill="#a75aff"/><rect x="783.8" y="989.1" width="6.5" height="6.5" fill="#b652ff"/><rect x="789.8" y="989.1" width="6.5" height="6.5" fill="#c348ff"/><rect x="795.8" y="989.1" width="6.5" height="6.5" fill="#d13dff"/><rect x="801.8" y="989.1" width="6.5" height="6.5" fill="#dd2dff"/><rect x="807.8" y="989.1" width="6.5" height="6.5" fill="#e912ff"/><rect x="813.8" y="989.1" width="6.5" height="6.5" fill="#f500ff"/><rect x="819.8" y="989.1" width="6.5" height="6.5" fill="#ff00fd"/><rect x="825.8" y="989.1" width="6.5" height="6.5" fill="#ff00f3"/><rect x="831.8" y="989.1" width="6.5" height="6.5" fill="#ff00ea"/><rect x="837.8" y="989.1" width="6.5" height="6.5" fill="#ff00e2"/><rect x="843.8" y="989.1" width="6.5" height="6.5" fill="#ff00db"/><rect x="849.8" y="989.1" width="6.5" height="6.5" fill="#ff00d4"/><rect x="855.8" y="989.1" width="6.5" height="6.5" fill="#ff00ce"/><rect x="861.8" y="989.1" width="6.5" height="6.5" fill="#ff00c9"/><rect x="867.8" y="989.1" width="6.5" height="6.5" fill="#ff00c4"/><rect x="873.8" y="989.1" width="6.5" height="6.5" fill="#ff00bf"/><rect x="879.8" y="989.1" width="6.5" height="6.5" fill="#ff00bb"/><rect x="885.8" y="989.1" width="6.5" height="6.5" fill="#ff00b7"/><rect x="891.8" y="989.1" width="6.5" height="6.5" fill="#ff00b3"/><rect x="897.8" y="989.1" width="6.5" height="6.5" fill="#ff00b0"/><rect x="903.8" y="989.1" width="6.5" height="6.5" fill="#ff00ac"/><rect x="909.8" y="989.1" width="6.5" height="6.5" fill="#ff00a9"/><rect x="705.8" y="995.1" width="6.5" height="6.5" fill="#00aeff"/><rect x="711.8" y="995.1" width="6.5" height="6.5" fill="#00a8ff"/><rect x="717.8" y="995.1" width="6.5" height="6.5" fill="#00a1ff"/><rect x="723.8" y="995.1" width="6.5" height="6.5" fill="#0098ff"/><rect x="729.8" y="995.1" width="6.5" height="6.5" fill="#008eff"/><rect x="735.8" y="995.1" width="6.5" height="6.5" fill="#0080ff"/><rect x="741.8" y="995.1" width="6.5" height="6.5" fill="#006eff"/><rect x="747.8" y="995.1" width="6.5" height="6.5" fill="#4066ff"/><rect x="753.8" y="995.1" width="6.5" height="6.5" fill="#6060ff"/><rect x="759.8" y="995.1" width="6.5" height="6.5" fill="#775aff"/><rect x="765.8" y="995.1" width="6.5" height="6.5" fill="#8a53ff"/><rect x="771.8" y="995.1" width="6.5" height="6.5" fill="#9a4aff"/><rect x="777.8" y="995.1" width="6.5" height="6.5" fill="#aa40ff"/><rect x="783.8" y="995.1" width="6.5" height="6.5" fill="#b834ff"/><rect x="789.8" y="995.1" width="6.5" height="6.5" fill="#c521ff"/><rect x="795.8" y="995.1" width="6.5" height="6.5" fill="#d200ff"/><rect x="801.8" y="995.1" width="6.5" height="6.5" fill="#df00ff"/><rect x="807.8" y="995.1" width="6.5" height="6.5" fill="#ea00ff"/><rect x="813.8" y="995.1" width="6.5" height="6.5" fill="#f600ff"/><rect x="819.8" y="995.1" width="6.5" height="6.5" fill="#ff00fe"/><rect x="825.8" y="995.1" width="6.5" height="6.5" fill="#ff00f4"/><rect x="831.8" y="995.1" width="6.5" height="6.5" fill="#ff00ec"/><rect x="837.8" y="995.1" width="6.5" height="6.5" fill="#ff00e4"/><rect x="843.8" y="995.1" width="6.5" height="6.5" fill="#ff00dd"/><rect x="849.8" y="995.1" width="6.5" height="6.5" fill="#ff00d7"/><rect x="855.8" y="995.1" width="6.5" height="6.5" fill="#ff00d2"/><rect x="861.8" y="995.1" width="6.5" height="6.5" fill="#ff00cc"/><rect x="867.8" y="995.1" width="6.5" height="6.5" fill="#ff00c7"/><rect x="873.8" y="995.1" width="6.5" height="6.5" fill="#ff00c3"/><rect x="879.8" y="995.1" width="6.5" height="6.5" fill="#ff00bf"/><rect x="885.8" y="995.1" width="6.5" height="6.5" fill="#ff00bb"/><rect x="891.8" y="995.1" width="6.5" height="6.5" fill="#ff00b7"/><rect x="711.8" y="1001.1" width="6.5" height="6.5" fill="#009fff"/><rect x="717.8" y="1001.1" width="6.5" height="6.5" fill="#0096ff"/><rect x="723.8" y="1001.1" width="6.5" height="6.5" fill="#008cff"/><rect x="729.8" y="1001.1" width="6.5" height="6.5" fill="#007fff"/><rect x="735.8" y="1001.1" width="6.5" height="6.5" fill="#006eff"/><rect x="741.8" y="1001.1" width="6.5" height="6.5" fill="#1d5aff"/><rect x="747.8" y="1001.1" width="6.5" height="6.5" fill="#4d53ff"/><rect x="753.8" y="1001.1" width="6.5" height="6.5" fill="#684cff"/><rect x="759.8" y="1001.1" width="6.5" height="6.5" fill="#7c43ff"/><rect x="765.8" y="1001.1" width="6.5" height="6.5" fill="#8e38ff"/><rect x="771.8" y="1001.1" width="6.5" height="6.5" fill="#9e29ff"/><rect x="777.8" y="1001.1" width="6.5" height="6.5" fill="#ac10ff"/><rect x="783.8" y="1001.1" width="6.5" height="6.5" fill="#bb00ff"/><rect x="789.8" y="1001.1" width="6.5" height="6.5" fill="#c800ff"/><rect x="795.8" y="1001.1" width="6.5" height="6.5" fill="#d500ff"/><rect x="801.8" y="1001.1" width="6.5" height="6.5" fill="#e100ff"/><rect x="807.8" y="1001.1" width="6.5" height="6.5" fill="#eb00ff"/><rect x="813.8" y="1001.1" width="6.5" height="6.5" fill="#f600ff"/><rect x="819.8" y="1001.1" width="6.5" height="6.5" fill="#ff00ff"/><rect x="825.8" y="1001.1" width="6.5" height="6.5" fill="#ff00f6"/><rect x="831.8" y="1001.1" width="6.5" height="6.5" fill="#ff00ee"/><rect x="837.8" y="1001.1" width="6.5" height="6.5" fill="#ff00e7"/><rect x="843.8" y="1001.1" width="6.5" height="6.5" fill="#ff00e0"/><rect x="849.8" y="1001.1" width="6.5" height="6.5" fill="#ff00da"/><rect x="855.8" y="1001.1" width="6.5" height="6.5" fill="#ff00d4"/><rect x="861.8" y="1001.1" width="6.5" height="6.5" fill="#ff00cf"/><rect x="867.8" y="1001.1" width="6.5" height="6.5" fill="#ff00cb"/><rect x="873.8" y="1001.1" width="6.5" height="6.5" fill="#ff00c6"/><rect x="711.8" y="1007.1" width="6.5" height="6.5" fill="#0094ff"/><rect x="717.8" y="1007.1" width="6.5" height="6.5" fill="#008aff"/><rect x="723.8" y="1007.1" width="6.5" height="6.5" fill="#007eff"/><rect x="729.8" y="1007.1" width="6.5" height="6.5" fill="#006eff"/><rect x="735.8" y="1007.1" width="6.5" height="6.5" fill="#0057ff"/><rect x="741.8" y="1007.1" width="6.5" height="6.5" fill="#3445ff"/><rect x="747.8" y="1007.1" width="6.5" height="6.5" fill="#573cff"/><rect x="753.8" y="1007.1" width="6.5" height="6.5" fill="#6e30ff"/><rect x="759.8" y="1007.1" width="6.5" height="6.5" fill="#811eff"/><rect x="765.8" y="1007.1" width="6.5" height="6.5" fill="#9200ff"/><rect x="771.8" y="1007.1" width="6.5" height="6.5" fill="#a300ff"/><rect x="777.8" y="1007.1" width="6.5" height="6.5" fill="#b200ff"/><rect x="783.8" y="1007.1" width="6.5" height="6.5" fill="#c000ff"/><rect x="789.8" y="1007.1" width="6.5" height="6.5" fill="#cc00ff"/><rect x="795.8" y="1007.1" width="6.5" height="6.5" fill="#d800ff"/><rect x="801.8" y="1007.1" width="6.5" height="6.5" fill="#e200ff"/><rect x="807.8" y="1007.1" width="6.5" height="6.5" fill="#ec00ff"/><rect x="813.8" y="1007.1" width="6.5" height="6.5" fill="#f600ff"/><rect x="819.8" y="1007.1" width="6.5" height="6.5" fill="#ff00ff"/><rect x="825.8" y="1007.1" width="6.5" height="6.5" fill="#ff00f7"/><rect x="831.8" y="1007.1" width="6.5" height="6.5" fill="#ff00ef"/><rect x="837.8" y="1007.1" width="6.5" height="6.5" fill="#ff00e8"/><rect x="843.8" y="1007.1" width="6.5" height="6.5" fill="#ff00e2"/><rect x="849.8" y="1007.1" width="6.5" height="6.5" fill="#ff00dc"/><rect x="855.8" y="1007.1" width="6.5" height="6.5" fill="#ff00d7"/><rect x="717.8" y="1013.1" width="6.5" height="6.5" fill="#007dff"/><rect x="723.8" y="1013.1" width="6.5" height="6.5" fill="#006eff"/><rect x="729.8" y="1013.1" width="6.5" height="6.5" fill="#0059ff"/><rect x="735.8" y="1013.1" width="6.5" height="6.5" fill="#0035ff"/><rect x="741.8" y="1013.1" width="6.5" height="6.5" fill="#4326ff"/><rect x="747.8" y="1013.1" width="6.5" height="6.5" fill="#5f0eff"/><rect x="753.8" y="1013.1" width="6.5" height="6.5" fill="#7700ff"/><rect x="759.8" y="1013.1" width="6.5" height="6.5" fill="#8b00ff"/><rect x="765.8" y="1013.1" width="6.5" height="6.5" fill="#9c00ff"/><rect x="771.8" y="1013.1" width="6.5" height="6.5" fill="#ab00ff"/><rect x="777.8" y="1013.1" width="6.5" height="6.5" fill="#b800ff"/><rect x="783.8" y="1013.1" width="6.5" height="6.5" fill="#c400ff"/><rect x="789.8" y="1013.1" width="6.5" height="6.5" fill="#cf00ff"/><rect x="795.8" y="1013.1" width="6.5" height="6.5" fill="#da00ff"/><rect x="801.8" y="1013.1" width="6.5" height="6.5" fill="#e400ff"/><rect x="807.8" y="1013.1" width="6.5" height="6.5" fill="#ed00ff"/><rect x="813.8" y="1013.1" width="6.5" height="6.5" fill="#f600ff"/><rect x="819.8" y="1013.1" width="6.5" height="6.5" fill="#fe00ff"/><rect x="825.8" y="1013.1" width="6.5" height="6.5" fill="#ff00f8"/><rect x="831.8" y="1013.1" width="6.5" height="6.5" fill="#ff00f1"/><rect x="837.8" y="1013.1" width="6.5" height="6.5" fill="#ff00ea"/><rect x="717.8" y="1019.1" width="6.5" height="6.5" fill="#006eff"/><rect x="723.8" y="1019.1" width="6.5" height="6.5" fill="#005bff"/><rect x="729.8" y="1019.1" width="6.5" height="6.5" fill="#003bff"/><rect x="735.8" y="1019.1" width="6.5" height="6.5" fill="#2a00ff"/><rect x="741.8" y="1019.1" width="6.5" height="6.5" fill="#5500ff"/><rect x="747.8" y="1019.1" width="6.5" height="6.5" fill="#7000ff"/><rect x="753.8" y="1019.1" width="6.5" height="6.5" fill="#8400ff"/><rect x="759.8" y="1019.1" width="6.5" height="6.5" fill="#9500ff"/><rect x="765.8" y="1019.1" width="6.5" height="6.5" fill="#a300ff"/><rect x="771.8" y="1019.1" width="6.5" height="6.5" fill="#b100ff"/><rect x="777.8" y="1019.1" width="6.5" height="6.5" fill="#bd00ff"/><rect x="783.8" y="1019.1" width="6.5" height="6.5" fill="#c800ff"/><rect x="789.8" y="1019.1" width="6.5" height="6.5" fill="#d200ff"/><rect x="795.8" y="1019.1" width="6.5" height="6.5" fill="#dc00ff"/><rect x="801.8" y="1019.1" width="6.5" height="6.5" fill="#e500ff"/><rect x="807.8" y="1019.1" width="6.5" height="6.5" fill="#ee00ff"/><rect x="813.8" y="1019.1" width="6.5" height="6.5" fill="#f600ff"/><rect x="819.8" y="1019.1" width="6.5" height="6.5" fill="#fe00ff"/><rect x="723.8" y="1025.1" width="6.5" height="6.5" fill="#0040ff"/><rect x="729.8" y="1025.1" width="6.5" height="6.5" fill="#1a00ff"/><rect x="735.8" y="1025.1" width="6.5" height="6.5" fill="#4e00ff"/><rect x="741.8" y="1025.1" width="6.5" height="6.5" fill="#6900ff"/><rect x="747.8" y="1025.1" width="6.5" height="6.5" fill="#7d00ff"/><rect x="753.8" y="1025.1" width="6.5" height="6.5" fill="#8e00ff"/><rect x="759.8" y="1025.1" width="6.5" height="6.5" fill="#9d00ff"/><rect x="765.8" y="1025.1" width="6.5" height="6.5" fill="#aa00ff"/><rect x="771.8" y="1025.1" width="6.5" height="6.5" fill="#b600ff"/><rect x="777.8" y="1025.1" width="6.5" height="6.5" fill="#c100ff"/><rect x="783.8" y="1025.1" width="6.5" height="6.5" fill="#cb00ff"/><rect x="789.8" y="1025.1" width="6.5" height="6.5" fill="#d400ff"/><rect x="795.8" y="1025.1" width="6.5" height="6.5" fill="#dd00ff"/><rect x="801.8" y="1025.1" width="6.5" height="6.5" fill="#e600ff"/><rect x="729.8" y="1031.1" width="6.5" height="6.5" fill="#4600ff"/><rect x="735.8" y="1031.1" width="6.5" height="6.5" fill="#6200ff"/><rect x="741.8" y="1031.1" width="6.5" height="6.5" fill="#7700ff"/><rect x="747.8" y="1031.1" width="6.5" height="6.5" fill="#8800ff"/><rect x="753.8" y="1031.1" width="6.5" height="6.5" fill="#9700ff"/><rect x="759.8" y="1031.1" width="6.5" height="6.5" fill="#a400ff"/><rect x="765.8" y="1031.1" width="6.5" height="6.5" fill="#af00ff"/><rect x="771.8" y="1031.1" width="6.5" height="6.5" fill="#ba00ff"/><rect x="777.8" y="1031.1" width="6.5" height="6.5" fill="#c400ff"/><rect x="783.8" y="1031.1" width="6.5" height="6.5" fill="#ce00ff"/><rect x="735.8" y="1037.1" width="6.5" height="6.5" fill="#7100ff"/><rect x="741.8" y="1037.1" width="6.5" height="6.5" fill="#8200ff"/><rect x="747.8" y="1037.1" width="6.5" height="6.5" fill="#9100ff"/><rect x="753.8" y="1037.1" width="6.5" height="6.5" fill="#9e00ff"/><rect x="759.8" y="1037.1" width="6.5" height="6.5" fill="#a900ff"/><rect x="765.8" y="1037.1" width="6.5" height="6.5" fill="#b400ff"/><rect x="741.8" y="1043.1" width="6.5" height="6.5" fill="#8b00ff"/><rect x="747.8" y="1043.1" width="6.5" height="6.5" fill="#9800ff"/></g></g>
<path d="M748.5,1042.3C748.4,1042.3 748.2,1042.4 748.1,1042.4C748,1042.4 747.9,1042.4 747.8,1042.4C747.6,1042.4 747.5,1042.4 747.2,1042.3C746.9,1042.1 746.5,1042 745.9,1041.6C745.3,1041.3 744.7,1040.8 743.7,1040.2C742.7,1039.5 740.9,1038.4 739.8,1037.7C738.7,1037 737.9,1036.6 737,1035.9C736.1,1035.2 735.5,1034.4 734.5,1033.4C733.6,1032.4 732.6,1031.4 731.3,1029.7C730,1028 728.4,1026.1 726.6,1023.2C724.8,1020.4 723,1017.3 720.4,1012.8C717.9,1008.3 714.8,1003.1 711.3,996.2C707.8,989.4 703.5,981.5 699.6,971.7C695.6,961.9 691.5,950.4 687.5,937.7C683.5,924.9 679,909.8 675.6,895.2C672.2,880.6 668.9,864.4 667,849.9C665,835.3 663.5,820.6 663.8,807.9C664.1,795.1 665.9,782.9 668.8,773.4C671.7,764 676.2,756.2 681.3,751.1C686.3,746.1 692.6,744.1 698.9,743.3C705.1,742.4 712,744.3 718.7,746C725.4,747.7 732.3,750.7 738.9,753.3C745.4,756 751.7,759 757.9,762.1C764.1,765.2 770.1,768.5 776.1,772C782.2,775.4 788.2,779.1 794.1,782.8C800.1,786.5 806,790.4 811.9,794.3C817.9,798.3 823.8,802.3 829.7,806.4C835.6,810.5 841.6,814.6 847.5,818.8C853.4,823 859.3,827.2 865.2,831.4C871.1,835.6 877,839.8 882.8,844C888.7,848.1 894.4,852.3 900.1,856.4C905.8,860.5 911.4,864.6 916.9,868.5C922.3,872.5 927.7,876.4 932.9,880.2C938.1,883.9 943.2,887.6 948.1,891.1C952.9,894.5 957.5,897.9 961.8,901.1C966.1,904.2 970.1,907 973.8,909.7C977.6,912.4 981.2,915 984.4,917.3C987.6,919.6 989.5,921 993.1,923.6C996.7,926.2 1002.4,930.3 1005.9,932.9C1009.4,935.4 1011.8,937.1 1014.1,938.8C1016.4,940.4 1018.1,941.7 1019.6,942.8C1021.1,943.8 1022.2,944.6 1023.1,945.2C1024,945.9 1024.5,946.2 1025.1,946.7C1025.7,947.1 1026.4,947.6 1026.8,947.9C1027.2,948.2 1027.3,948.3 1027.4,948.4 Z" fill="none" stroke="#213f86" stroke-width="1.1"/>
<rect x="661.9" y="719.4" width="398" height="324.7" fill="none" stroke="#000" stroke-width="1.8"/>
<line x1="661.9" y1="1044.1" x2="661.9" y2="1049.6" stroke="#000" stroke-width="1.8"/>
<line x1="686.8" y1="1044.1" x2="686.8" y2="1046.9" stroke="#000" stroke-width="1.8"/>
<line x1="711.6" y1="1044.1" x2="711.6" y2="1049.6" stroke="#000" stroke-width="1.8"/>
<line x1="736.5" y1="1044.1" x2="736.5" y2="1046.9" stroke="#000" stroke-width="1.8"/>
<line x1="761.4" y1="1044.1" x2="761.4" y2="1049.6" stroke="#000" stroke-width="1.8"/>
<line x1="786.3" y1="1044.1" x2="786.3" y2="1046.9" stroke="#000" stroke-width="1.8"/>
<line x1="811.2" y1="1044.1" x2="811.2" y2="1049.6" stroke="#000" stroke-width="1.8"/>
<line x1="836" y1="1044.1" x2="836" y2="1046.9" stroke="#000" stroke-width="1.8"/>
<line x1="860.9" y1="1044.1" x2="860.9" y2="1049.6" stroke="#000" stroke-width="1.8"/>
<line x1="885.8" y1="1044.1" x2="885.8" y2="1046.9" stroke="#000" stroke-width="1.8"/>
<line x1="910.7" y1="1044.1" x2="910.7" y2="1049.6" stroke="#000" stroke-width="1.8"/>
<line x1="935.5" y1="1044.1" x2="935.5" y2="1046.9" stroke="#000" stroke-width="1.8"/>
<line x1="960.4" y1="1044.1" x2="960.4" y2="1049.6" stroke="#000" stroke-width="1.8"/>
<line x1="985.3" y1="1044.1" x2="985.3" y2="1046.9" stroke="#000" stroke-width="1.8"/>
<line x1="1010.2" y1="1044.1" x2="1010.2" y2="1049.6" stroke="#000" stroke-width="1.8"/>
<line x1="1035" y1="1044.1" x2="1035" y2="1046.9" stroke="#000" stroke-width="1.8"/>
<line x1="1059.9" y1="1044.1" x2="1059.9" y2="1049.6" stroke="#000" stroke-width="1.8"/>
<text x="661.9" y="1069.3" font-size="19" text-anchor="middle">0.0</text>
<text x="711.6" y="1069.3" font-size="19" text-anchor="middle">0.1</text>
<text x="761.4" y="1069.3" font-size="19" text-anchor="middle">0.2</text>
<text x="811.2" y="1069.3" font-size="19" text-anchor="middle">0.3</text>
<text x="860.9" y="1069.3" font-size="19" text-anchor="middle">0.4</text>
<text x="910.7" y="1069.3" font-size="19" text-anchor="middle">0.5</text>
<text x="960.4" y="1069.3" font-size="19" text-anchor="middle" fill="#444">0.6</text>
<text x="1010.2" y="1069.3" font-size="19" text-anchor="middle" fill="#999">0.7</text>
<text x="1059.9" y="1069.3" font-size="19" text-anchor="middle" fill="#222">0.8</text>
<line x1="656.4" y1="1044.1" x2="661.9" y2="1044.1" stroke="#000" stroke-width="1.8"/>
<text x="651" y="1050.4" font-size="19" text-anchor="end">0.0</text>
<line x1="659.1" y1="1008" x2="661.9" y2="1008" stroke="#000" stroke-width="1.8"/>
<line x1="656.4" y1="971.9" x2="661.9" y2="971.9" stroke="#000" stroke-width="1.8"/>
<text x="651" y="978.2" font-size="19" text-anchor="end">0.2</text>
<line x1="659.1" y1="935.9" x2="661.9" y2="935.9" stroke="#000" stroke-width="1.8"/>
<line x1="656.4" y1="899.8" x2="661.9" y2="899.8" stroke="#000" stroke-width="1.8"/>
<text x="651" y="906.1" font-size="19" text-anchor="end">0.4</text>
<line x1="659.1" y1="863.7" x2="661.9" y2="863.7" stroke="#000" stroke-width="1.8"/>
<line x1="656.4" y1="827.6" x2="661.9" y2="827.6" stroke="#000" stroke-width="1.8"/>
<text x="651" y="833.9" font-size="19" text-anchor="end">0.6</text>
<line x1="659.1" y1="791.6" x2="661.9" y2="791.6" stroke="#000" stroke-width="1.8"/>
<line x1="656.4" y1="755.5" x2="661.9" y2="755.5" stroke="#000" stroke-width="1.8"/>
<text x="651" y="761.8" font-size="19" text-anchor="end">0.8</text>
<text x="861.1" y="1102.4" font-size="21.8" text-anchor="middle">CIE X</text>
<text transform="translate(617,881.4) rotate(-90)" font-size="22" text-anchor="middle">CIE Y</text>
<text transform="translate(607,748.9) scale(0.94,1)" font-size="47">c</text>
<line x1="697" y1="736" x2="699" y2="742.5" stroke="#8a8a8a" stroke-width="1"/>
<text x="694.4" y="733.3" font-size="12" text-anchor="middle" fill="#2626a6" stroke="#2626a6" stroke-width="0.35">520</text>
<line x1="777" y1="770" x2="772" y2="775" stroke="#8a8a8a" stroke-width="1"/>
<text x="790" y="764.4" font-size="12" text-anchor="middle" fill="#2626a6" stroke="#2626a6" stroke-width="0.35">540</text>
<line x1="856" y1="817" x2="851" y2="822" stroke="#8a8a8a" stroke-width="1"/>
<text x="863.3" y="813.3" font-size="12" text-anchor="middle" fill="#2626a6" stroke="#2626a6" stroke-width="0.35">560</text>
<line x1="926" y1="866" x2="921" y2="871" stroke="#8a8a8a" stroke-width="1"/>
<text x="934.4" y="862.2" font-size="12" text-anchor="middle" fill="#2626a6" stroke="#2626a6" stroke-width="0.35">580</text>
<line x1="982" y1="907" x2="976" y2="911" stroke="#8a8a8a" stroke-width="1"/>
<text x="990" y="904.4" font-size="12" text-anchor="middle" fill="#2626a6" stroke="#2626a6" stroke-width="0.35">600</text>
<line x1="1013" y1="929" x2="1007" y2="933" stroke="#8a8a8a" stroke-width="1"/>
<text x="1021.1" y="926.7" font-size="12" text-anchor="middle" fill="#2626a6" stroke="#2626a6" stroke-width="0.35">620</text>
<line x1="655" y1="851" x2="663" y2="850" stroke="#8a8a8a" stroke-width="1"/>
<text x="643.3" y="856.8" font-size="12" text-anchor="middle" fill="#2626a6" stroke="#2626a6" stroke-width="0.35">500</text>
<line x1="698" y1="1001.5" x2="706" y2="999.5" stroke="#8a8a8a" stroke-width="1"/>
<text x="685.6" y="1006" font-size="12" text-anchor="middle" fill="#2626a6" stroke="#2626a6" stroke-width="0.35">480</text>
<line x1="728" y1="1035" x2="734" y2="1032" stroke="#8a8a8a" stroke-width="1"/>
<text x="716.7" y="1040.8" font-size="12" text-anchor="middle" fill="#2626a6" stroke="#2626a6" stroke-width="0.35">460</text>
<path d="M786.7,890C787.7,887.1 790,885.6 793.3,884.2C796.6,882.8 802.5,881.9 806.7,881.7C810.9,881.6 814.4,882.5 818.3,883.3C822.2,884.1 825.3,885.9 830,886.7C834.7,887.5 840.3,887.9 846.7,888.3C853.1,888.7 860.5,889.1 868.3,889.2C876.1,889.4 886.3,888.9 893.3,889.2C900.2,889.5 905,889.5 910,890.8C915,892 919.4,894.1 923.3,896.7C927.2,899.4 931.3,903.1 933.3,906.7C935.2,910.3 935.8,915 935,918.3C934.2,921.6 931.1,924.9 928.3,926.7C925.5,928.5 922.7,928.9 918.3,929.2C913.9,929.5 907.2,928.7 901.7,928.3C896.2,927.9 891.4,927.1 885,926.7C878.6,926.3 869.1,925.8 863.3,925.8C857.5,925.8 853.9,926.1 850,926.7C846.1,927.3 843.3,927.8 840,929.2C836.7,930.6 832.8,932.6 830,935C827.2,937.4 825.8,940.5 823.3,943.3C820.8,946.1 818.3,949.2 815,951.7C811.7,954.2 807.5,956.8 803.3,958.3C799.1,959.8 794.4,960.8 790,960.8C785.6,960.8 780,959.8 776.7,958.3C773.4,956.8 771.1,954.2 770,951.7C768.9,949.2 769.2,946.4 770,943.3C770.8,940.2 773,936.9 775,933.3C777,929.7 779.8,925.3 781.7,921.7C783.7,918.1 785.7,915 786.7,911.7C787.7,908.4 787.5,905.3 787.5,901.7C787.5,898.1 785.7,892.9 786.7,890Z" fill="none" stroke="#111" stroke-width="2.5" stroke-dasharray="6 3.8"/>
<circle cx="805.8" cy="902.5" r="3.6" fill="#000"/>
<circle cx="844.2" cy="908" r="3.6" fill="#000"/>
<circle cx="900.8" cy="915" r="3.6" fill="#000"/>
<circle cx="812.5" cy="919.2" r="3.6" fill="#000"/>
<circle cx="816.7" cy="920.8" r="3.6" fill="#000"/>
<circle cx="821.7" cy="920.8" r="3.6" fill="#000"/>
<circle cx="815.8" cy="923.3" r="3.6" fill="#000"/>
<circle cx="804.7" cy="931.7" r="3.6" fill="#000"/>
<circle cx="791.7" cy="940" r="3.6" fill="#000"/>
<text x="793" y="900" font-size="17">B</text>
<text x="815.5" y="912.5" font-size="17">H</text>
<text x="849" y="907.5" font-size="17">E</text>
<text x="906.3" y="920.8" font-size="17">C</text>
<text x="797.3" y="924.2" font-size="17">A</text>
<text x="828" y="925.8" font-size="17">I</text>
<text x="819" y="940" font-size="17">F</text>
<text x="804" y="949.2" font-size="17">D</text>
<text x="775.5" y="954.2" font-size="17">G</text>
</svg>
</body></html>
